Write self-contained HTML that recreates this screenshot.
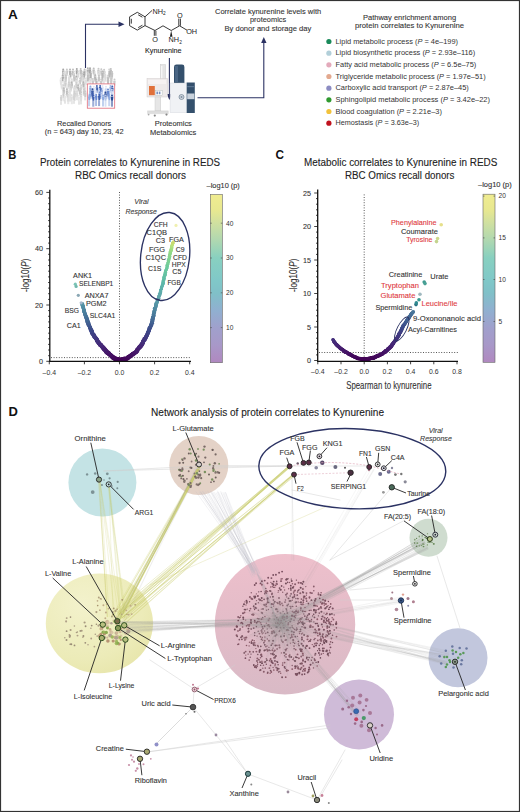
<!DOCTYPE html><html><head><meta charset="utf-8"><style>html,body{margin:0;padding:0;background:#fff}svg{display:block}text{font-family:"Liberation Sans",sans-serif}</style></head><body>
<svg width="520" height="812" viewBox="0 0 520 812">
<rect width="520" height="812" fill="#fff"/>
<text x="8.0" y="18.9" font-size="13.2" fill="#111" font-weight="bold" textLength="9.8" lengthAdjust="spacingAndGlyphs">A</text>
<path d="M85.5 68 V24.3 H120" fill="none" stroke="#2b3263" stroke-width="1.1"/>
<path d="M124.5 24.3 L118.5 21.6 L118.5 27 Z" fill="#2b3263"/>
<g>
<circle cx="63.2" cy="69.5" r="1.0" fill="#a5a5a5"/>
<path d="M62.0 70.6 h2.5 l-0.35 4.3 h-1.8 z" fill="#a5a5a5"/>
<rect x="62.5" y="74.9" width="0.55" height="1.2" fill="#d0d0d0"/><rect x="63.4" y="74.9" width="0.55" height="1.2" fill="#d0d0d0"/>
<circle cx="66.9" cy="69.4" r="1.0" fill="#c8c8c8"/>
<path d="M65.7 70.5 h2.5 l-0.35 4.3 h-1.8 z" fill="#c8c8c8"/>
<rect x="66.2" y="74.8" width="0.55" height="1.2" fill="#d0d0d0"/><rect x="67.1" y="74.8" width="0.55" height="1.2" fill="#d0d0d0"/>
<circle cx="70.0" cy="69.6" r="1.0" fill="#b4b4b4"/>
<path d="M68.8 70.7 h2.5 l-0.35 4.3 h-1.8 z" fill="#b4b4b4"/>
<rect x="69.3" y="75.0" width="0.55" height="1.2" fill="#d0d0d0"/><rect x="70.2" y="75.0" width="0.55" height="1.2" fill="#d0d0d0"/>
<circle cx="73.0" cy="69.6" r="1.0" fill="#bebebe"/>
<path d="M71.7 70.7 h2.5 l-0.35 4.3 h-1.8 z" fill="#bebebe"/>
<rect x="72.2" y="75.0" width="0.55" height="1.2" fill="#d0d0d0"/><rect x="73.2" y="75.0" width="0.55" height="1.2" fill="#d0d0d0"/>
<circle cx="76.8" cy="69.1" r="1.0" fill="#a5a5a5"/>
<path d="M75.6 70.2 h2.5 l-0.35 4.3 h-1.8 z" fill="#a5a5a5"/>
<rect x="76.1" y="74.5" width="0.55" height="1.2" fill="#d0d0d0"/><rect x="77.0" y="74.5" width="0.55" height="1.2" fill="#d0d0d0"/>
<circle cx="80.7" cy="68.9" r="1.0" fill="#bebebe"/>
<path d="M79.5 70.0 h2.5 l-0.35 4.3 h-1.8 z" fill="#bebebe"/>
<rect x="80.0" y="74.3" width="0.55" height="1.2" fill="#d0d0d0"/><rect x="80.9" y="74.3" width="0.55" height="1.2" fill="#d0d0d0"/>
<circle cx="84.6" cy="69.4" r="1.0" fill="#bebebe"/>
<path d="M83.3 70.5 h2.5 l-0.35 4.3 h-1.8 z" fill="#bebebe"/>
<rect x="83.8" y="74.8" width="0.55" height="1.2" fill="#d0d0d0"/><rect x="84.8" y="74.8" width="0.55" height="1.2" fill="#d0d0d0"/>
<circle cx="87.8" cy="68.3" r="1.0" fill="#afafaf"/>
<path d="M86.5 69.4 h2.5 l-0.35 4.3 h-1.8 z" fill="#afafaf"/>
<rect x="87.0" y="73.7" width="0.55" height="1.2" fill="#d0d0d0"/><rect x="88.0" y="73.7" width="0.55" height="1.2" fill="#d0d0d0"/>
<circle cx="90.0" cy="68.2" r="1.0" fill="#a5a5a5"/>
<path d="M88.7 69.3 h2.5 l-0.35 4.3 h-1.8 z" fill="#a5a5a5"/>
<rect x="89.2" y="73.6" width="0.55" height="1.2" fill="#d0d0d0"/><rect x="90.2" y="73.6" width="0.55" height="1.2" fill="#d0d0d0"/>
<circle cx="93.7" cy="68.5" r="1.0" fill="#bebebe"/>
<path d="M92.4 69.6 h2.5 l-0.35 4.3 h-1.8 z" fill="#bebebe"/>
<rect x="92.9" y="73.9" width="0.55" height="1.2" fill="#d0d0d0"/><rect x="93.9" y="73.9" width="0.55" height="1.2" fill="#d0d0d0"/>
<circle cx="98.5" cy="68.7" r="1.0" fill="#c8c8c8"/>
<path d="M97.2 69.8 h2.5 l-0.35 4.3 h-1.8 z" fill="#c8c8c8"/>
<rect x="97.7" y="74.1" width="0.55" height="1.2" fill="#d0d0d0"/><rect x="98.7" y="74.1" width="0.55" height="1.2" fill="#d0d0d0"/>
<circle cx="101.3" cy="69.3" r="1.0" fill="#c8c8c8"/>
<path d="M100.1 70.4 h2.5 l-0.35 4.3 h-1.8 z" fill="#c8c8c8"/>
<rect x="100.6" y="74.7" width="0.55" height="1.2" fill="#d0d0d0"/><rect x="101.5" y="74.7" width="0.55" height="1.2" fill="#d0d0d0"/>
<circle cx="104.1" cy="69.7" r="1.0" fill="#c8c8c8"/>
<path d="M102.9 70.8 h2.5 l-0.35 4.3 h-1.8 z" fill="#c8c8c8"/>
<rect x="103.4" y="75.1" width="0.55" height="1.2" fill="#d0d0d0"/><rect x="104.3" y="75.1" width="0.55" height="1.2" fill="#d0d0d0"/>
<circle cx="109.2" cy="69.6" r="1.0" fill="#d2d2d2"/>
<path d="M107.9 70.7 h2.5 l-0.35 4.3 h-1.8 z" fill="#d2d2d2"/>
<rect x="108.4" y="75.0" width="0.55" height="1.2" fill="#d0d0d0"/><rect x="109.4" y="75.0" width="0.55" height="1.2" fill="#d0d0d0"/>
<circle cx="110.8" cy="68.9" r="1.0" fill="#bebebe"/>
<path d="M109.5 70.0 h2.5 l-0.35 4.3 h-1.8 z" fill="#bebebe"/>
<rect x="110.0" y="74.3" width="0.55" height="1.2" fill="#d0d0d0"/><rect x="111.0" y="74.3" width="0.55" height="1.2" fill="#d0d0d0"/>
<circle cx="63.6" cy="72.5" r="1.0" fill="#dbdbdb"/>
<path d="M62.4 73.6 h2.5 l-0.35 4.3 h-1.8 z" fill="#dbdbdb"/>
<rect x="62.9" y="77.9" width="0.55" height="1.2" fill="#d0d0d0"/><rect x="63.8" y="77.9" width="0.55" height="1.2" fill="#d0d0d0"/>
<circle cx="66.1" cy="72.1" r="1.0" fill="#d6d6d6"/>
<path d="M64.8 73.2 h2.5 l-0.35 4.3 h-1.8 z" fill="#d6d6d6"/>
<rect x="65.3" y="77.5" width="0.55" height="1.2" fill="#d0d0d0"/><rect x="66.3" y="77.5" width="0.55" height="1.2" fill="#d0d0d0"/>
<circle cx="70.4" cy="72.0" r="1.0" fill="#b3b3b3"/>
<path d="M69.2 73.1 h2.5 l-0.35 4.3 h-1.8 z" fill="#b3b3b3"/>
<rect x="69.7" y="77.4" width="0.55" height="1.2" fill="#d0d0d0"/><rect x="70.6" y="77.4" width="0.55" height="1.2" fill="#d0d0d0"/>
<circle cx="73.9" cy="71.8" r="1.0" fill="#d6d6d6"/>
<path d="M72.6 72.9 h2.5 l-0.35 4.3 h-1.8 z" fill="#d6d6d6"/>
<rect x="73.1" y="77.2" width="0.55" height="1.2" fill="#d0d0d0"/><rect x="74.1" y="77.2" width="0.55" height="1.2" fill="#d0d0d0"/>
<circle cx="78.4" cy="71.5" r="1.0" fill="#dbdbdb"/>
<path d="M77.1 72.6 h2.5 l-0.35 4.3 h-1.8 z" fill="#dbdbdb"/>
<rect x="77.6" y="76.9" width="0.55" height="1.2" fill="#d0d0d0"/><rect x="78.6" y="76.9" width="0.55" height="1.2" fill="#d0d0d0"/>
<circle cx="81.6" cy="71.5" r="1.0" fill="#c2c2c2"/>
<path d="M80.4 72.6 h2.5 l-0.35 4.3 h-1.8 z" fill="#c2c2c2"/>
<rect x="80.9" y="76.9" width="0.55" height="1.2" fill="#d0d0d0"/><rect x="81.8" y="76.9" width="0.55" height="1.2" fill="#d0d0d0"/>
<circle cx="84.2" cy="72.4" r="1.0" fill="#a9a9a9"/>
<path d="M82.9 73.5 h2.5 l-0.35 4.3 h-1.8 z" fill="#a9a9a9"/>
<rect x="83.4" y="77.8" width="0.55" height="1.2" fill="#d0d0d0"/><rect x="84.4" y="77.8" width="0.55" height="1.2" fill="#d0d0d0"/>
<circle cx="87.8" cy="72.6" r="1.0" fill="#cccccc"/>
<path d="M86.6 73.7 h2.5 l-0.35 4.3 h-1.8 z" fill="#cccccc"/>
<rect x="87.1" y="78.0" width="0.55" height="1.2" fill="#d0d0d0"/><rect x="88.0" y="78.0" width="0.55" height="1.2" fill="#d0d0d0"/>
<circle cx="90.7" cy="71.9" r="1.0" fill="#b3b3b3"/>
<path d="M89.4 73.0 h2.5 l-0.35 4.3 h-1.8 z" fill="#b3b3b3"/>
<rect x="89.9" y="77.3" width="0.55" height="1.2" fill="#d0d0d0"/><rect x="90.9" y="77.3" width="0.55" height="1.2" fill="#d0d0d0"/>
<circle cx="94.6" cy="72.1" r="1.0" fill="#d6d6d6"/>
<path d="M93.4 73.2 h2.5 l-0.35 4.3 h-1.8 z" fill="#d6d6d6"/>
<rect x="93.9" y="77.5" width="0.55" height="1.2" fill="#d0d0d0"/><rect x="94.8" y="77.5" width="0.55" height="1.2" fill="#d0d0d0"/>
<circle cx="99.0" cy="71.7" r="1.0" fill="#dbdbdb"/>
<path d="M97.7 72.8 h2.5 l-0.35 4.3 h-1.8 z" fill="#dbdbdb"/>
<rect x="98.2" y="77.1" width="0.55" height="1.2" fill="#d0d0d0"/><rect x="99.2" y="77.1" width="0.55" height="1.2" fill="#d0d0d0"/>
<circle cx="102.7" cy="71.6" r="1.0" fill="#b8b8b8"/>
<path d="M101.4 72.7 h2.5 l-0.35 4.3 h-1.8 z" fill="#b8b8b8"/>
<rect x="101.9" y="77.0" width="0.55" height="1.2" fill="#d0d0d0"/><rect x="102.9" y="77.0" width="0.55" height="1.2" fill="#d0d0d0"/>
<circle cx="104.9" cy="72.3" r="1.0" fill="#dbdbdb"/>
<path d="M103.6 73.4 h2.5 l-0.35 4.3 h-1.8 z" fill="#dbdbdb"/>
<rect x="104.1" y="77.7" width="0.55" height="1.2" fill="#d0d0d0"/><rect x="105.1" y="77.7" width="0.55" height="1.2" fill="#d0d0d0"/>
<circle cx="109.8" cy="72.0" r="1.0" fill="#b8b8b8"/>
<path d="M108.5 73.1 h2.5 l-0.35 4.3 h-1.8 z" fill="#b8b8b8"/>
<rect x="109.0" y="77.4" width="0.55" height="1.2" fill="#d0d0d0"/><rect x="110.0" y="77.4" width="0.55" height="1.2" fill="#d0d0d0"/>
<circle cx="112.1" cy="72.0" r="1.0" fill="#c2c2c2"/>
<path d="M110.8 73.1 h2.5 l-0.35 4.3 h-1.8 z" fill="#c2c2c2"/>
<rect x="111.3" y="77.4" width="0.55" height="1.2" fill="#d0d0d0"/><rect x="112.3" y="77.4" width="0.55" height="1.2" fill="#d0d0d0"/>
<circle cx="62.7" cy="75.6" r="1.0" fill="#adadad"/>
<path d="M61.5 76.7 h2.5 l-0.35 4.3 h-1.8 z" fill="#adadad"/>
<rect x="62.0" y="81.0" width="0.55" height="1.2" fill="#d0d0d0"/><rect x="62.9" y="81.0" width="0.55" height="1.2" fill="#d0d0d0"/>
<circle cx="65.8" cy="75.8" r="1.0" fill="#c6c6c6"/>
<path d="M64.5 76.9 h2.5 l-0.35 4.3 h-1.8 z" fill="#c6c6c6"/>
<rect x="65.0" y="81.2" width="0.55" height="1.2" fill="#d0d0d0"/><rect x="66.0" y="81.2" width="0.55" height="1.2" fill="#d0d0d0"/>
<circle cx="69.2" cy="76.0" r="1.0" fill="#dfdfdf"/>
<path d="M67.9 77.1 h2.5 l-0.35 4.3 h-1.8 z" fill="#dfdfdf"/>
<rect x="68.4" y="81.4" width="0.55" height="1.2" fill="#d0d0d0"/><rect x="69.4" y="81.4" width="0.55" height="1.2" fill="#d0d0d0"/>
<circle cx="74.2" cy="75.5" r="1.0" fill="#c6c6c6"/>
<path d="M73.0 76.6 h2.5 l-0.35 4.3 h-1.8 z" fill="#c6c6c6"/>
<rect x="73.5" y="80.9" width="0.55" height="1.2" fill="#d0d0d0"/><rect x="74.4" y="80.9" width="0.55" height="1.2" fill="#d0d0d0"/>
<circle cx="76.4" cy="76.4" r="1.0" fill="#adadad"/>
<path d="M75.1 77.5 h2.5 l-0.35 4.3 h-1.8 z" fill="#adadad"/>
<rect x="75.6" y="81.8" width="0.55" height="1.2" fill="#d0d0d0"/><rect x="76.6" y="81.8" width="0.55" height="1.2" fill="#d0d0d0"/>
<circle cx="81.2" cy="75.3" r="1.0" fill="#d0d0d0"/>
<path d="M79.9 76.4 h2.5 l-0.35 4.3 h-1.8 z" fill="#d0d0d0"/>
<rect x="80.4" y="80.7" width="0.55" height="1.2" fill="#d0d0d0"/><rect x="81.4" y="80.7" width="0.55" height="1.2" fill="#d0d0d0"/>
<circle cx="83.4" cy="76.0" r="1.0" fill="#c6c6c6"/>
<path d="M82.1 77.1 h2.5 l-0.35 4.3 h-1.8 z" fill="#c6c6c6"/>
<rect x="82.6" y="81.4" width="0.55" height="1.2" fill="#d0d0d0"/><rect x="83.6" y="81.4" width="0.55" height="1.2" fill="#d0d0d0"/>
<circle cx="87.9" cy="76.1" r="1.0" fill="#bcbcbc"/>
<path d="M86.6 77.2 h2.5 l-0.35 4.3 h-1.8 z" fill="#bcbcbc"/>
<rect x="87.1" y="81.5" width="0.55" height="1.2" fill="#d0d0d0"/><rect x="88.1" y="81.5" width="0.55" height="1.2" fill="#d0d0d0"/>
<circle cx="90.4" cy="75.4" r="1.0" fill="#adadad"/>
<path d="M89.2 76.5 h2.5 l-0.35 4.3 h-1.8 z" fill="#adadad"/>
<rect x="89.7" y="80.8" width="0.55" height="1.2" fill="#d0d0d0"/><rect x="90.6" y="80.8" width="0.55" height="1.2" fill="#d0d0d0"/>
<circle cx="95.3" cy="75.3" r="1.0" fill="#b7b7b7"/>
<path d="M94.0 76.4 h2.5 l-0.35 4.3 h-1.8 z" fill="#b7b7b7"/>
<rect x="94.5" y="80.7" width="0.55" height="1.2" fill="#d0d0d0"/><rect x="95.5" y="80.7" width="0.55" height="1.2" fill="#d0d0d0"/>
<circle cx="98.9" cy="75.8" r="1.0" fill="#c6c6c6"/>
<path d="M97.7 76.9 h2.5 l-0.35 4.3 h-1.8 z" fill="#c6c6c6"/>
<rect x="98.2" y="81.2" width="0.55" height="1.2" fill="#d0d0d0"/><rect x="99.1" y="81.2" width="0.55" height="1.2" fill="#d0d0d0"/>
<circle cx="102.5" cy="75.5" r="1.0" fill="#b7b7b7"/>
<path d="M101.3 76.6 h2.5 l-0.35 4.3 h-1.8 z" fill="#b7b7b7"/>
<rect x="101.8" y="80.9" width="0.55" height="1.2" fill="#d0d0d0"/><rect x="102.7" y="80.9" width="0.55" height="1.2" fill="#d0d0d0"/>
<circle cx="105.5" cy="75.3" r="1.0" fill="#dadada"/>
<path d="M104.2 76.4 h2.5 l-0.35 4.3 h-1.8 z" fill="#dadada"/>
<rect x="104.7" y="80.7" width="0.55" height="1.2" fill="#d0d0d0"/><rect x="105.7" y="80.7" width="0.55" height="1.2" fill="#d0d0d0"/>
<circle cx="108.2" cy="75.4" r="1.0" fill="#c6c6c6"/>
<path d="M106.9 76.5 h2.5 l-0.35 4.3 h-1.8 z" fill="#c6c6c6"/>
<rect x="107.4" y="80.8" width="0.55" height="1.2" fill="#d0d0d0"/><rect x="108.4" y="80.8" width="0.55" height="1.2" fill="#d0d0d0"/>
<circle cx="111.3" cy="76.1" r="1.0" fill="#c6c6c6"/>
<path d="M110.1 77.2 h2.5 l-0.35 4.3 h-1.8 z" fill="#c6c6c6"/>
<rect x="110.6" y="81.5" width="0.55" height="1.2" fill="#d0d0d0"/><rect x="111.5" y="81.5" width="0.55" height="1.2" fill="#d0d0d0"/>
<circle cx="60.9" cy="78.5" r="1.0" fill="#e3e3e3"/>
<path d="M59.6 79.6 h2.5 l-0.35 4.3 h-1.8 z" fill="#e3e3e3"/>
<rect x="60.1" y="83.9" width="0.55" height="1.2" fill="#d0d0d0"/><rect x="61.1" y="83.9" width="0.55" height="1.2" fill="#d0d0d0"/>
<circle cx="64.3" cy="79.4" r="1.0" fill="#e3e3e3"/>
<path d="M63.1 80.5 h2.5 l-0.35 4.3 h-1.8 z" fill="#e3e3e3"/>
<rect x="63.6" y="84.8" width="0.55" height="1.2" fill="#d0d0d0"/><rect x="64.5" y="84.8" width="0.55" height="1.2" fill="#d0d0d0"/>
<circle cx="69.1" cy="79.2" r="1.0" fill="#dedede"/>
<path d="M67.9 80.3 h2.5 l-0.35 4.3 h-1.8 z" fill="#dedede"/>
<rect x="68.4" y="84.6" width="0.55" height="1.2" fill="#d0d0d0"/><rect x="69.3" y="84.6" width="0.55" height="1.2" fill="#d0d0d0"/>
<circle cx="71.9" cy="79.2" r="1.0" fill="#dedede"/>
<path d="M70.7 80.3 h2.5 l-0.35 4.3 h-1.8 z" fill="#dedede"/>
<rect x="71.2" y="84.6" width="0.55" height="1.2" fill="#d0d0d0"/><rect x="72.1" y="84.6" width="0.55" height="1.2" fill="#d0d0d0"/>
<circle cx="76.4" cy="78.5" r="1.0" fill="#dedede"/>
<path d="M75.1 79.6 h2.5 l-0.35 4.3 h-1.8 z" fill="#dedede"/>
<rect x="75.6" y="83.9" width="0.55" height="1.2" fill="#d0d0d0"/><rect x="76.6" y="83.9" width="0.55" height="1.2" fill="#d0d0d0"/>
<circle cx="80.1" cy="78.6" r="1.0" fill="#cacaca"/>
<path d="M78.9 79.7 h2.5 l-0.35 4.3 h-1.8 z" fill="#cacaca"/>
<rect x="79.4" y="84.0" width="0.55" height="1.2" fill="#d0d0d0"/><rect x="80.3" y="84.0" width="0.55" height="1.2" fill="#d0d0d0"/>
<circle cx="82.9" cy="78.1" r="1.0" fill="#dedede"/>
<path d="M81.6 79.2 h2.5 l-0.35 4.3 h-1.8 z" fill="#dedede"/>
<rect x="82.1" y="83.5" width="0.55" height="1.2" fill="#d0d0d0"/><rect x="83.1" y="83.5" width="0.55" height="1.2" fill="#d0d0d0"/>
<circle cx="85.9" cy="78.5" r="1.0" fill="#dedede"/>
<path d="M84.6 79.6 h2.5 l-0.35 4.3 h-1.8 z" fill="#dedede"/>
<rect x="85.1" y="83.9" width="0.55" height="1.2" fill="#d0d0d0"/><rect x="86.1" y="83.9" width="0.55" height="1.2" fill="#d0d0d0"/>
<circle cx="90.4" cy="79.1" r="1.0" fill="#e3e3e3"/>
<path d="M89.1 80.2 h2.5 l-0.35 4.3 h-1.8 z" fill="#e3e3e3"/>
<rect x="89.6" y="84.5" width="0.55" height="1.2" fill="#d0d0d0"/><rect x="90.6" y="84.5" width="0.55" height="1.2" fill="#d0d0d0"/>
<circle cx="92.9" cy="79.1" r="1.0" fill="#cacaca"/>
<path d="M91.7 80.2 h2.5 l-0.35 4.3 h-1.8 z" fill="#cacaca"/>
<rect x="92.2" y="84.5" width="0.55" height="1.2" fill="#d0d0d0"/><rect x="93.1" y="84.5" width="0.55" height="1.2" fill="#d0d0d0"/>
<circle cx="96.4" cy="79.4" r="1.0" fill="#bbbbbb"/>
<path d="M95.2 80.5 h2.5 l-0.35 4.3 h-1.8 z" fill="#bbbbbb"/>
<rect x="95.7" y="84.8" width="0.55" height="1.2" fill="#d0d0d0"/><rect x="96.6" y="84.8" width="0.55" height="1.2" fill="#d0d0d0"/>
<circle cx="101.2" cy="79.6" r="1.0" fill="#cacaca"/>
<path d="M99.9 80.7 h2.5 l-0.35 4.3 h-1.8 z" fill="#cacaca"/>
<rect x="100.4" y="85.0" width="0.55" height="1.2" fill="#d0d0d0"/><rect x="101.4" y="85.0" width="0.55" height="1.2" fill="#d0d0d0"/>
<circle cx="103.8" cy="78.4" r="1.0" fill="#e3e3e3"/>
<path d="M102.5 79.5 h2.5 l-0.35 4.3 h-1.8 z" fill="#e3e3e3"/>
<rect x="103.0" y="83.8" width="0.55" height="1.2" fill="#d0d0d0"/><rect x="104.0" y="83.8" width="0.55" height="1.2" fill="#d0d0d0"/>
<circle cx="108.1" cy="78.9" r="1.0" fill="#c0c0c0"/>
<path d="M106.8 80.0 h2.5 l-0.35 4.3 h-1.8 z" fill="#c0c0c0"/>
<rect x="107.3" y="84.3" width="0.55" height="1.2" fill="#d0d0d0"/><rect x="108.3" y="84.3" width="0.55" height="1.2" fill="#d0d0d0"/>
<circle cx="111.2" cy="79.3" r="1.0" fill="#cacaca"/>
<path d="M109.9 80.4 h2.5 l-0.35 4.3 h-1.8 z" fill="#cacaca"/>
<rect x="110.4" y="84.7" width="0.55" height="1.2" fill="#d0d0d0"/><rect x="111.4" y="84.7" width="0.55" height="1.2" fill="#d0d0d0"/>
<circle cx="114.5" cy="79.6" r="1.0" fill="#cacaca"/>
<path d="M113.2 80.7 h2.5 l-0.35 4.3 h-1.8 z" fill="#cacaca"/>
<rect x="113.7" y="85.0" width="0.55" height="1.2" fill="#d0d0d0"/><rect x="114.7" y="85.0" width="0.55" height="1.2" fill="#d0d0d0"/>
<circle cx="61.7" cy="82.8" r="1.0" fill="#e2e2e2"/>
<path d="M60.4 83.9 h2.5 l-0.35 4.3 h-1.8 z" fill="#e2e2e2"/>
<rect x="60.9" y="88.2" width="0.55" height="1.2" fill="#d0d0d0"/><rect x="61.9" y="88.2" width="0.55" height="1.2" fill="#d0d0d0"/>
<circle cx="65.5" cy="81.4" r="1.0" fill="#cecece"/>
<path d="M64.3 82.5 h2.5 l-0.35 4.3 h-1.8 z" fill="#cecece"/>
<rect x="64.8" y="86.8" width="0.55" height="1.2" fill="#d0d0d0"/><rect x="65.7" y="86.8" width="0.55" height="1.2" fill="#d0d0d0"/>
<circle cx="68.8" cy="82.4" r="1.0" fill="#cecece"/>
<path d="M67.5 83.5 h2.5 l-0.35 4.3 h-1.8 z" fill="#cecece"/>
<rect x="68.0" y="87.8" width="0.55" height="1.2" fill="#d0d0d0"/><rect x="69.0" y="87.8" width="0.55" height="1.2" fill="#d0d0d0"/>
<circle cx="71.5" cy="82.5" r="1.0" fill="#b5b5b5"/>
<path d="M70.3 83.6 h2.5 l-0.35 4.3 h-1.8 z" fill="#b5b5b5"/>
<rect x="70.8" y="87.9" width="0.55" height="1.2" fill="#d0d0d0"/><rect x="71.7" y="87.9" width="0.55" height="1.2" fill="#d0d0d0"/>
<circle cx="76.6" cy="83.0" r="1.0" fill="#cecece"/>
<path d="M75.3 84.1 h2.5 l-0.35 4.3 h-1.8 z" fill="#cecece"/>
<rect x="75.8" y="88.4" width="0.55" height="1.2" fill="#d0d0d0"/><rect x="76.8" y="88.4" width="0.55" height="1.2" fill="#d0d0d0"/>
<circle cx="78.2" cy="81.6" r="1.0" fill="#e6e6e6"/>
<path d="M76.9 82.7 h2.5 l-0.35 4.3 h-1.8 z" fill="#e6e6e6"/>
<rect x="77.4" y="87.0" width="0.55" height="1.2" fill="#d0d0d0"/><rect x="78.4" y="87.0" width="0.55" height="1.2" fill="#d0d0d0"/>
<circle cx="83.5" cy="82.2" r="1.0" fill="#b5b5b5"/>
<path d="M82.3 83.3 h2.5 l-0.35 4.3 h-1.8 z" fill="#b5b5b5"/>
<rect x="82.8" y="87.6" width="0.55" height="1.2" fill="#d0d0d0"/><rect x="83.7" y="87.6" width="0.55" height="1.2" fill="#d0d0d0"/>
<circle cx="63.5" cy="85.3" r="1.0" fill="#d2d2d2"/>
<path d="M62.3 86.4 h2.5 l-0.35 4.3 h-1.8 z" fill="#d2d2d2"/>
<rect x="62.8" y="90.7" width="0.55" height="1.2" fill="#d0d0d0"/><rect x="63.7" y="90.7" width="0.55" height="1.2" fill="#d0d0d0"/>
<circle cx="67.3" cy="86.0" r="1.0" fill="#e6e6e6"/>
<path d="M66.0 87.1 h2.5 l-0.35 4.3 h-1.8 z" fill="#e6e6e6"/>
<rect x="66.5" y="91.4" width="0.55" height="1.2" fill="#d0d0d0"/><rect x="67.5" y="91.4" width="0.55" height="1.2" fill="#d0d0d0"/>
<circle cx="70.9" cy="85.0" r="1.0" fill="#d2d2d2"/>
<path d="M69.6 86.1 h2.5 l-0.35 4.3 h-1.8 z" fill="#d2d2d2"/>
<rect x="70.1" y="90.4" width="0.55" height="1.2" fill="#d0d0d0"/><rect x="71.1" y="90.4" width="0.55" height="1.2" fill="#d0d0d0"/>
<circle cx="74.6" cy="86.2" r="1.0" fill="#d2d2d2"/>
<path d="M73.3 87.3 h2.5 l-0.35 4.3 h-1.8 z" fill="#d2d2d2"/>
<rect x="73.8" y="91.6" width="0.55" height="1.2" fill="#d0d0d0"/><rect x="74.8" y="91.6" width="0.55" height="1.2" fill="#d0d0d0"/>
<circle cx="78.1" cy="85.3" r="1.0" fill="#b9b9b9"/>
<path d="M76.9 86.4 h2.5 l-0.35 4.3 h-1.8 z" fill="#b9b9b9"/>
<rect x="77.4" y="90.7" width="0.55" height="1.2" fill="#d0d0d0"/><rect x="78.3" y="90.7" width="0.55" height="1.2" fill="#d0d0d0"/>
<circle cx="81.2" cy="85.2" r="1.0" fill="#d2d2d2"/>
<path d="M79.9 86.3 h2.5 l-0.35 4.3 h-1.8 z" fill="#d2d2d2"/>
<rect x="80.4" y="90.6" width="0.55" height="1.2" fill="#d0d0d0"/><rect x="81.4" y="90.6" width="0.55" height="1.2" fill="#d0d0d0"/>
<circle cx="84.6" cy="86.1" r="1.0" fill="#d2d2d2"/>
<path d="M83.3 87.2 h2.5 l-0.35 4.3 h-1.8 z" fill="#d2d2d2"/>
<rect x="83.8" y="91.5" width="0.55" height="1.2" fill="#d0d0d0"/><rect x="84.8" y="91.5" width="0.55" height="1.2" fill="#d0d0d0"/>
<circle cx="63.8" cy="88.4" r="1.0" fill="#bdbdbd"/>
<path d="M62.5 89.5 h2.5 l-0.35 4.3 h-1.8 z" fill="#bdbdbd"/>
<rect x="63.0" y="93.8" width="0.55" height="1.2" fill="#d0d0d0"/><rect x="64.0" y="93.8" width="0.55" height="1.2" fill="#d0d0d0"/>
<circle cx="66.9" cy="89.3" r="1.0" fill="#bdbdbd"/>
<path d="M65.7 90.4 h2.5 l-0.35 4.3 h-1.8 z" fill="#bdbdbd"/>
<rect x="66.2" y="94.7" width="0.55" height="1.2" fill="#d0d0d0"/><rect x="67.1" y="94.7" width="0.55" height="1.2" fill="#d0d0d0"/>
<circle cx="69.8" cy="88.9" r="1.0" fill="#e0e0e0"/>
<path d="M68.6 90.0 h2.5 l-0.35 4.3 h-1.8 z" fill="#e0e0e0"/>
<rect x="69.1" y="94.3" width="0.55" height="1.2" fill="#d0d0d0"/><rect x="70.0" y="94.3" width="0.55" height="1.2" fill="#d0d0d0"/>
<circle cx="74.2" cy="89.3" r="1.0" fill="#e0e0e0"/>
<path d="M73.0 90.4 h2.5 l-0.35 4.3 h-1.8 z" fill="#e0e0e0"/>
<rect x="73.5" y="94.7" width="0.55" height="1.2" fill="#d0d0d0"/><rect x="74.4" y="94.7" width="0.55" height="1.2" fill="#d0d0d0"/>
<circle cx="76.9" cy="89.4" r="1.0" fill="#e6e6e6"/>
<path d="M75.6 90.5 h2.5 l-0.35 4.3 h-1.8 z" fill="#e6e6e6"/>
<rect x="76.1" y="94.8" width="0.55" height="1.2" fill="#d0d0d0"/><rect x="77.1" y="94.8" width="0.55" height="1.2" fill="#d0d0d0"/>
<circle cx="80.0" cy="89.0" r="1.0" fill="#c7c7c7"/>
<path d="M78.7 90.1 h2.5 l-0.35 4.3 h-1.8 z" fill="#c7c7c7"/>
<rect x="79.2" y="94.4" width="0.55" height="1.2" fill="#d0d0d0"/><rect x="80.2" y="94.4" width="0.55" height="1.2" fill="#d0d0d0"/>
<circle cx="83.9" cy="89.4" r="1.0" fill="#cccccc"/>
<path d="M82.7 90.5 h2.5 l-0.35 4.3 h-1.8 z" fill="#cccccc"/>
<rect x="83.2" y="94.8" width="0.55" height="1.2" fill="#d0d0d0"/><rect x="84.1" y="94.8" width="0.55" height="1.2" fill="#d0d0d0"/>
<circle cx="63.6" cy="92.4" r="1.0" fill="#cbcbcb"/>
<path d="M62.3 93.5 h2.5 l-0.35 4.3 h-1.8 z" fill="#cbcbcb"/>
<rect x="62.8" y="97.8" width="0.55" height="3.5" fill="#d0d0d0"/><rect x="63.8" y="97.8" width="0.55" height="3.5" fill="#d0d0d0"/>
<circle cx="67.6" cy="92.6" r="1.0" fill="#cbcbcb"/>
<path d="M66.4 93.7 h2.5 l-0.35 4.3 h-1.8 z" fill="#cbcbcb"/>
<rect x="66.9" y="98.0" width="0.55" height="3.5" fill="#d0d0d0"/><rect x="67.8" y="98.0" width="0.55" height="3.5" fill="#d0d0d0"/>
<circle cx="70.2" cy="92.7" r="1.0" fill="#e4e4e4"/>
<path d="M68.9 93.8 h2.5 l-0.35 4.3 h-1.8 z" fill="#e4e4e4"/>
<rect x="69.4" y="98.1" width="0.55" height="3.5" fill="#d0d0d0"/><rect x="70.4" y="98.1" width="0.55" height="3.5" fill="#d0d0d0"/>
<circle cx="74.7" cy="92.0" r="1.0" fill="#d0d0d0"/>
<path d="M73.5 93.1 h2.5 l-0.35 4.3 h-1.8 z" fill="#d0d0d0"/>
<rect x="74.0" y="97.4" width="0.55" height="3.5" fill="#d0d0d0"/><rect x="74.9" y="97.4" width="0.55" height="3.5" fill="#d0d0d0"/>
<circle cx="77.0" cy="91.3" r="1.0" fill="#dadada"/>
<path d="M75.8 92.4 h2.5 l-0.35 4.3 h-1.8 z" fill="#dadada"/>
<rect x="76.3" y="96.7" width="0.55" height="3.5" fill="#d0d0d0"/><rect x="77.2" y="96.7" width="0.55" height="3.5" fill="#d0d0d0"/>
<circle cx="81.1" cy="92.3" r="1.0" fill="#cbcbcb"/>
<path d="M79.8 93.4 h2.5 l-0.35 4.3 h-1.8 z" fill="#cbcbcb"/>
<rect x="80.3" y="97.7" width="0.55" height="3.5" fill="#d0d0d0"/><rect x="81.3" y="97.7" width="0.55" height="3.5" fill="#d0d0d0"/>
<circle cx="85.2" cy="91.5" r="1.0" fill="#cbcbcb"/>
<path d="M84.0 92.6 h2.5 l-0.35 4.3 h-1.8 z" fill="#cbcbcb"/>
<rect x="84.5" y="96.9" width="0.55" height="3.5" fill="#d0d0d0"/><rect x="85.4" y="96.9" width="0.55" height="3.5" fill="#d0d0d0"/>
<circle cx="61.2" cy="95.9" r="1.0" fill="#d4d4d4"/>
<path d="M59.9 97.0 h2.5 l-0.35 4.3 h-1.8 z" fill="#d4d4d4"/>
<rect x="60.4" y="101.3" width="0.55" height="3.5" fill="#d0d0d0"/><rect x="61.4" y="101.3" width="0.55" height="3.5" fill="#d0d0d0"/>
<circle cx="64.9" cy="94.8" r="1.0" fill="#e6e6e6"/>
<path d="M63.6 95.9 h2.5 l-0.35 4.3 h-1.8 z" fill="#e6e6e6"/>
<rect x="64.1" y="100.2" width="0.55" height="3.5" fill="#d0d0d0"/><rect x="65.1" y="100.2" width="0.55" height="3.5" fill="#d0d0d0"/>
<circle cx="68.4" cy="95.3" r="1.0" fill="#dedede"/>
<path d="M67.1 96.4 h2.5 l-0.35 4.3 h-1.8 z" fill="#dedede"/>
<rect x="67.6" y="100.7" width="0.55" height="3.5" fill="#d0d0d0"/><rect x="68.6" y="100.7" width="0.55" height="3.5" fill="#d0d0d0"/>
<circle cx="71.7" cy="95.3" r="1.0" fill="#dedede"/>
<path d="M70.4 96.4 h2.5 l-0.35 4.3 h-1.8 z" fill="#dedede"/>
<rect x="70.9" y="100.7" width="0.55" height="3.5" fill="#d0d0d0"/><rect x="71.9" y="100.7" width="0.55" height="3.5" fill="#d0d0d0"/>
<circle cx="74.1" cy="94.9" r="1.0" fill="#d4d4d4"/>
<path d="M72.8 96.0 h2.5 l-0.35 4.3 h-1.8 z" fill="#d4d4d4"/>
<rect x="73.3" y="100.3" width="0.55" height="3.5" fill="#d0d0d0"/><rect x="74.3" y="100.3" width="0.55" height="3.5" fill="#d0d0d0"/>
<circle cx="78.8" cy="95.8" r="1.0" fill="#e6e6e6"/>
<path d="M77.5 96.9 h2.5 l-0.35 4.3 h-1.8 z" fill="#e6e6e6"/>
<rect x="78.0" y="101.2" width="0.55" height="3.5" fill="#d0d0d0"/><rect x="79.0" y="101.2" width="0.55" height="3.5" fill="#d0d0d0"/>
<circle cx="81.1" cy="95.5" r="1.0" fill="#dedede"/>
<path d="M79.8 96.6 h2.5 l-0.35 4.3 h-1.8 z" fill="#dedede"/>
<rect x="80.3" y="100.9" width="0.55" height="3.5" fill="#d0d0d0"/><rect x="81.3" y="100.9" width="0.55" height="3.5" fill="#d0d0d0"/>
<rect x="87.3" y="83.9" width="27.4" height="24.3" fill="#fff" stroke="#e06a78" stroke-width="0.8"/>
<circle cx="90.4" cy="86.4" r="1.0" fill="#8fabe0"/>
<path d="M89.1 87.5 h2.5 l-0.35 4.0 h-1.8 z" fill="#8fabe0"/>
<rect x="89.6" y="91.5" width="0.55" height="1.5" fill="#8fabe0"/><rect x="90.6" y="91.5" width="0.55" height="1.5" fill="#8fabe0"/>
<circle cx="93.8" cy="86.8" r="1.0" fill="#dfe6f6"/>
<path d="M92.5 87.9 h2.5 l-0.35 4.0 h-1.8 z" fill="#dfe6f6"/>
<rect x="93.0" y="91.9" width="0.55" height="1.5" fill="#dfe6f6"/><rect x="94.0" y="91.9" width="0.55" height="1.5" fill="#dfe6f6"/>
<circle cx="96.9" cy="86.1" r="1.0" fill="#3f5faf"/>
<path d="M95.7 87.2 h2.5 l-0.35 4.0 h-1.8 z" fill="#3f5faf"/>
<rect x="96.2" y="91.2" width="0.55" height="1.5" fill="#3f5faf"/><rect x="97.1" y="91.2" width="0.55" height="1.5" fill="#3f5faf"/>
<circle cx="100.1" cy="86.0" r="1.0" fill="#3f5faf"/>
<path d="M98.9 87.1 h2.5 l-0.35 4.0 h-1.8 z" fill="#3f5faf"/>
<rect x="99.4" y="91.1" width="0.55" height="1.5" fill="#3f5faf"/><rect x="100.3" y="91.1" width="0.55" height="1.5" fill="#3f5faf"/>
<circle cx="102.5" cy="86.0" r="1.0" fill="#dfe6f6"/>
<path d="M101.3 87.1 h2.5 l-0.35 4.0 h-1.8 z" fill="#dfe6f6"/>
<rect x="101.8" y="91.1" width="0.55" height="1.5" fill="#dfe6f6"/><rect x="102.7" y="91.1" width="0.55" height="1.5" fill="#dfe6f6"/>
<circle cx="106.0" cy="86.8" r="1.0" fill="#dfe6f6"/>
<path d="M104.8 87.9 h2.5 l-0.35 4.0 h-1.8 z" fill="#dfe6f6"/>
<rect x="105.3" y="91.9" width="0.55" height="1.5" fill="#dfe6f6"/><rect x="106.2" y="91.9" width="0.55" height="1.5" fill="#dfe6f6"/>
<circle cx="110.5" cy="86.0" r="1.0" fill="#9fb6e4"/>
<path d="M109.3 87.1 h2.5 l-0.35 4.0 h-1.8 z" fill="#9fb6e4"/>
<rect x="109.8" y="91.1" width="0.55" height="1.5" fill="#9fb6e4"/><rect x="110.7" y="91.1" width="0.55" height="1.5" fill="#9fb6e4"/>
<circle cx="112.3" cy="86.6" r="1.0" fill="#3f5faf"/>
<path d="M111.1 87.7 h2.5 l-0.35 4.0 h-1.8 z" fill="#3f5faf"/>
<rect x="111.6" y="91.7" width="0.55" height="1.5" fill="#3f5faf"/><rect x="112.5" y="91.7" width="0.55" height="1.5" fill="#3f5faf"/>
<circle cx="92.5" cy="89.3" r="1.0" fill="#2a4a96"/>
<path d="M91.2 90.4 h2.5 l-0.35 4.0 h-1.8 z" fill="#2a4a96"/>
<rect x="91.7" y="94.4" width="0.55" height="1.5" fill="#2a4a96"/><rect x="92.7" y="94.4" width="0.55" height="1.5" fill="#2a4a96"/>
<circle cx="95.4" cy="89.0" r="1.0" fill="#dfe6f6"/>
<path d="M94.2 90.1 h2.5 l-0.35 4.0 h-1.8 z" fill="#dfe6f6"/>
<rect x="94.7" y="94.1" width="0.55" height="1.5" fill="#dfe6f6"/><rect x="95.6" y="94.1" width="0.55" height="1.5" fill="#dfe6f6"/>
<circle cx="98.9" cy="89.0" r="1.0" fill="#c8d4f0"/>
<path d="M97.6 90.1 h2.5 l-0.35 4.0 h-1.8 z" fill="#c8d4f0"/>
<rect x="98.1" y="94.1" width="0.55" height="1.5" fill="#c8d4f0"/><rect x="99.1" y="94.1" width="0.55" height="1.5" fill="#c8d4f0"/>
<circle cx="101.4" cy="89.1" r="1.0" fill="#6a8ad0"/>
<path d="M100.2 90.2 h2.5 l-0.35 4.0 h-1.8 z" fill="#6a8ad0"/>
<rect x="100.7" y="94.2" width="0.55" height="1.5" fill="#6a8ad0"/><rect x="101.6" y="94.2" width="0.55" height="1.5" fill="#6a8ad0"/>
<circle cx="105.6" cy="89.6" r="1.0" fill="#c8d4f0"/>
<path d="M104.4 90.7 h2.5 l-0.35 4.0 h-1.8 z" fill="#c8d4f0"/>
<rect x="104.9" y="94.7" width="0.55" height="1.5" fill="#c8d4f0"/><rect x="105.8" y="94.7" width="0.55" height="1.5" fill="#c8d4f0"/>
<circle cx="108.0" cy="89.6" r="1.0" fill="#6a8ad0"/>
<path d="M106.8 90.7 h2.5 l-0.35 4.0 h-1.8 z" fill="#6a8ad0"/>
<rect x="107.3" y="94.7" width="0.55" height="1.5" fill="#6a8ad0"/><rect x="108.2" y="94.7" width="0.55" height="1.5" fill="#6a8ad0"/>
<circle cx="111.8" cy="89.7" r="1.0" fill="#c8d4f0"/>
<path d="M110.5 90.8 h2.5 l-0.35 4.0 h-1.8 z" fill="#c8d4f0"/>
<rect x="111.0" y="94.8" width="0.55" height="1.5" fill="#c8d4f0"/><rect x="112.0" y="94.8" width="0.55" height="1.5" fill="#c8d4f0"/>
<circle cx="90.1" cy="92.1" r="1.0" fill="#8fabe0"/>
<path d="M88.8 93.2 h2.5 l-0.35 4.0 h-1.8 z" fill="#8fabe0"/>
<rect x="89.3" y="97.2" width="0.55" height="1.5" fill="#8fabe0"/><rect x="90.3" y="97.2" width="0.55" height="1.5" fill="#8fabe0"/>
<circle cx="92.4" cy="92.0" r="1.0" fill="#3f5faf"/>
<path d="M91.2 93.1 h2.5 l-0.35 4.0 h-1.8 z" fill="#3f5faf"/>
<rect x="91.7" y="97.1" width="0.55" height="1.5" fill="#3f5faf"/><rect x="92.6" y="97.1" width="0.55" height="1.5" fill="#3f5faf"/>
<circle cx="95.4" cy="92.1" r="1.0" fill="#dfe6f6"/>
<path d="M94.2 93.2 h2.5 l-0.35 4.0 h-1.8 z" fill="#dfe6f6"/>
<rect x="94.7" y="97.2" width="0.55" height="1.5" fill="#dfe6f6"/><rect x="95.6" y="97.2" width="0.55" height="1.5" fill="#dfe6f6"/>
<circle cx="99.8" cy="92.4" r="1.0" fill="#6a8ad0"/>
<path d="M98.6 93.5 h2.5 l-0.35 4.0 h-1.8 z" fill="#6a8ad0"/>
<rect x="99.1" y="97.5" width="0.55" height="1.5" fill="#6a8ad0"/><rect x="100.0" y="97.5" width="0.55" height="1.5" fill="#6a8ad0"/>
<circle cx="101.7" cy="92.4" r="1.0" fill="#c8d4f0"/>
<path d="M100.5 93.5 h2.5 l-0.35 4.0 h-1.8 z" fill="#c8d4f0"/>
<rect x="101.0" y="97.5" width="0.55" height="1.5" fill="#c8d4f0"/><rect x="101.9" y="97.5" width="0.55" height="1.5" fill="#c8d4f0"/>
<circle cx="105.5" cy="92.4" r="1.0" fill="#2a4a96"/>
<path d="M104.3 93.5 h2.5 l-0.35 4.0 h-1.8 z" fill="#2a4a96"/>
<rect x="104.8" y="97.5" width="0.55" height="1.5" fill="#2a4a96"/><rect x="105.7" y="97.5" width="0.55" height="1.5" fill="#2a4a96"/>
<circle cx="108.6" cy="92.1" r="1.0" fill="#6a8ad0"/>
<path d="M107.3 93.2 h2.5 l-0.35 4.0 h-1.8 z" fill="#6a8ad0"/>
<rect x="107.8" y="97.2" width="0.55" height="1.5" fill="#6a8ad0"/><rect x="108.8" y="97.2" width="0.55" height="1.5" fill="#6a8ad0"/>
<circle cx="113.0" cy="92.8" r="1.0" fill="#dfe6f6"/>
<path d="M111.7 93.9 h2.5 l-0.35 4.0 h-1.8 z" fill="#dfe6f6"/>
<rect x="112.2" y="97.9" width="0.55" height="1.5" fill="#dfe6f6"/><rect x="113.2" y="97.9" width="0.55" height="1.5" fill="#dfe6f6"/>
<circle cx="89.3" cy="95.2" r="1.0" fill="#8fabe0"/>
<path d="M88.0 96.3 h2.5 l-0.35 4.0 h-1.8 z" fill="#8fabe0"/>
<rect x="88.5" y="100.3" width="0.55" height="6.0" fill="#8fabe0"/><rect x="89.5" y="100.3" width="0.55" height="6.0" fill="#8fabe0"/>
<circle cx="93.4" cy="95.6" r="1.0" fill="#3f5faf"/>
<path d="M92.1 96.7 h2.5 l-0.35 4.0 h-1.8 z" fill="#3f5faf"/>
<rect x="92.6" y="100.7" width="0.55" height="6.0" fill="#3f5faf"/><rect x="93.6" y="100.7" width="0.55" height="6.0" fill="#3f5faf"/>
<circle cx="96.2" cy="94.9" r="1.0" fill="#6a8ad0"/>
<path d="M95.0 96.0 h2.5 l-0.35 4.0 h-1.8 z" fill="#6a8ad0"/>
<rect x="95.5" y="100.0" width="0.55" height="6.0" fill="#6a8ad0"/><rect x="96.4" y="100.0" width="0.55" height="6.0" fill="#6a8ad0"/>
<circle cx="99.3" cy="95.0" r="1.0" fill="#3f5faf"/>
<path d="M98.0 96.1 h2.5 l-0.35 4.0 h-1.8 z" fill="#3f5faf"/>
<rect x="98.5" y="100.1" width="0.55" height="6.0" fill="#3f5faf"/><rect x="99.5" y="100.1" width="0.55" height="6.0" fill="#3f5faf"/>
<circle cx="103.1" cy="95.4" r="1.0" fill="#8fabe0"/>
<path d="M101.9 96.5 h2.5 l-0.35 4.0 h-1.8 z" fill="#8fabe0"/>
<rect x="102.4" y="100.5" width="0.55" height="6.0" fill="#8fabe0"/><rect x="103.3" y="100.5" width="0.55" height="6.0" fill="#8fabe0"/>
<circle cx="105.5" cy="95.6" r="1.0" fill="#b4c6ea"/>
<path d="M104.3 96.7 h2.5 l-0.35 4.0 h-1.8 z" fill="#b4c6ea"/>
<rect x="104.8" y="100.7" width="0.55" height="6.0" fill="#b4c6ea"/><rect x="105.7" y="100.7" width="0.55" height="6.0" fill="#b4c6ea"/>
<circle cx="109.4" cy="95.1" r="1.0" fill="#8fabe0"/>
<path d="M108.1 96.2 h2.5 l-0.35 4.0 h-1.8 z" fill="#8fabe0"/>
<rect x="108.6" y="100.2" width="0.55" height="6.0" fill="#8fabe0"/><rect x="109.6" y="100.2" width="0.55" height="6.0" fill="#8fabe0"/>
<circle cx="112.0" cy="95.6" r="1.0" fill="#2a4a96"/>
<path d="M110.8 96.7 h2.5 l-0.35 4.0 h-1.8 z" fill="#2a4a96"/>
<rect x="111.3" y="100.7" width="0.55" height="6.0" fill="#2a4a96"/><rect x="112.2" y="100.7" width="0.55" height="6.0" fill="#2a4a96"/>
</g>
<text x="57.0" y="125.9" font-size="7.3" fill="#333" stroke="#333" stroke-width="0.1" textLength="54.3" lengthAdjust="spacingAndGlyphs">Recalled Donors</text>
<text x="44.8" y="133.7" font-size="7.3" fill="#333" stroke="#333" stroke-width="0.1" textLength="78.8" lengthAdjust="spacingAndGlyphs">(n = 643) day 10, 23, 42</text>
<g stroke="#222" stroke-width="0.9" fill="none" stroke-linejoin="round">
<path d="M137.3 12.3 L145.0 16.8 L145.0 25.6 L137.3 30.1 L129.6 25.7 L129.6 16.8 Z"/>
<line x1="131.3" y1="23.6" x2="131.3" y2="18.8"/>
<line x1="138.2" y1="14.8" x2="142.4" y2="17.2"/>
<line x1="142.4" y1="25.2" x2="138.2" y2="27.6"/>
<line x1="145.0" y1="16.8" x2="152" y2="10.5"/>
<path d="M145.0 25.6 L155 30.5 L163 25.8 L171.2 30.5 L179.6 25.8 L187 30.2"/>
<line x1="154.3" y1="30.5" x2="154.3" y2="35.8"/><line x1="155.9" y1="30.9" x2="155.9" y2="35.8"/>
<line x1="178.8" y1="25.8" x2="178.8" y2="18.6"/><line x1="180.4" y1="25.8" x2="180.4" y2="18.6"/>
</g>
<path d="M171.2 30.5 L169.9 36.8 L172.5 36.8 Z" fill="#222"/>
<text x="152.4" y="13.6" font-size="7.3" fill="#222">NH<tspan font-size="4.8" dy="1.8">2</tspan></text>
<text x="152.2" y="42.2" font-size="7.3" fill="#222">O</text>
<text x="168.6" y="42.4" font-size="7.3" fill="#222">NH<tspan font-size="4.8" dy="1.8">2</tspan></text>
<text x="177.1" y="17.6" font-size="7.3" fill="#222">O</text>
<text x="186.2" y="33.6" font-size="7.3" fill="#222">OH</text>
<text x="145.0" y="53.2" font-size="7.3" fill="#222" stroke="#222" stroke-width="0.1" textLength="36.6" lengthAdjust="spacingAndGlyphs">Kynurenine</text>
<path d="M169.4 58 V95" fill="none" stroke="#2b3263" stroke-width="1.1"/>
<path d="M169.4 100 L166.8 94 L172 94 Z" fill="#2b3263"/>
<g>
<rect x="160.2" y="64.6" width="5.4" height="18.5" fill="#e4e4e4" stroke="#c4c4c4" stroke-width="0.4"/>
<rect x="161" y="66" width="1.4" height="16" fill="#f6f6f6"/>
<rect x="147" y="78.5" width="20.5" height="18.5" fill="#eeeaea" stroke="#c8c4c4" stroke-width="0.4"/>
<rect x="148" y="80" width="18" height="4" fill="#f6f2f2"/>
<rect x="149" y="86" width="5.8" height="9.2" fill="#e0703a"/>
<rect x="155.6" y="90.6" width="6.9" height="4.6" fill="#fafafa" stroke="#9aa" stroke-width="0.3"/>
<rect x="156.4" y="91.6" width="1.6" height="2.6" fill="#7a90c0"/><rect x="158.8" y="91.6" width="1.6" height="2.6" fill="#7a90c0"/>
<rect x="155" y="97" width="5.8" height="13.8" fill="#e6e6e6" stroke="#c4c4c4" stroke-width="0.4"/>
<path d="M147.5 110.8 H168.3 V113.7 H147.5 Z" fill="#dedede" stroke="#c4c4c4" stroke-width="0.3"/>
<circle cx="154.8" cy="115.6" r="1.1" fill="#888"/><circle cx="166.5" cy="114.6" r="1.1" fill="#888"/><circle cx="148.6" cy="114.6" r="0.9" fill="#aaa"/>
<path d="M174 83 V67 Q174 64.6 176.5 64.6 H182 Q184.4 64.6 184.4 67 V83 Z" fill="#34506c"/>
<rect x="175" y="66" width="3" height="16" fill="#4a6684"/>
<path d="M170.2 83 H187.3 V112.5 H170.2 Z" fill="#f0f2f5" stroke="#c9ced6" stroke-width="0.4"/>
<path d="M186.7 82.5 H194.8 V113 H186.7 Z" fill="#34506c"/>
<rect x="187.2" y="93.5" width="7.2" height="5.7" fill="#c9d2dc"/>
<rect x="187.2" y="86" width="7.2" height="1.2" fill="#5a7490"/>
<circle cx="181.5" cy="97" r="2.5" fill="#cfd6de" stroke="#6f7f90" stroke-width="0.7"/>
<circle cx="181.5" cy="97" r="1" fill="#7f8fa0"/>
</g>
<text x="154.8" y="126.0" font-size="7.3" fill="#333" stroke="#333" stroke-width="0.1" textLength="37.0" lengthAdjust="spacingAndGlyphs">Proteomics</text>
<text x="150.1" y="134.5" font-size="7.3" fill="#333" stroke="#333" stroke-width="0.1" textLength="46.2" lengthAdjust="spacingAndGlyphs">Metabolomics</text>
<path d="M197.5 97.8 H263.8 V41" fill="none" stroke="#2b3263" stroke-width="1.1"/>
<path d="M263.8 37 L261.1 43 L266.5 43 Z" fill="#2b3263"/>
<text x="215.0" y="13.7" font-size="7.4" fill="#333" stroke="#333" stroke-width="0.1" textLength="106.2" lengthAdjust="spacingAndGlyphs">Correlate kynurenine levels with</text>
<text x="250.0" y="21.6" font-size="7.4" fill="#333" stroke="#333" stroke-width="0.1" textLength="36.2" lengthAdjust="spacingAndGlyphs">proteomics</text>
<text x="224.5" y="31.3" font-size="7.4" fill="#333" stroke="#333" stroke-width="0.1" textLength="86.7" lengthAdjust="spacingAndGlyphs">By donor and storage day</text>
<text x="363.0" y="20.3" font-size="7.4" fill="#333" stroke="#333" stroke-width="0.1" textLength="93.1" lengthAdjust="spacingAndGlyphs">Pathway enrichment among</text>
<text x="355.0" y="28.1" font-size="7.4" fill="#333" stroke="#333" stroke-width="0.1" textLength="109.0" lengthAdjust="spacingAndGlyphs">protein correlates to Kynurenine</text>
<circle cx="328.9" cy="41.5" r="2.60" fill="#1a8a5a"/>
<text x="335.5" y="43.6" font-size="6.9" fill="#333" textLength="122.5" lengthAdjust="spacingAndGlyphs">Lipid metabolic process (<tspan font-style="italic">P</tspan> = 4e–199)</text>
<circle cx="328.9" cy="53.2" r="2.60" fill="#b2cfd9"/>
<text x="335.5" y="55.3" font-size="6.9" fill="#333" textLength="139.7" lengthAdjust="spacingAndGlyphs">Lipid biosynthetic process (<tspan font-style="italic">P</tspan> = 2.93e–116)</text>
<circle cx="328.9" cy="64.8" r="2.60" fill="#e3aabb"/>
<text x="335.5" y="66.9" font-size="6.9" fill="#333" textLength="140.8" lengthAdjust="spacingAndGlyphs">Fatty acid metabolic process (<tspan font-style="italic">P</tspan> = 6.5e–75)</text>
<circle cx="328.9" cy="76.5" r="2.60" fill="#e3a98f"/>
<text x="335.5" y="78.6" font-size="6.9" fill="#333" textLength="150.1" lengthAdjust="spacingAndGlyphs">Triglyceride metabolic process (<tspan font-style="italic">P</tspan> = 1.97e–51)</text>
<circle cx="328.9" cy="88.2" r="2.60" fill="#8c8cc2"/>
<text x="335.5" y="90.3" font-size="6.9" fill="#333" textLength="133.3" lengthAdjust="spacingAndGlyphs">Carboxylic acid transport (<tspan font-style="italic">P</tspan> = 2.87e–45)</text>
<circle cx="328.9" cy="99.8" r="2.60" fill="#2f9a2f"/>
<text x="335.5" y="101.9" font-size="6.9" fill="#333" textLength="154.5" lengthAdjust="spacingAndGlyphs">Sphingolipid metabolic process (<tspan font-style="italic">P</tspan> = 3.42e–22)</text>
<circle cx="328.9" cy="111.5" r="2.60" fill="#f2c23c"/>
<text x="335.5" y="113.6" font-size="6.9" fill="#333" textLength="106.4" lengthAdjust="spacingAndGlyphs">Blood coagulation (<tspan font-style="italic">P</tspan> = 2.21e–3)</text>
<circle cx="328.9" cy="123.2" r="2.60" fill="#c0121e"/>
<text x="335.5" y="125.3" font-size="6.9" fill="#333" textLength="83.7" lengthAdjust="spacingAndGlyphs">Hemostasis (<tspan font-style="italic">P</tspan> = 3.63e–3)</text>
<text x="8.3" y="159.2" font-size="12.8" fill="#111" font-weight="bold" textLength="8.1" lengthAdjust="spacingAndGlyphs">B</text>
<text x="40.0" y="166.4" font-size="10" fill="#222" stroke="#222" stroke-width="0.1" textLength="180.0" lengthAdjust="spacingAndGlyphs">Protein correlates to Kynurenine in REDS</text>
<text x="75.0" y="179.1" font-size="10" fill="#222" stroke="#222" stroke-width="0.1" textLength="111.0" lengthAdjust="spacingAndGlyphs">RBC Omics recall donors</text>
<line x1="119.5" y1="192" x2="119.5" y2="361.3" stroke="#444" stroke-width="0.9" stroke-dasharray="1 1.6"/>
<line x1="51" y1="357.6" x2="191" y2="357.6" stroke="#444" stroke-width="0.9" stroke-dasharray="1 1.6"/>
<circle cx="121.6" cy="360.0" r="2.09" fill="#440457"/>
<circle cx="119.7" cy="359.9" r="2.09" fill="#440457"/>
<circle cx="122.3" cy="359.9" r="2.09" fill="#440457"/>
<circle cx="120.6" cy="359.9" r="2.09" fill="#440457"/>
<circle cx="123.6" cy="359.8" r="2.09" fill="#440457"/>
<circle cx="120.4" cy="359.8" r="2.09" fill="#440457"/>
<circle cx="120.9" cy="359.7" r="2.09" fill="#440457"/>
<circle cx="121.8" cy="359.4" r="2.08" fill="#440558"/>
<circle cx="123.9" cy="359.4" r="2.08" fill="#440558"/>
<circle cx="126.0" cy="359.1" r="2.08" fill="#440659"/>
<circle cx="122.9" cy="359.0" r="2.08" fill="#440659"/>
<circle cx="125.3" cy="358.9" r="2.08" fill="#440659"/>
<circle cx="126.4" cy="358.8" r="2.08" fill="#440759"/>
<circle cx="123.9" cy="358.8" r="2.08" fill="#440759"/>
<circle cx="124.9" cy="358.8" r="2.08" fill="#440759"/>
<circle cx="126.9" cy="358.7" r="2.08" fill="#440759"/>
<circle cx="124.5" cy="358.7" r="2.08" fill="#44075a"/>
<circle cx="128.0" cy="358.3" r="2.07" fill="#44085a"/>
<circle cx="127.1" cy="358.1" r="2.07" fill="#44085b"/>
<circle cx="128.2" cy="357.8" r="2.07" fill="#44095b"/>
<circle cx="128.1" cy="357.3" r="2.06" fill="#450a5d"/>
<circle cx="128.4" cy="356.9" r="2.06" fill="#450b5d"/>
<circle cx="129.1" cy="356.8" r="2.06" fill="#450c5e"/>
<circle cx="130.2" cy="356.6" r="2.06" fill="#450c5e"/>
<circle cx="129.5" cy="356.5" r="2.06" fill="#450c5e"/>
<circle cx="129.8" cy="356.1" r="2.05" fill="#450d5f"/>
<circle cx="130.7" cy="355.8" r="2.05" fill="#450e60"/>
<circle cx="131.2" cy="355.6" r="2.05" fill="#450f60"/>
<circle cx="131.0" cy="355.4" r="2.05" fill="#450f61"/>
<circle cx="131.6" cy="354.9" r="2.04" fill="#451062"/>
<circle cx="131.8" cy="354.8" r="2.04" fill="#451062"/>
<circle cx="132.7" cy="354.7" r="2.04" fill="#451163"/>
<circle cx="132.5" cy="354.2" r="2.04" fill="#451264"/>
<circle cx="132.7" cy="353.8" r="2.03" fill="#451365"/>
<circle cx="134.2" cy="353.6" r="2.03" fill="#451465"/>
<circle cx="133.8" cy="353.5" r="2.03" fill="#451465"/>
<circle cx="133.4" cy="353.5" r="2.03" fill="#451465"/>
<circle cx="134.5" cy="353.2" r="2.03" fill="#461466"/>
<circle cx="134.8" cy="352.8" r="2.02" fill="#461567"/>
<circle cx="135.1" cy="352.4" r="2.02" fill="#461668"/>
<circle cx="136.0" cy="352.2" r="2.02" fill="#461768"/>
<circle cx="136.2" cy="352.2" r="2.02" fill="#461768"/>
<circle cx="136.1" cy="351.5" r="2.01" fill="#46196a"/>
<circle cx="137.1" cy="351.2" r="2.01" fill="#46196a"/>
<circle cx="136.7" cy="351.1" r="2.01" fill="#461a6b"/>
<circle cx="136.8" cy="350.4" r="2.00" fill="#461b6c"/>
<circle cx="137.3" cy="349.9" r="2.00" fill="#461d6e"/>
<circle cx="137.8" cy="349.5" r="2.00" fill="#461d6e"/>
<circle cx="137.2" cy="349.5" r="2.00" fill="#461e6e"/>
<circle cx="138.2" cy="349.1" r="1.99" fill="#471e6f"/>
<circle cx="138.4" cy="348.6" r="1.99" fill="#472070"/>
<circle cx="139.3" cy="348.1" r="1.98" fill="#472171"/>
<circle cx="138.8" cy="348.1" r="1.98" fill="#472172"/>
<circle cx="138.9" cy="347.5" r="1.98" fill="#472373"/>
<circle cx="139.9" cy="347.2" r="1.98" fill="#472373"/>
<circle cx="139.5" cy="346.7" r="1.97" fill="#472475"/>
<circle cx="140.5" cy="346.7" r="1.97" fill="#472575"/>
<circle cx="140.7" cy="346.5" r="1.97" fill="#472575"/>
<circle cx="140.9" cy="345.7" r="1.96" fill="#472777"/>
<circle cx="141.5" cy="345.5" r="1.96" fill="#472777"/>
<circle cx="140.6" cy="345.2" r="1.96" fill="#472878"/>
<circle cx="141.6" cy="344.9" r="1.96" fill="#472978"/>
<circle cx="142.0" cy="344.6" r="1.95" fill="#472978"/>
<circle cx="142.4" cy="343.9" r="1.95" fill="#462b79"/>
<circle cx="141.9" cy="343.8" r="1.95" fill="#462b79"/>
<circle cx="142.3" cy="343.2" r="1.94" fill="#462c7a"/>
<circle cx="143.1" cy="343.0" r="1.94" fill="#462d7a"/>
<circle cx="142.8" cy="342.3" r="1.93" fill="#452e7b"/>
<circle cx="143.0" cy="341.7" r="1.93" fill="#452f7c"/>
<circle cx="143.1" cy="341.7" r="1.93" fill="#452f7c"/>
<circle cx="143.2" cy="341.0" r="1.92" fill="#45317c"/>
<circle cx="143.6" cy="340.9" r="1.92" fill="#45317c"/>
<circle cx="144.5" cy="340.2" r="1.91" fill="#44327d"/>
<circle cx="143.7" cy="340.2" r="1.91" fill="#44327d"/>
<circle cx="144.6" cy="339.5" r="1.91" fill="#44347e"/>
<circle cx="144.7" cy="339.1" r="1.90" fill="#44357e"/>
<circle cx="145.3" cy="338.8" r="1.90" fill="#43357f"/>
<circle cx="144.3" cy="338.7" r="1.90" fill="#43367f"/>
<circle cx="145.7" cy="338.1" r="1.89" fill="#43377f"/>
<circle cx="145.4" cy="337.8" r="1.89" fill="#433780"/>
<circle cx="145.8" cy="337.3" r="1.89" fill="#423980"/>
<circle cx="146.2" cy="337.1" r="1.89" fill="#423981"/>
<circle cx="146.0" cy="336.5" r="1.88" fill="#423a81"/>
<circle cx="146.6" cy="336.0" r="1.88" fill="#423b82"/>
<circle cx="146.7" cy="335.5" r="1.87" fill="#413c82"/>
<circle cx="147.1" cy="335.2" r="1.87" fill="#413d83"/>
<circle cx="147.0" cy="334.9" r="1.87" fill="#413e83"/>
<circle cx="147.4" cy="334.3" r="1.86" fill="#403f83"/>
<circle cx="147.5" cy="334.1" r="1.86" fill="#403f84"/>
<circle cx="147.6" cy="333.4" r="1.85" fill="#404184"/>
<circle cx="147.6" cy="333.0" r="1.85" fill="#404185"/>
<circle cx="147.9" cy="332.7" r="1.85" fill="#3f4285"/>
<circle cx="148.1" cy="332.5" r="1.85" fill="#3f4385"/>
<circle cx="148.6" cy="331.8" r="1.84" fill="#3f4486"/>
<circle cx="148.3" cy="331.3" r="1.83" fill="#3f4587"/>
<circle cx="148.6" cy="331.0" r="1.83" fill="#3e4687"/>
<circle cx="149.0" cy="330.8" r="1.83" fill="#3e4687"/>
<circle cx="149.0" cy="330.5" r="1.83" fill="#3e4788"/>
<circle cx="149.1" cy="330.0" r="1.82" fill="#3e4888"/>
<circle cx="149.0" cy="329.3" r="1.82" fill="#3d4989"/>
<circle cx="149.4" cy="328.9" r="1.81" fill="#3e4b89"/>
<circle cx="150.0" cy="328.6" r="1.81" fill="#3e4b89"/>
<circle cx="149.3" cy="328.0" r="1.81" fill="#3e4e8a"/>
<circle cx="150.1" cy="327.8" r="1.80" fill="#3e4e8a"/>
<circle cx="149.7" cy="327.3" r="1.80" fill="#3f508b"/>
<circle cx="150.5" cy="326.7" r="1.79" fill="#3f528b"/>
<circle cx="150.8" cy="326.6" r="1.79" fill="#3f528b"/>
<circle cx="150.7" cy="326.1" r="1.79" fill="#40538d"/>
<circle cx="150.7" cy="325.7" r="1.79" fill="#40558d"/>
<circle cx="151.4" cy="325.2" r="1.78" fill="#40578e"/>
<circle cx="151.1" cy="324.6" r="1.78" fill="#40588e"/>
<circle cx="151.2" cy="324.2" r="1.77" fill="#415a8e"/>
<circle cx="151.4" cy="324.1" r="1.77" fill="#415a8f"/>
<circle cx="152.0" cy="323.5" r="1.77" fill="#415d8f"/>
<circle cx="152.3" cy="323.2" r="1.76" fill="#425d90"/>
<circle cx="151.7" cy="322.6" r="1.76" fill="#425f91"/>
<circle cx="151.9" cy="322.2" r="1.75" fill="#426091"/>
<circle cx="152.1" cy="321.9" r="1.75" fill="#436292"/>
<circle cx="152.3" cy="321.3" r="1.75" fill="#446392"/>
<circle cx="152.7" cy="321.1" r="1.74" fill="#436492"/>
<circle cx="152.5" cy="320.2" r="1.74" fill="#446793"/>
<circle cx="152.1" cy="320.1" r="1.74" fill="#456794"/>
<circle cx="152.3" cy="319.3" r="1.73" fill="#456a95"/>
<circle cx="152.9" cy="319.0" r="1.73" fill="#456a95"/>
<circle cx="153.2" cy="318.8" r="1.72" fill="#466b95"/>
<circle cx="152.6" cy="318.4" r="1.72" fill="#466d96"/>
<circle cx="152.6" cy="317.7" r="1.71" fill="#476e96"/>
<circle cx="153.0" cy="317.2" r="1.71" fill="#477097"/>
<circle cx="152.8" cy="317.0" r="1.71" fill="#477097"/>
<circle cx="153.4" cy="316.4" r="1.70" fill="#487298"/>
<circle cx="153.7" cy="316.0" r="1.70" fill="#487399"/>
<circle cx="154.0" cy="315.5" r="1.70" fill="#487599"/>
<circle cx="153.4" cy="315.0" r="1.69" fill="#48769a"/>
<circle cx="153.4" cy="314.6" r="1.69" fill="#49789a"/>
<circle cx="153.7" cy="314.5" r="1.69" fill="#49789a"/>
<circle cx="153.6" cy="313.7" r="1.68" fill="#4a7b9c"/>
<circle cx="153.8" cy="313.4" r="1.68" fill="#4a7b9c"/>
<circle cx="154.1" cy="312.8" r="1.67" fill="#4b7c9c"/>
<circle cx="154.4" cy="312.5" r="1.67" fill="#4c7e9d"/>
<circle cx="154.5" cy="312.1" r="1.67" fill="#4b7e9d"/>
<circle cx="153.9" cy="311.3" r="1.66" fill="#4d819e"/>
<circle cx="154.6" cy="311.0" r="1.65" fill="#4d819e"/>
<circle cx="154.3" cy="310.8" r="1.65" fill="#4d819e"/>
<circle cx="154.9" cy="310.2" r="1.65" fill="#4d839f"/>
<circle cx="154.6" cy="309.8" r="1.65" fill="#4e849f"/>
<circle cx="155.0" cy="309.2" r="1.64" fill="#4e86a0"/>
<circle cx="154.7" cy="308.7" r="1.63" fill="#4f87a0"/>
<circle cx="154.5" cy="308.3" r="1.63" fill="#5088a1"/>
<circle cx="155.2" cy="308.0" r="1.63" fill="#5089a1"/>
<circle cx="155.2" cy="307.6" r="1.63" fill="#508aa1"/>
<circle cx="155.5" cy="307.4" r="1.62" fill="#518aa1"/>
<circle cx="155.9" cy="306.7" r="1.62" fill="#528ca2"/>
<circle cx="155.8" cy="306.4" r="1.61" fill="#518da2"/>
<circle cx="156.0" cy="306.1" r="1.61" fill="#528da3"/>
<circle cx="155.7" cy="305.2" r="1.60" fill="#5390a3"/>
<circle cx="155.8" cy="305.2" r="1.60" fill="#5390a3"/>
<circle cx="156.4" cy="304.7" r="1.60" fill="#5391a4"/>
<circle cx="155.8" cy="304.0" r="1.59" fill="#5593a4"/>
<circle cx="156.1" cy="303.5" r="1.59" fill="#5593a5"/>
<circle cx="156.3" cy="303.1" r="1.59" fill="#5595a5"/>
<circle cx="157.0" cy="303.1" r="1.59" fill="#5595a5"/>
<circle cx="156.5" cy="302.5" r="1.58" fill="#5696a6"/>
<circle cx="157.3" cy="302.1" r="1.58" fill="#5697a6"/>
<circle cx="157.4" cy="301.5" r="1.57" fill="#5799a7"/>
<circle cx="157.4" cy="301.0" r="1.57" fill="#589aa7"/>
<circle cx="157.7" cy="300.5" r="1.56" fill="#589aa8"/>
<circle cx="157.2" cy="300.4" r="1.56" fill="#589aa8"/>
<circle cx="158.0" cy="300.1" r="1.56" fill="#599ca8"/>
<circle cx="158.0" cy="299.4" r="1.55" fill="#5a9da8"/>
<circle cx="158.2" cy="298.9" r="1.55" fill="#5a9ea9"/>
<circle cx="158.1" cy="298.7" r="1.55" fill="#5b9fa9"/>
<circle cx="158.8" cy="298.2" r="1.54" fill="#5ba0aa"/>
<circle cx="158.8" cy="298.0" r="1.54" fill="#5ca0aa"/>
<circle cx="158.8" cy="297.1" r="1.53" fill="#62a5ac"/>
<circle cx="158.6" cy="296.8" r="1.53" fill="#62a6ac"/>
<circle cx="159.0" cy="296.5" r="1.53" fill="#62a6ac"/>
<circle cx="158.7" cy="295.9" r="1.52" fill="#62a7ac"/>
<circle cx="159.4" cy="295.4" r="1.52" fill="#61a7ac"/>
<circle cx="159.7" cy="295.3" r="1.52" fill="#61a7ac"/>
<circle cx="159.6" cy="294.7" r="1.51" fill="#61a8ac"/>
<circle cx="159.3" cy="294.1" r="1.51" fill="#61a9ac"/>
<circle cx="159.8" cy="293.9" r="1.50" fill="#61aaac"/>
<circle cx="160.5" cy="293.4" r="1.50" fill="#60aaac"/>
<circle cx="160.1" cy="293.1" r="1.50" fill="#60aaac"/>
<circle cx="160.1" cy="292.7" r="1.49" fill="#60abac"/>
<circle cx="160.8" cy="292.1" r="1.49" fill="#60acac"/>
<circle cx="160.3" cy="291.7" r="1.48" fill="#60acac"/>
<circle cx="160.7" cy="291.5" r="1.48" fill="#60acab"/>
<circle cx="160.5" cy="290.6" r="1.47" fill="#5faeab"/>
<circle cx="160.5" cy="290.2" r="1.47" fill="#5faeab"/>
<circle cx="160.7" cy="290.1" r="1.47" fill="#5faeab"/>
<circle cx="161.0" cy="289.4" r="1.46" fill="#5fafab"/>
<circle cx="161.4" cy="289.2" r="1.46" fill="#5fafab"/>
<circle cx="161.6" cy="288.9" r="1.46" fill="#5fafab"/>
<circle cx="161.5" cy="288.4" r="1.46" fill="#5fb0aa"/>
<circle cx="161.3" cy="287.8" r="1.45" fill="#5fb1aa"/>
<circle cx="161.7" cy="287.4" r="1.45" fill="#5fb1aa"/>
<circle cx="161.8" cy="287.0" r="1.44" fill="#5fb2aa"/>
<circle cx="161.7" cy="286.4" r="1.44" fill="#5eb3aa"/>
<circle cx="162.3" cy="286.3" r="1.44" fill="#5eb3aa"/>
<circle cx="162.3" cy="285.6" r="1.43" fill="#5eb4aa"/>
<circle cx="162.6" cy="285.1" r="1.43" fill="#5eb4aa"/>
<circle cx="162.3" cy="284.6" r="1.42" fill="#5eb5aa"/>
<circle cx="163.0" cy="284.3" r="1.42" fill="#5db6aa"/>
<circle cx="162.6" cy="283.7" r="1.41" fill="#5db7aa"/>
<circle cx="163.3" cy="283.6" r="1.41" fill="#5db7aa"/>
<circle cx="163.4" cy="283.3" r="1.41" fill="#5db7aa"/>
<circle cx="162.8" cy="282.3" r="1.40" fill="#5db8aa"/>
<circle cx="163.4" cy="282.3" r="1.40" fill="#5db8aa"/>
<circle cx="162.9" cy="281.7" r="1.40" fill="#5db9a9"/>
<circle cx="163.3" cy="281.1" r="1.40" fill="#5eb9a8"/>
<circle cx="163.1" cy="280.6" r="1.40" fill="#5fbaa8"/>
<circle cx="163.8" cy="280.5" r="1.40" fill="#5fbaa8"/>
<circle cx="163.3" cy="280.1" r="1.40" fill="#5fbba7"/>
<circle cx="164.2" cy="279.5" r="1.40" fill="#5fbca7"/>
<circle cx="163.6" cy="278.8" r="1.40" fill="#60bca7"/>
<circle cx="164.2" cy="278.7" r="1.40" fill="#60bca7"/>
<circle cx="164.3" cy="278.2" r="1.40" fill="#61bda7"/>
<circle cx="163.7" cy="277.8" r="1.40" fill="#62bda6"/>
<circle cx="163.8" cy="277.3" r="1.40" fill="#62bea6"/>
<circle cx="164.4" cy="276.8" r="1.40" fill="#62bea5"/>
<circle cx="164.1" cy="276.3" r="1.40" fill="#63bfa5"/>
<circle cx="164.3" cy="276.0" r="1.40" fill="#63bfa5"/>
<circle cx="165.2" cy="275.5" r="1.40" fill="#64c0a5"/>
<circle cx="165.3" cy="274.9" r="1.40" fill="#64c1a4"/>
<circle cx="164.4" cy="274.8" r="1.40" fill="#64c1a4"/>
<circle cx="165.3" cy="274.3" r="1.40" fill="#64c1a4"/>
<circle cx="165.1" cy="273.8" r="1.40" fill="#65c2a3"/>
<circle cx="165.2" cy="273.3" r="1.40" fill="#66c2a3"/>
<circle cx="164.9" cy="272.7" r="1.40" fill="#67c3a2"/>
<circle cx="165.8" cy="272.4" r="1.40" fill="#67c3a2"/>
<circle cx="165.5" cy="272.1" r="1.40" fill="#67c3a2"/>
<circle cx="165.6" cy="271.4" r="1.40" fill="#67c4a2"/>
<circle cx="165.4" cy="271.2" r="1.40" fill="#68c5a1"/>
<circle cx="165.4" cy="270.6" r="1.40" fill="#69c6a1"/>
<circle cx="166.3" cy="270.1" r="1.40" fill="#69c6a0"/>
<circle cx="166.5" cy="269.8" r="1.40" fill="#69c6a0"/>
<circle cx="166.2" cy="269.3" r="1.40" fill="#69c7a0"/>
<circle cx="166.4" cy="268.9" r="1.40" fill="#6ac79f"/>
<circle cx="166.8" cy="268.4" r="1.40" fill="#6bc89f"/>
<circle cx="167.0" cy="268.3" r="1.40" fill="#6bc89f"/>
<circle cx="167.0" cy="267.6" r="1.40" fill="#6cc99f"/>
<circle cx="166.8" cy="267.0" r="1.40" fill="#6cc99e"/>
<circle cx="167.4" cy="266.7" r="1.40" fill="#6cca9e"/>
<circle cx="167.3" cy="266.3" r="1.40" fill="#6dcb9d"/>
<circle cx="167.1" cy="265.7" r="1.40" fill="#6fcb9d"/>
<circle cx="166.9" cy="265.2" r="1.40" fill="#6fcb9c"/>
<circle cx="167.4" cy="265.1" r="1.40" fill="#70cb9c"/>
<circle cx="167.3" cy="264.7" r="1.40" fill="#71cc9b"/>
<circle cx="167.8" cy="264.1" r="1.40" fill="#72cd9a"/>
<circle cx="168.2" cy="263.9" r="1.40" fill="#73cd9a"/>
<circle cx="167.8" cy="263.1" r="1.40" fill="#75ce99"/>
<circle cx="168.1" cy="262.8" r="1.40" fill="#76ce98"/>
<circle cx="168.0" cy="262.3" r="1.40" fill="#77ce98"/>
<circle cx="168.4" cy="261.7" r="1.40" fill="#79cf97"/>
<circle cx="168.6" cy="261.5" r="1.40" fill="#79d096"/>
<circle cx="168.1" cy="260.7" r="1.40" fill="#7bd095"/>
<circle cx="168.8" cy="260.6" r="1.40" fill="#7bd095"/>
<circle cx="168.6" cy="260.3" r="1.40" fill="#7cd095"/>
<circle cx="168.5" cy="259.9" r="1.40" fill="#7ed194"/>
<circle cx="168.5" cy="259.3" r="1.40" fill="#7fd293"/>
<circle cx="169.4" cy="259.0" r="1.40" fill="#80d293"/>
<circle cx="169.1" cy="258.4" r="1.40" fill="#81d392"/>
<circle cx="169.3" cy="257.8" r="1.40" fill="#83d391"/>
<circle cx="169.5" cy="257.3" r="1.40" fill="#84d490"/>
<circle cx="169.0" cy="256.8" r="1.40" fill="#85d490"/>
<circle cx="169.8" cy="256.7" r="1.40" fill="#86d58f"/>
<circle cx="170.0" cy="256.5" r="1.40" fill="#86d58f"/>
<circle cx="169.6" cy="255.9" r="1.40" fill="#88d58e"/>
<circle cx="169.7" cy="255.5" r="1.40" fill="#89d58d"/>
<circle cx="169.5" cy="254.7" r="1.40" fill="#8bd68c"/>
<circle cx="170.0" cy="254.2" r="1.40" fill="#8cd78b"/>
<circle cx="170.2" cy="254.0" r="1.40" fill="#8dd78b"/>
<circle cx="170.0" cy="253.6" r="1.40" fill="#8dd88b"/>
<circle cx="170.4" cy="253.0" r="1.40" fill="#8fd88a"/>
<circle cx="170.6" cy="252.8" r="1.40" fill="#90d889"/>
<circle cx="170.0" cy="252.2" r="1.40" fill="#91d988"/>
<circle cx="170.1" cy="251.8" r="1.40" fill="#93da88"/>
<circle cx="170.9" cy="251.5" r="1.40" fill="#93da88"/>
<circle cx="171.2" cy="251.0" r="1.40" fill="#94db87"/>
<circle cx="170.5" cy="250.2" r="1.40" fill="#98db86"/>
<circle cx="171.5" cy="249.9" r="1.40" fill="#99db85"/>
<circle cx="171.5" cy="249.9" r="1.40" fill="#9adb85"/>
<circle cx="171.2" cy="249.2" r="1.40" fill="#9edd83"/>
<circle cx="171.1" cy="248.4" r="1.40" fill="#a3dd81"/>
<circle cx="171.9" cy="248.4" r="1.40" fill="#a3dd81"/>
<circle cx="171.6" cy="247.7" r="1.40" fill="#a7de80"/>
<circle cx="172.0" cy="247.3" r="1.40" fill="#aadf7e"/>
<circle cx="171.4" cy="246.8" r="1.40" fill="#aedf7e"/>
<circle cx="171.9" cy="246.4" r="1.40" fill="#b0e07d"/>
<circle cx="171.6" cy="246.1" r="1.40" fill="#b2e07b"/>
<circle cx="171.8" cy="245.5" r="1.40" fill="#b6e07b"/>
<circle cx="172.4" cy="245.3" r="1.40" fill="#b7e17a"/>
<circle cx="172.1" cy="244.7" r="1.40" fill="#bbe279"/>
<circle cx="172.4" cy="244.3" r="1.40" fill="#bee278"/>
<circle cx="172.7" cy="243.8" r="1.40" fill="#c1e276"/>
<circle cx="173.2" cy="243.3" r="1.40" fill="#c4e376"/>
<circle cx="172.6" cy="242.8" r="1.40" fill="#c7e474"/>
<circle cx="173.3" cy="242.8" r="1.40" fill="#c7e474"/>
<circle cx="173.2" cy="242.0" r="1.40" fill="#cde572"/>
<circle cx="118.9" cy="360.1" r="2.09" fill="#440356"/>
<circle cx="118.8" cy="359.9" r="2.09" fill="#440457"/>
<circle cx="119.4" cy="359.7" r="2.09" fill="#440457"/>
<circle cx="117.6" cy="359.6" r="2.08" fill="#440557"/>
<circle cx="118.0" cy="359.5" r="2.08" fill="#440558"/>
<circle cx="115.6" cy="359.5" r="2.08" fill="#440558"/>
<circle cx="117.8" cy="359.4" r="2.08" fill="#440558"/>
<circle cx="118.5" cy="359.4" r="2.08" fill="#440558"/>
<circle cx="116.2" cy="359.3" r="2.08" fill="#440558"/>
<circle cx="116.7" cy="359.1" r="2.08" fill="#440658"/>
<circle cx="115.1" cy="359.1" r="2.08" fill="#440658"/>
<circle cx="117.0" cy="359.1" r="2.08" fill="#440659"/>
<circle cx="117.3" cy="359.1" r="2.08" fill="#440659"/>
<circle cx="116.0" cy="358.7" r="2.08" fill="#440759"/>
<circle cx="114.9" cy="358.6" r="2.08" fill="#44075a"/>
<circle cx="114.5" cy="358.5" r="2.08" fill="#44075a"/>
<circle cx="114.1" cy="358.4" r="2.07" fill="#44085a"/>
<circle cx="113.7" cy="358.3" r="2.07" fill="#44085a"/>
<circle cx="115.2" cy="358.2" r="2.07" fill="#44085b"/>
<circle cx="113.4" cy="357.7" r="2.07" fill="#44095c"/>
<circle cx="112.7" cy="357.7" r="2.07" fill="#44095c"/>
<circle cx="114.0" cy="357.6" r="2.07" fill="#440a5c"/>
<circle cx="113.2" cy="357.4" r="2.07" fill="#440a5c"/>
<circle cx="112.1" cy="356.8" r="2.06" fill="#450c5e"/>
<circle cx="112.4" cy="356.7" r="2.06" fill="#450c5e"/>
<circle cx="112.8" cy="356.7" r="2.06" fill="#450c5e"/>
<circle cx="111.6" cy="356.6" r="2.06" fill="#450c5e"/>
<circle cx="112.0" cy="356.3" r="2.06" fill="#450d5f"/>
<circle cx="111.5" cy="356.1" r="2.05" fill="#450d5f"/>
<circle cx="111.1" cy="355.8" r="2.05" fill="#450e60"/>
<circle cx="111.3" cy="355.5" r="2.05" fill="#450f61"/>
<circle cx="110.7" cy="355.4" r="2.05" fill="#450f61"/>
<circle cx="110.5" cy="355.3" r="2.05" fill="#450f61"/>
<circle cx="110.1" cy="354.8" r="2.04" fill="#451062"/>
<circle cx="110.4" cy="354.8" r="2.04" fill="#451062"/>
<circle cx="109.5" cy="354.6" r="2.04" fill="#451163"/>
<circle cx="109.9" cy="354.5" r="2.04" fill="#451163"/>
<circle cx="109.4" cy="354.1" r="2.04" fill="#451264"/>
<circle cx="109.1" cy="354.1" r="2.04" fill="#451264"/>
<circle cx="108.7" cy="354.0" r="2.04" fill="#451364"/>
<circle cx="108.8" cy="353.2" r="2.03" fill="#461466"/>
<circle cx="107.6" cy="353.2" r="2.03" fill="#461566"/>
<circle cx="108.6" cy="353.0" r="2.03" fill="#461566"/>
<circle cx="108.4" cy="352.9" r="2.03" fill="#461567"/>
<circle cx="107.3" cy="352.8" r="2.02" fill="#461667"/>
<circle cx="106.6" cy="352.5" r="2.02" fill="#461668"/>
<circle cx="106.9" cy="352.3" r="2.02" fill="#461768"/>
<circle cx="107.8" cy="352.3" r="2.02" fill="#461768"/>
<circle cx="106.8" cy="351.8" r="2.02" fill="#461869"/>
<circle cx="105.8" cy="351.8" r="2.02" fill="#461869"/>
<circle cx="106.6" cy="351.2" r="2.01" fill="#46196b"/>
<circle cx="106.2" cy="351.0" r="2.01" fill="#461a6b"/>
<circle cx="105.7" cy="350.8" r="2.01" fill="#461a6b"/>
<circle cx="105.6" cy="350.7" r="2.01" fill="#461b6c"/>
<circle cx="105.4" cy="350.4" r="2.00" fill="#461b6c"/>
<circle cx="104.5" cy="350.1" r="2.00" fill="#461c6d"/>
<circle cx="105.5" cy="350.0" r="2.00" fill="#461c6d"/>
<circle cx="105.0" cy="349.5" r="2.00" fill="#461d6e"/>
<circle cx="104.8" cy="349.2" r="1.99" fill="#471e6f"/>
<circle cx="103.8" cy="349.1" r="1.99" fill="#471e6f"/>
<circle cx="104.4" cy="349.1" r="1.99" fill="#471f6f"/>
<circle cx="103.7" cy="349.0" r="1.99" fill="#471f70"/>
<circle cx="103.7" cy="348.3" r="1.99" fill="#472071"/>
<circle cx="103.0" cy="348.2" r="1.98" fill="#472171"/>
<circle cx="103.8" cy="348.1" r="1.98" fill="#472172"/>
<circle cx="103.4" cy="347.5" r="1.98" fill="#472373"/>
<circle cx="102.9" cy="347.4" r="1.98" fill="#472373"/>
<circle cx="102.2" cy="347.0" r="1.97" fill="#472474"/>
<circle cx="102.8" cy="346.9" r="1.97" fill="#472474"/>
<circle cx="102.4" cy="346.5" r="1.97" fill="#472575"/>
<circle cx="101.7" cy="346.4" r="1.97" fill="#472575"/>
<circle cx="101.9" cy="346.4" r="1.97" fill="#472575"/>
<circle cx="101.5" cy="346.0" r="1.96" fill="#472676"/>
<circle cx="101.6" cy="345.8" r="1.96" fill="#472777"/>
<circle cx="101.2" cy="345.3" r="1.96" fill="#472878"/>
<circle cx="100.2" cy="345.2" r="1.96" fill="#472878"/>
<circle cx="101.1" cy="345.0" r="1.96" fill="#472878"/>
<circle cx="100.9" cy="344.9" r="1.96" fill="#472978"/>
<circle cx="100.1" cy="344.8" r="1.95" fill="#472978"/>
<circle cx="100.1" cy="344.2" r="1.95" fill="#472a79"/>
<circle cx="99.9" cy="344.1" r="1.95" fill="#472a79"/>
<circle cx="99.7" cy="344.0" r="1.95" fill="#472b79"/>
<circle cx="99.3" cy="343.7" r="1.94" fill="#462b79"/>
<circle cx="99.2" cy="343.5" r="1.94" fill="#462c7a"/>
<circle cx="98.6" cy="343.2" r="1.94" fill="#462c7a"/>
<circle cx="99.2" cy="343.1" r="1.94" fill="#462c7a"/>
<circle cx="98.9" cy="342.6" r="1.93" fill="#462e7b"/>
<circle cx="98.6" cy="342.2" r="1.93" fill="#452e7b"/>
<circle cx="98.1" cy="342.0" r="1.93" fill="#452f7b"/>
<circle cx="98.2" cy="341.9" r="1.93" fill="#452f7b"/>
<circle cx="97.7" cy="341.7" r="1.93" fill="#452f7b"/>
<circle cx="97.6" cy="341.3" r="1.92" fill="#45307c"/>
<circle cx="97.5" cy="341.2" r="1.92" fill="#45307c"/>
<circle cx="97.0" cy="340.9" r="1.92" fill="#45317c"/>
<circle cx="97.1" cy="340.6" r="1.92" fill="#44327d"/>
<circle cx="97.1" cy="340.3" r="1.91" fill="#44327d"/>
<circle cx="97.3" cy="339.8" r="1.91" fill="#44337e"/>
<circle cx="96.9" cy="339.6" r="1.91" fill="#44347e"/>
<circle cx="96.6" cy="339.5" r="1.91" fill="#44347e"/>
<circle cx="96.2" cy="339.0" r="1.90" fill="#43357e"/>
<circle cx="96.6" cy="338.9" r="1.90" fill="#43357f"/>
<circle cx="95.9" cy="338.4" r="1.90" fill="#43367f"/>
<circle cx="96.2" cy="338.3" r="1.90" fill="#43367f"/>
<circle cx="95.5" cy="338.1" r="1.89" fill="#43377f"/>
<circle cx="95.6" cy="337.7" r="1.89" fill="#433880"/>
<circle cx="95.3" cy="337.4" r="1.89" fill="#423880"/>
<circle cx="95.0" cy="337.3" r="1.89" fill="#423880"/>
<circle cx="94.8" cy="337.0" r="1.89" fill="#423981"/>
<circle cx="94.7" cy="336.8" r="1.88" fill="#423a81"/>
<circle cx="94.3" cy="336.7" r="1.88" fill="#423a81"/>
<circle cx="93.9" cy="336.3" r="1.88" fill="#423b81"/>
<circle cx="94.5" cy="336.3" r="1.88" fill="#423b81"/>
<circle cx="93.8" cy="335.7" r="1.87" fill="#413c82"/>
<circle cx="93.9" cy="335.2" r="1.87" fill="#413d82"/>
<circle cx="94.1" cy="335.0" r="1.87" fill="#413d83"/>
<circle cx="93.3" cy="334.9" r="1.87" fill="#413e83"/>
<circle cx="93.6" cy="334.6" r="1.86" fill="#413e83"/>
<circle cx="93.2" cy="334.2" r="1.86" fill="#403f84"/>
<circle cx="92.9" cy="334.0" r="1.86" fill="#403f84"/>
<circle cx="92.6" cy="333.9" r="1.86" fill="#404084"/>
<circle cx="92.6" cy="333.6" r="1.86" fill="#404084"/>
<circle cx="92.4" cy="333.4" r="1.85" fill="#404184"/>
<circle cx="92.0" cy="333.0" r="1.85" fill="#404185"/>
<circle cx="92.0" cy="332.9" r="1.85" fill="#404285"/>
<circle cx="92.0" cy="332.3" r="1.84" fill="#3f4386"/>
<circle cx="92.3" cy="332.1" r="1.84" fill="#3f4386"/>
<circle cx="92.1" cy="331.6" r="1.84" fill="#3f4486"/>
<circle cx="91.9" cy="331.5" r="1.84" fill="#3f4587"/>
<circle cx="91.3" cy="331.4" r="1.84" fill="#3f4587"/>
<circle cx="91.7" cy="330.7" r="1.83" fill="#3e4687"/>
<circle cx="91.7" cy="330.6" r="1.83" fill="#3e4787"/>
<circle cx="91.1" cy="330.6" r="1.83" fill="#3e4788"/>
<circle cx="90.8" cy="330.3" r="1.83" fill="#3e4788"/>
<circle cx="91.2" cy="329.8" r="1.82" fill="#3e4888"/>
<circle cx="90.6" cy="329.6" r="1.82" fill="#3e4888"/>
<circle cx="90.6" cy="329.3" r="1.82" fill="#3d4989"/>
<circle cx="90.6" cy="328.7" r="1.81" fill="#3e4b89"/>
<circle cx="90.7" cy="328.6" r="1.81" fill="#3e4b89"/>
<circle cx="90.3" cy="328.3" r="1.81" fill="#3e4c8a"/>
<circle cx="90.3" cy="327.9" r="1.80" fill="#3e4e8a"/>
<circle cx="90.0" cy="327.6" r="1.80" fill="#3f4e8a"/>
<circle cx="89.9" cy="327.4" r="1.80" fill="#3f508b"/>
<circle cx="89.7" cy="327.1" r="1.80" fill="#3e508b"/>
<circle cx="89.7" cy="326.8" r="1.80" fill="#3f518b"/>
<circle cx="89.4" cy="326.5" r="1.79" fill="#3f538b"/>
<circle cx="89.4" cy="326.1" r="1.79" fill="#40538d"/>
<circle cx="89.5" cy="325.7" r="1.79" fill="#40558d"/>
<circle cx="89.3" cy="325.4" r="1.78" fill="#40568d"/>
<circle cx="89.0" cy="325.4" r="1.78" fill="#40568d"/>
<circle cx="89.2" cy="324.9" r="1.78" fill="#41588e"/>
<circle cx="88.5" cy="324.8" r="1.78" fill="#41588e"/>
<circle cx="88.4" cy="324.7" r="1.78" fill="#40588e"/>
<circle cx="88.2" cy="324.4" r="1.77" fill="#415a8e"/>
<circle cx="88.3" cy="324.1" r="1.77" fill="#415a8f"/>
<circle cx="88.6" cy="323.6" r="1.77" fill="#425c8f"/>
<circle cx="88.6" cy="323.0" r="1.76" fill="#425d91"/>
<circle cx="88.3" cy="322.7" r="1.76" fill="#425f91"/>
<circle cx="87.5" cy="322.7" r="1.76" fill="#425f91"/>
<circle cx="88.3" cy="322.3" r="1.76" fill="#426091"/>
<circle cx="87.5" cy="322.2" r="1.75" fill="#426091"/>
<circle cx="87.6" cy="321.7" r="1.75" fill="#436292"/>
<circle cx="87.4" cy="321.5" r="1.75" fill="#436292"/>
<circle cx="87.1" cy="321.3" r="1.75" fill="#446392"/>
<circle cx="87.8" cy="320.7" r="1.74" fill="#446593"/>
<circle cx="87.5" cy="320.3" r="1.74" fill="#446793"/>
<circle cx="87.0" cy="320.1" r="1.74" fill="#456793"/>
<circle cx="87.5" cy="319.9" r="1.73" fill="#446894"/>
<circle cx="86.7" cy="319.6" r="1.73" fill="#456895"/>
<circle cx="87.1" cy="319.5" r="1.73" fill="#456895"/>
<circle cx="87.0" cy="318.9" r="1.73" fill="#466a95"/>
<circle cx="86.9" cy="318.5" r="1.72" fill="#456c96"/>
<circle cx="86.5" cy="318.5" r="1.72" fill="#456c96"/>
<circle cx="86.1" cy="317.9" r="1.72" fill="#466d96"/>
<circle cx="86.9" cy="317.8" r="1.72" fill="#466e96"/>
<circle cx="86.3" cy="317.4" r="1.71" fill="#466f97"/>
<circle cx="85.9" cy="317.3" r="1.71" fill="#467097"/>
<circle cx="86.2" cy="316.9" r="1.71" fill="#477098"/>
<circle cx="86.0" cy="316.7" r="1.71" fill="#477298"/>
<circle cx="85.7" cy="316.1" r="1.70" fill="#477399"/>
<circle cx="86.0" cy="316.1" r="1.70" fill="#477399"/>
<circle cx="85.9" cy="315.7" r="1.70" fill="#487599"/>
<circle cx="85.2" cy="315.4" r="1.69" fill="#487599"/>
<circle cx="85.5" cy="315.0" r="1.69" fill="#49769a"/>
<circle cx="85.2" cy="314.8" r="1.69" fill="#49779a"/>
<circle cx="85.1" cy="314.6" r="1.69" fill="#49789a"/>
<circle cx="84.9" cy="314.1" r="1.68" fill="#4a799b"/>
<circle cx="85.0" cy="313.9" r="1.68" fill="#4a799b"/>
<circle cx="84.9" cy="313.7" r="1.68" fill="#4a7b9c"/>
<circle cx="84.7" cy="313.4" r="1.68" fill="#4a7b9c"/>
<circle cx="84.6" cy="313.0" r="1.67" fill="#4b7c9c"/>
<circle cx="84.4" cy="312.6" r="1.67" fill="#4b7e9d"/>
<circle cx="84.7" cy="312.3" r="1.67" fill="#4b7e9d"/>
<circle cx="84.5" cy="312.1" r="1.66" fill="#4b7e9d"/>
<circle cx="83.9" cy="311.8" r="1.66" fill="#4c7f9d"/>
<circle cx="83.9" cy="311.5" r="1.66" fill="#4c809e"/>
<circle cx="84.5" cy="311.1" r="1.66" fill="#4d819e"/>
<circle cx="84.0" cy="310.6" r="1.65" fill="#4d829e"/>
<circle cx="84.2" cy="310.6" r="1.65" fill="#4d829e"/>
<circle cx="84.3" cy="310.1" r="1.65" fill="#4e839f"/>
<circle cx="83.6" cy="310.0" r="1.65" fill="#4e849f"/>
<circle cx="83.9" cy="309.5" r="1.64" fill="#4e859f"/>
<circle cx="83.7" cy="309.2" r="1.64" fill="#4e86a0"/>
<circle cx="83.5" cy="308.8" r="1.64" fill="#4f87a0"/>
<circle cx="83.4" cy="308.5" r="1.63" fill="#5087a0"/>
<circle cx="83.3" cy="308.4" r="1.63" fill="#5088a0"/>
<circle cx="83.6" cy="307.9" r="1.63" fill="#5089a1"/>
<circle cx="83.3" cy="307.8" r="1.63" fill="#5089a1"/>
<circle cx="83.2" cy="307.3" r="1.62" fill="#518aa1"/>
<circle cx="83.2" cy="307.0" r="1.62" fill="#518ca2"/>
<circle cx="82.9" cy="306.7" r="1.62" fill="#528ca2"/>
<circle cx="82.5" cy="306.6" r="1.62" fill="#528ca2"/>
<circle cx="83.1" cy="305.9" r="1.61" fill="#528da3"/>
<circle cx="83.3" cy="305.7" r="1.61" fill="#528fa3"/>
<circle cx="82.4" cy="305.5" r="1.61" fill="#538fa3"/>
<circle cx="82.5" cy="305.1" r="1.60" fill="#5390a3"/>
<circle cx="82.3" cy="305.0" r="1.60" fill="#5390a3"/>
<circle cx="82.1" cy="304.7" r="1.60" fill="#5390a4"/>
<circle cx="82.1" cy="304.5" r="1.60" fill="#5491a4"/>
<circle cx="82.0" cy="304.1" r="1.59" fill="#5492a4"/>
<circle cx="82.6" cy="303.7" r="1.59" fill="#5493a5"/>
<circle cx="75.3" cy="284.2" r="1.60" fill="#7cc4b6"/>
<circle cx="76.1" cy="286.4" r="1.60" fill="#73b9ad"/>
<circle cx="78.3" cy="295.3" r="1.60" fill="#8aa7b4"/>
<circle cx="81.2" cy="302.8" r="1.60" fill="#a5b8cc"/>
<circle cx="176.0" cy="225.4" r="1.60" fill="#f0f0b0"/>
<circle cx="172.5" cy="243.0" r="1.60" fill="#c8d870"/>
<line x1="49.8" y1="189.7" x2="49.8" y2="361.6" stroke="#111" stroke-width="1.3"/>
<line x1="49.2" y1="361.3" x2="191.0" y2="361.3" stroke="#111" stroke-width="1.2"/>
<line x1="46.3" y1="361.3" x2="49.8" y2="361.3" stroke="#111" stroke-width="0.8"/>
<line x1="48.1" y1="355.7" x2="49.8" y2="355.7" stroke="#111" stroke-width="0.8"/>
<line x1="48.1" y1="350.0" x2="49.8" y2="350.0" stroke="#111" stroke-width="0.8"/>
<line x1="48.1" y1="344.4" x2="49.8" y2="344.4" stroke="#111" stroke-width="0.8"/>
<line x1="48.1" y1="338.8" x2="49.8" y2="338.8" stroke="#111" stroke-width="0.8"/>
<line x1="48.1" y1="333.2" x2="49.8" y2="333.2" stroke="#111" stroke-width="0.8"/>
<line x1="48.1" y1="327.5" x2="49.8" y2="327.5" stroke="#111" stroke-width="0.8"/>
<line x1="48.1" y1="321.9" x2="49.8" y2="321.9" stroke="#111" stroke-width="0.8"/>
<line x1="48.1" y1="316.3" x2="49.8" y2="316.3" stroke="#111" stroke-width="0.8"/>
<line x1="48.1" y1="310.6" x2="49.8" y2="310.6" stroke="#111" stroke-width="0.8"/>
<line x1="46.3" y1="305.0" x2="49.8" y2="305.0" stroke="#111" stroke-width="0.8"/>
<line x1="48.1" y1="299.4" x2="49.8" y2="299.4" stroke="#111" stroke-width="0.8"/>
<line x1="48.1" y1="293.7" x2="49.8" y2="293.7" stroke="#111" stroke-width="0.8"/>
<line x1="48.1" y1="288.1" x2="49.8" y2="288.1" stroke="#111" stroke-width="0.8"/>
<line x1="48.1" y1="282.5" x2="49.8" y2="282.5" stroke="#111" stroke-width="0.8"/>
<line x1="48.1" y1="276.9" x2="49.8" y2="276.9" stroke="#111" stroke-width="0.8"/>
<line x1="48.1" y1="271.2" x2="49.8" y2="271.2" stroke="#111" stroke-width="0.8"/>
<line x1="48.1" y1="265.6" x2="49.8" y2="265.6" stroke="#111" stroke-width="0.8"/>
<line x1="48.1" y1="260.0" x2="49.8" y2="260.0" stroke="#111" stroke-width="0.8"/>
<line x1="48.1" y1="254.3" x2="49.8" y2="254.3" stroke="#111" stroke-width="0.8"/>
<line x1="46.3" y1="248.7" x2="49.8" y2="248.7" stroke="#111" stroke-width="0.8"/>
<line x1="48.1" y1="243.1" x2="49.8" y2="243.1" stroke="#111" stroke-width="0.8"/>
<line x1="48.1" y1="237.4" x2="49.8" y2="237.4" stroke="#111" stroke-width="0.8"/>
<line x1="48.1" y1="231.8" x2="49.8" y2="231.8" stroke="#111" stroke-width="0.8"/>
<line x1="48.1" y1="226.2" x2="49.8" y2="226.2" stroke="#111" stroke-width="0.8"/>
<line x1="48.1" y1="220.6" x2="49.8" y2="220.6" stroke="#111" stroke-width="0.8"/>
<line x1="48.1" y1="214.9" x2="49.8" y2="214.9" stroke="#111" stroke-width="0.8"/>
<line x1="48.1" y1="209.3" x2="49.8" y2="209.3" stroke="#111" stroke-width="0.8"/>
<line x1="48.1" y1="203.7" x2="49.8" y2="203.7" stroke="#111" stroke-width="0.8"/>
<line x1="48.1" y1="198.0" x2="49.8" y2="198.0" stroke="#111" stroke-width="0.8"/>
<line x1="46.3" y1="192.4" x2="49.8" y2="192.4" stroke="#111" stroke-width="0.8"/>
<line x1="49.3" y1="361.3" x2="49.3" y2="364.3" stroke="#111" stroke-width="0.8"/>
<text x="42.6" y="374.6" font-size="6.9" fill="#333">–0.4</text>
<line x1="84.4" y1="361.3" x2="84.4" y2="364.3" stroke="#111" stroke-width="0.8"/>
<text x="77.7" y="374.6" font-size="6.9" fill="#333">–0.2</text>
<line x1="119.5" y1="361.3" x2="119.5" y2="364.3" stroke="#111" stroke-width="0.8"/>
<text x="114.7" y="374.6" font-size="6.9" fill="#333">0.0</text>
<line x1="154.6" y1="361.3" x2="154.6" y2="364.3" stroke="#111" stroke-width="0.8"/>
<text x="149.8" y="374.6" font-size="6.9" fill="#333">0.2</text>
<line x1="189.7" y1="361.3" x2="189.7" y2="364.3" stroke="#111" stroke-width="0.8"/>
<text x="184.9" y="374.6" font-size="6.9" fill="#333">0.4</text>
<text x="39.0" y="363.8" font-size="7.2" fill="#333" stroke="#333" stroke-width="0.1">0</text>
<text x="35.0" y="307.5" font-size="7.2" fill="#333" stroke="#333" stroke-width="0.1">20</text>
<text x="35.0" y="251.2" font-size="7.2" fill="#333" stroke="#333" stroke-width="0.1">40</text>
<text x="35.0" y="194.9" font-size="7.2" fill="#333" stroke="#333" stroke-width="0.1">60</text>
<text transform="translate(28.7 291.9) rotate(-90)" font-size="10" fill="#333" stroke="#333" stroke-width="0.1" textLength="33.3" lengthAdjust="spacingAndGlyphs">-log10(<tspan font-style="italic">P</tspan>)</text>
<ellipse cx="165.1" cy="256.5" rx="24.4" ry="44.2" transform="rotate(6 165.1 256.5)" fill="none" stroke="#2b3263" stroke-width="1.35"/>
<text x="134.3" y="204.4" font-size="7.4" fill="#3a3a3a" stroke="#3a3a3a" stroke-width="0.1" font-style="italic" textLength="14.2" lengthAdjust="spacingAndGlyphs">Viral</text>
<text x="125.6" y="213.5" font-size="7.4" fill="#3a3a3a" stroke="#3a3a3a" stroke-width="0.1" font-style="italic" textLength="31.2" lengthAdjust="spacingAndGlyphs">Response</text>
<text x="153.8" y="227.4" font-size="7.1" fill="#333" stroke="#333" stroke-width="0.1" textLength="13.9" lengthAdjust="spacingAndGlyphs">CFH</text>
<text x="146.6" y="234.6" font-size="7.1" fill="#333" stroke="#333" stroke-width="0.1" textLength="20.4" lengthAdjust="spacingAndGlyphs">C1QB</text>
<text x="155.8" y="243.4" font-size="7.1" fill="#333" stroke="#333" stroke-width="0.1" textLength="9.2" lengthAdjust="spacingAndGlyphs">C3</text>
<text x="169.0" y="241.8" font-size="7.1" fill="#333" stroke="#333" stroke-width="0.1" textLength="14.8" lengthAdjust="spacingAndGlyphs">FGA</text>
<text x="149.0" y="252.3" font-size="7.1" fill="#333" stroke="#333" stroke-width="0.1" textLength="16.0" lengthAdjust="spacingAndGlyphs">FGG</text>
<text x="175.8" y="252.3" font-size="7.1" fill="#333" stroke="#333" stroke-width="0.1" textLength="8.8" lengthAdjust="spacingAndGlyphs">C9</text>
<text x="145.4" y="260.0" font-size="7.1" fill="#333" stroke="#333" stroke-width="0.1" textLength="20.6" lengthAdjust="spacingAndGlyphs">C1QC</text>
<text x="173.0" y="260.0" font-size="7.1" fill="#333" stroke="#333" stroke-width="0.1" textLength="14.0" lengthAdjust="spacingAndGlyphs">CFD</text>
<text x="148.0" y="270.5" font-size="7.1" fill="#333" stroke="#333" stroke-width="0.1" textLength="13.5" lengthAdjust="spacingAndGlyphs">C1S</text>
<text x="171.8" y="267.0" font-size="7.1" fill="#333" stroke="#333" stroke-width="0.1" textLength="13.9" lengthAdjust="spacingAndGlyphs">HPX</text>
<text x="172.3" y="273.8" font-size="7.1" fill="#333" stroke="#333" stroke-width="0.1" textLength="9.2" lengthAdjust="spacingAndGlyphs">C5</text>
<text x="167.4" y="284.6" font-size="7.1" fill="#333" stroke="#333" stroke-width="0.1" textLength="13.4" lengthAdjust="spacingAndGlyphs">FGB</text>
<text x="73.1" y="278.2" font-size="7.1" fill="#333" stroke="#333" stroke-width="0.1" textLength="18.9" lengthAdjust="spacingAndGlyphs">ANK1</text>
<text x="79.0" y="286.3" font-size="7.1" fill="#333" stroke="#333" stroke-width="0.1" textLength="34.3" lengthAdjust="spacingAndGlyphs">SELENBP1</text>
<text x="84.7" y="298.0" font-size="7.1" fill="#333" stroke="#333" stroke-width="0.1" textLength="23.8" lengthAdjust="spacingAndGlyphs">ANXA7</text>
<text x="86.0" y="306.0" font-size="7.1" fill="#333" stroke="#333" stroke-width="0.1" textLength="20.5" lengthAdjust="spacingAndGlyphs">PGM2</text>
<text x="64.8" y="313.2" font-size="7.1" fill="#333" stroke="#333" stroke-width="0.1" textLength="14.2" lengthAdjust="spacingAndGlyphs">BSG</text>
<text x="89.7" y="318.2" font-size="7.1" fill="#333" stroke="#333" stroke-width="0.1" textLength="25.6" lengthAdjust="spacingAndGlyphs">SLC4A1</text>
<text x="66.8" y="327.6" font-size="7.1" fill="#333" stroke="#333" stroke-width="0.1" textLength="13.9" lengthAdjust="spacingAndGlyphs">CA1</text>
<defs><linearGradient id="cb210" x1="0" y1="1" x2="0" y2="0">
<stop offset="0" stop-color="#b088c0"/>
<stop offset="0.104" stop-color="#a898c8"/>
<stop offset="0.205" stop-color="#a0a0cc"/>
<stop offset="0.312" stop-color="#90b0d0"/>
<stop offset="0.413" stop-color="#80c0c8"/>
<stop offset="0.49" stop-color="#80c8c8"/>
<stop offset="0.622" stop-color="#88d0c0"/>
<stop offset="0.729" stop-color="#b0d8b0"/>
<stop offset="0.83" stop-color="#d0e0a0"/>
<stop offset="0.908" stop-color="#e8e890"/>
<stop offset="1" stop-color="#f0ec90"/>
</linearGradient></defs>
<rect x="210.3" y="194.5" width="12.0" height="168.2" fill="url(#cb210)" stroke="#666" stroke-width="0.6"/>
<line x1="210.3" y1="223.2" x2="211.8" y2="223.2" stroke="#444" stroke-width="0.6"/>
<line x1="220.8" y1="223.2" x2="222.3" y2="223.2" stroke="#444" stroke-width="0.6"/>
<text x="226" y="225.5" font-size="6.6" fill="#333">40</text>
<line x1="210.3" y1="258.0" x2="211.8" y2="258.0" stroke="#444" stroke-width="0.6"/>
<line x1="220.8" y1="258.0" x2="222.3" y2="258.0" stroke="#444" stroke-width="0.6"/>
<text x="226" y="260.3" font-size="6.6" fill="#333">30</text>
<line x1="210.3" y1="292.8" x2="211.8" y2="292.8" stroke="#444" stroke-width="0.6"/>
<line x1="220.8" y1="292.8" x2="222.3" y2="292.8" stroke="#444" stroke-width="0.6"/>
<text x="226" y="295.1" font-size="6.6" fill="#333">20</text>
<line x1="210.3" y1="327.6" x2="211.8" y2="327.6" stroke="#444" stroke-width="0.6"/>
<line x1="220.8" y1="327.6" x2="222.3" y2="327.6" stroke="#444" stroke-width="0.6"/>
<text x="226" y="329.9" font-size="6.6" fill="#333">10</text>
<text x="206.6" y="188.0" font-size="6.6" fill="#333" stroke="#333" stroke-width="0.1" textLength="33.2" lengthAdjust="spacingAndGlyphs">–log10 (p)</text>
<text x="275.6" y="159.4" font-size="12.8" fill="#111" font-weight="bold" textLength="8.5" lengthAdjust="spacingAndGlyphs">C</text>
<text x="304.0" y="166.4" font-size="10" fill="#222" stroke="#222" stroke-width="0.1" textLength="193.3" lengthAdjust="spacingAndGlyphs">Metabolic correlates to Kynurenine in REDS</text>
<text x="345.0" y="179.1" font-size="10" fill="#222" stroke="#222" stroke-width="0.1" textLength="109.5" lengthAdjust="spacingAndGlyphs">RBC Omics recall donors</text>
<line x1="364.2" y1="194.4" x2="364.2" y2="361.3" stroke="#444" stroke-width="0.9" stroke-dasharray="1 1.6"/>
<line x1="319" y1="352.5" x2="458" y2="352.5" stroke="#444" stroke-width="0.9" stroke-dasharray="1 1.6"/>
<circle cx="364.5" cy="359.5" r="1.79" fill="#440356"/>
<circle cx="364.1" cy="359.4" r="1.79" fill="#440356"/>
<circle cx="366.6" cy="359.3" r="1.79" fill="#440356"/>
<circle cx="367.0" cy="359.2" r="1.79" fill="#440356"/>
<circle cx="367.7" cy="359.2" r="1.79" fill="#440356"/>
<circle cx="367.6" cy="359.2" r="1.79" fill="#440456"/>
<circle cx="367.3" cy="359.2" r="1.79" fill="#440456"/>
<circle cx="366.2" cy="359.1" r="1.79" fill="#440456"/>
<circle cx="368.0" cy="359.1" r="1.79" fill="#440457"/>
<circle cx="365.7" cy="359.0" r="1.79" fill="#440457"/>
<circle cx="369.3" cy="358.9" r="1.79" fill="#440457"/>
<circle cx="364.6" cy="358.9" r="1.79" fill="#440457"/>
<circle cx="364.8" cy="358.8" r="1.79" fill="#440457"/>
<circle cx="369.7" cy="358.8" r="1.79" fill="#440557"/>
<circle cx="366.2" cy="358.8" r="1.79" fill="#440557"/>
<circle cx="365.5" cy="358.8" r="1.79" fill="#440557"/>
<circle cx="369.6" cy="358.8" r="1.79" fill="#440557"/>
<circle cx="368.3" cy="358.7" r="1.79" fill="#440557"/>
<circle cx="368.5" cy="358.7" r="1.79" fill="#440557"/>
<circle cx="365.3" cy="358.7" r="1.79" fill="#440557"/>
<circle cx="369.9" cy="358.7" r="1.79" fill="#440557"/>
<circle cx="370.4" cy="358.4" r="1.78" fill="#440558"/>
<circle cx="368.7" cy="358.4" r="1.78" fill="#440558"/>
<circle cx="372.8" cy="358.3" r="1.78" fill="#440658"/>
<circle cx="370.7" cy="358.3" r="1.78" fill="#440658"/>
<circle cx="371.2" cy="358.2" r="1.78" fill="#440658"/>
<circle cx="372.0" cy="358.2" r="1.78" fill="#440659"/>
<circle cx="371.0" cy="358.1" r="1.78" fill="#440659"/>
<circle cx="370.1" cy="358.1" r="1.78" fill="#440659"/>
<circle cx="373.4" cy="358.0" r="1.78" fill="#440659"/>
<circle cx="371.7" cy="357.9" r="1.78" fill="#440659"/>
<circle cx="371.4" cy="357.9" r="1.78" fill="#440759"/>
<circle cx="373.8" cy="357.9" r="1.78" fill="#440759"/>
<circle cx="372.5" cy="357.8" r="1.78" fill="#440759"/>
<circle cx="374.3" cy="357.7" r="1.78" fill="#44075a"/>
<circle cx="374.2" cy="357.6" r="1.78" fill="#44075a"/>
<circle cx="374.8" cy="357.6" r="1.78" fill="#44075a"/>
<circle cx="372.7" cy="357.5" r="1.78" fill="#44075a"/>
<circle cx="374.5" cy="357.4" r="1.78" fill="#44085a"/>
<circle cx="373.3" cy="357.3" r="1.78" fill="#44085a"/>
<circle cx="375.1" cy="357.2" r="1.78" fill="#44085b"/>
<circle cx="375.2" cy="357.0" r="1.78" fill="#44095b"/>
<circle cx="375.8" cy="356.9" r="1.77" fill="#44095b"/>
<circle cx="375.6" cy="356.8" r="1.77" fill="#44095b"/>
<circle cx="376.3" cy="356.7" r="1.77" fill="#44095c"/>
<circle cx="376.7" cy="356.4" r="1.77" fill="#440a5c"/>
<circle cx="375.9" cy="356.4" r="1.77" fill="#440a5c"/>
<circle cx="377.9" cy="356.3" r="1.77" fill="#440a5c"/>
<circle cx="377.1" cy="356.2" r="1.77" fill="#450b5d"/>
<circle cx="376.3" cy="356.1" r="1.77" fill="#450b5d"/>
<circle cx="377.2" cy="356.0" r="1.77" fill="#450b5d"/>
<circle cx="378.3" cy="355.7" r="1.77" fill="#450c5e"/>
<circle cx="378.9" cy="355.7" r="1.77" fill="#450c5e"/>
<circle cx="379.5" cy="355.6" r="1.76" fill="#450c5e"/>
<circle cx="377.9" cy="355.6" r="1.76" fill="#450c5e"/>
<circle cx="377.4" cy="355.6" r="1.76" fill="#450c5e"/>
<circle cx="378.5" cy="355.5" r="1.76" fill="#450c5e"/>
<circle cx="378.9" cy="355.2" r="1.76" fill="#450d5f"/>
<circle cx="379.6" cy="355.0" r="1.76" fill="#450d5f"/>
<circle cx="380.6" cy="354.9" r="1.76" fill="#450d5f"/>
<circle cx="380.0" cy="354.9" r="1.76" fill="#450e60"/>
<circle cx="380.7" cy="354.8" r="1.76" fill="#450e60"/>
<circle cx="379.8" cy="354.8" r="1.76" fill="#450e60"/>
<circle cx="382.2" cy="354.3" r="1.76" fill="#450f61"/>
<circle cx="381.1" cy="354.3" r="1.76" fill="#450f61"/>
<circle cx="380.9" cy="354.3" r="1.76" fill="#450f61"/>
<circle cx="381.3" cy="354.2" r="1.75" fill="#450f61"/>
<circle cx="381.5" cy="354.1" r="1.75" fill="#450f61"/>
<circle cx="381.8" cy="354.1" r="1.75" fill="#450f61"/>
<circle cx="382.9" cy="353.7" r="1.75" fill="#451062"/>
<circle cx="382.6" cy="353.5" r="1.75" fill="#451163"/>
<circle cx="382.3" cy="353.4" r="1.75" fill="#451163"/>
<circle cx="383.0" cy="353.3" r="1.75" fill="#451163"/>
<circle cx="383.1" cy="353.0" r="1.75" fill="#451264"/>
<circle cx="383.4" cy="352.7" r="1.74" fill="#451364"/>
<circle cx="383.9" cy="352.6" r="1.74" fill="#451364"/>
<circle cx="383.6" cy="352.6" r="1.74" fill="#451364"/>
<circle cx="385.0" cy="352.5" r="1.74" fill="#451365"/>
<circle cx="383.8" cy="352.3" r="1.74" fill="#451465"/>
<circle cx="384.3" cy="352.3" r="1.74" fill="#451465"/>
<circle cx="385.1" cy="352.1" r="1.74" fill="#461466"/>
<circle cx="384.7" cy="352.1" r="1.74" fill="#461466"/>
<circle cx="385.4" cy="351.9" r="1.74" fill="#461466"/>
<circle cx="385.4" cy="351.1" r="1.73" fill="#461668"/>
<circle cx="385.2" cy="351.1" r="1.73" fill="#461668"/>
<circle cx="386.4" cy="350.9" r="1.73" fill="#461768"/>
<circle cx="386.0" cy="350.8" r="1.73" fill="#461768"/>
<circle cx="386.6" cy="350.7" r="1.73" fill="#461769"/>
<circle cx="385.7" cy="350.7" r="1.73" fill="#461769"/>
<circle cx="387.0" cy="350.6" r="1.73" fill="#461869"/>
<circle cx="387.2" cy="350.5" r="1.73" fill="#461869"/>
<circle cx="387.2" cy="350.0" r="1.72" fill="#46196a"/>
<circle cx="387.6" cy="350.0" r="1.72" fill="#46196a"/>
<circle cx="387.7" cy="349.5" r="1.72" fill="#461a6b"/>
<circle cx="388.4" cy="349.4" r="1.72" fill="#461a6b"/>
<circle cx="387.4" cy="349.2" r="1.72" fill="#461b6c"/>
<circle cx="388.0" cy="349.2" r="1.72" fill="#461b6c"/>
<circle cx="388.1" cy="348.6" r="1.71" fill="#461c6d"/>
<circle cx="389.3" cy="348.5" r="1.71" fill="#461c6d"/>
<circle cx="388.2" cy="348.4" r="1.71" fill="#461d6d"/>
<circle cx="389.5" cy="348.3" r="1.71" fill="#461d6e"/>
<circle cx="388.6" cy="348.2" r="1.71" fill="#461d6e"/>
<circle cx="389.5" cy="348.1" r="1.71" fill="#461d6e"/>
<circle cx="389.8" cy="347.9" r="1.71" fill="#471e6f"/>
<circle cx="390.0" cy="347.8" r="1.71" fill="#471e6f"/>
<circle cx="389.8" cy="347.3" r="1.71" fill="#471f70"/>
<circle cx="390.7" cy="347.2" r="1.71" fill="#471f70"/>
<circle cx="390.4" cy="347.1" r="1.70" fill="#472070"/>
<circle cx="391.3" cy="346.7" r="1.70" fill="#472171"/>
<circle cx="390.5" cy="346.5" r="1.70" fill="#472172"/>
<circle cx="390.2" cy="346.5" r="1.70" fill="#472172"/>
<circle cx="391.4" cy="346.4" r="1.70" fill="#472172"/>
<circle cx="391.3" cy="345.8" r="1.69" fill="#472373"/>
<circle cx="391.8" cy="345.7" r="1.69" fill="#472373"/>
<circle cx="392.1" cy="345.5" r="1.69" fill="#472374"/>
<circle cx="391.4" cy="345.3" r="1.69" fill="#472474"/>
<circle cx="391.7" cy="344.8" r="1.69" fill="#472575"/>
<circle cx="392.1" cy="344.8" r="1.69" fill="#472575"/>
<circle cx="392.3" cy="344.7" r="1.69" fill="#472575"/>
<circle cx="392.7" cy="344.6" r="1.69" fill="#472576"/>
<circle cx="392.3" cy="344.0" r="1.68" fill="#472777"/>
<circle cx="392.7" cy="343.8" r="1.68" fill="#472777"/>
<circle cx="393.4" cy="343.7" r="1.68" fill="#472878"/>
<circle cx="393.0" cy="343.6" r="1.68" fill="#472878"/>
<circle cx="393.5" cy="343.4" r="1.68" fill="#472878"/>
<circle cx="393.4" cy="342.9" r="1.67" fill="#472978"/>
<circle cx="393.3" cy="342.4" r="1.67" fill="#472a79"/>
<circle cx="393.6" cy="342.3" r="1.67" fill="#472a79"/>
<circle cx="394.1" cy="342.2" r="1.67" fill="#472b79"/>
<circle cx="393.8" cy="342.1" r="1.67" fill="#462b79"/>
<circle cx="394.6" cy="341.7" r="1.67" fill="#462b7a"/>
<circle cx="394.2" cy="341.7" r="1.67" fill="#462c7a"/>
<circle cx="394.6" cy="341.5" r="1.66" fill="#462c7a"/>
<circle cx="394.7" cy="341.3" r="1.66" fill="#462c7a"/>
<circle cx="394.9" cy="340.9" r="1.66" fill="#462d7a"/>
<circle cx="394.7" cy="340.6" r="1.66" fill="#462e7b"/>
<circle cx="395.3" cy="340.5" r="1.66" fill="#462e7b"/>
<circle cx="395.9" cy="340.5" r="1.66" fill="#462e7b"/>
<circle cx="395.7" cy="340.4" r="1.66" fill="#452e7b"/>
<circle cx="396.1" cy="340.0" r="1.65" fill="#452f7b"/>
<circle cx="396.2" cy="339.7" r="1.65" fill="#452f7c"/>
<circle cx="396.3" cy="339.5" r="1.65" fill="#45307c"/>
<circle cx="396.6" cy="339.2" r="1.65" fill="#45317c"/>
<circle cx="396.1" cy="339.1" r="1.65" fill="#45317c"/>
<circle cx="396.8" cy="338.5" r="1.64" fill="#44327d"/>
<circle cx="396.2" cy="338.5" r="1.64" fill="#44327d"/>
<circle cx="397.1" cy="338.4" r="1.64" fill="#44327d"/>
<circle cx="396.9" cy="337.9" r="1.64" fill="#44337d"/>
<circle cx="397.2" cy="337.7" r="1.64" fill="#44337e"/>
<circle cx="397.2" cy="337.5" r="1.63" fill="#44347e"/>
<circle cx="397.4" cy="337.2" r="1.63" fill="#44357e"/>
<circle cx="398.1" cy="337.0" r="1.63" fill="#43357e"/>
<circle cx="397.5" cy="336.9" r="1.63" fill="#43357f"/>
<circle cx="397.7" cy="336.5" r="1.63" fill="#43367f"/>
<circle cx="397.9" cy="336.4" r="1.63" fill="#43367f"/>
<circle cx="398.3" cy="336.2" r="1.63" fill="#43367f"/>
<circle cx="398.7" cy="336.0" r="1.62" fill="#43377f"/>
<circle cx="398.3" cy="335.6" r="1.62" fill="#433880"/>
<circle cx="398.7" cy="335.5" r="1.62" fill="#433880"/>
<circle cx="398.3" cy="335.1" r="1.62" fill="#423980"/>
<circle cx="399.3" cy="334.9" r="1.62" fill="#423980"/>
<circle cx="398.6" cy="334.9" r="1.62" fill="#423981"/>
<circle cx="399.4" cy="334.7" r="1.61" fill="#423981"/>
<circle cx="398.9" cy="334.0" r="1.61" fill="#423b81"/>
<circle cx="399.0" cy="333.6" r="1.61" fill="#413c82"/>
<circle cx="399.1" cy="333.6" r="1.61" fill="#413c82"/>
<circle cx="399.4" cy="333.5" r="1.61" fill="#413c82"/>
<circle cx="400.0" cy="333.1" r="1.60" fill="#413c82"/>
<circle cx="399.4" cy="333.1" r="1.60" fill="#413d82"/>
<circle cx="399.7" cy="332.7" r="1.60" fill="#413d83"/>
<circle cx="400.5" cy="332.6" r="1.60" fill="#413d83"/>
<circle cx="400.5" cy="332.2" r="1.60" fill="#413e83"/>
<circle cx="400.7" cy="332.0" r="1.60" fill="#403f83"/>
<circle cx="400.7" cy="331.6" r="1.59" fill="#403f84"/>
<circle cx="400.2" cy="331.4" r="1.59" fill="#404084"/>
<circle cx="400.8" cy="331.2" r="1.59" fill="#404084"/>
<circle cx="400.6" cy="330.7" r="1.59" fill="#404185"/>
<circle cx="401.0" cy="330.6" r="1.59" fill="#404185"/>
<circle cx="400.9" cy="330.3" r="1.58" fill="#3f4285"/>
<circle cx="401.3" cy="330.3" r="1.58" fill="#3f4285"/>
<circle cx="401.7" cy="330.1" r="1.58" fill="#3f4285"/>
<circle cx="401.7" cy="329.8" r="1.58" fill="#3f4386"/>
<circle cx="401.7" cy="329.6" r="1.58" fill="#3f4386"/>
<circle cx="402.0" cy="329.4" r="1.58" fill="#3f4486"/>
<circle cx="401.7" cy="328.7" r="1.57" fill="#3f4587"/>
<circle cx="401.8" cy="328.5" r="1.57" fill="#3e4687"/>
<circle cx="401.7" cy="328.3" r="1.57" fill="#3e4687"/>
<circle cx="401.9" cy="328.0" r="1.57" fill="#3e4687"/>
<circle cx="402.4" cy="327.9" r="1.57" fill="#3e4788"/>
<circle cx="402.7" cy="327.8" r="1.57" fill="#3e4788"/>
<circle cx="402.4" cy="327.4" r="1.56" fill="#3e4888"/>
<circle cx="402.3" cy="327.0" r="1.56" fill="#3e4888"/>
<circle cx="403.2" cy="326.9" r="1.56" fill="#3d4989"/>
<circle cx="402.5" cy="326.7" r="1.56" fill="#3d4989"/>
<circle cx="403.1" cy="326.3" r="1.56" fill="#3d4a89"/>
<circle cx="403.3" cy="326.1" r="1.55" fill="#3e4b89"/>
<circle cx="402.9" cy="326.0" r="1.55" fill="#3e4b89"/>
<circle cx="403.1" cy="325.6" r="1.55" fill="#3e4c8a"/>
<circle cx="403.9" cy="325.3" r="1.55" fill="#3e4e8a"/>
<circle cx="403.2" cy="325.1" r="1.55" fill="#3e4e8a"/>
<circle cx="404.5" cy="324.7" r="1.54" fill="#3f508b"/>
<circle cx="404.1" cy="324.7" r="1.54" fill="#3f508b"/>
<circle cx="403.5" cy="324.7" r="1.54" fill="#3f508b"/>
<circle cx="404.4" cy="324.2" r="1.54" fill="#3f518b"/>
<circle cx="404.9" cy="324.0" r="1.54" fill="#3f528b"/>
<circle cx="404.5" cy="324.0" r="1.54" fill="#3f528b"/>
<circle cx="405.1" cy="323.6" r="1.54" fill="#3f538c"/>
<circle cx="404.7" cy="323.5" r="1.53" fill="#40538d"/>
<circle cx="405.0" cy="323.1" r="1.53" fill="#3f558d"/>
<circle cx="405.2" cy="322.9" r="1.53" fill="#3f558d"/>
<circle cx="405.7" cy="322.8" r="1.53" fill="#40558d"/>
<circle cx="405.6" cy="322.4" r="1.53" fill="#40568e"/>
<circle cx="405.7" cy="322.1" r="1.52" fill="#41588e"/>
<circle cx="406.1" cy="322.1" r="1.52" fill="#41588e"/>
<circle cx="406.2" cy="321.8" r="1.52" fill="#40588e"/>
<circle cx="406.3" cy="321.4" r="1.52" fill="#415a8e"/>
<circle cx="406.1" cy="321.1" r="1.52" fill="#415a8f"/>
<circle cx="406.4" cy="321.0" r="1.52" fill="#415b8f"/>
<circle cx="407.0" cy="321.0" r="1.52" fill="#415b8f"/>
<circle cx="406.6" cy="320.6" r="1.51" fill="#425c8f"/>
<circle cx="406.9" cy="320.2" r="1.51" fill="#425d90"/>
<circle cx="406.9" cy="319.8" r="1.51" fill="#425f91"/>
<circle cx="407.2" cy="319.8" r="1.51" fill="#425f91"/>
<circle cx="407.8" cy="319.6" r="1.51" fill="#435f91"/>
<circle cx="407.1" cy="319.4" r="1.51" fill="#436091"/>
<circle cx="407.8" cy="319.2" r="1.50" fill="#426091"/>
<circle cx="407.5" cy="318.7" r="1.50" fill="#436292"/>
<circle cx="408.0" cy="318.6" r="1.50" fill="#436292"/>
<circle cx="408.7" cy="318.5" r="1.50" fill="#436292"/>
<circle cx="408.3" cy="318.5" r="1.50" fill="#436292"/>
<circle cx="408.9" cy="318.4" r="1.50" fill="#436292"/>
<circle cx="409.0" cy="318.2" r="1.50" fill="#446392"/>
<circle cx="408.8" cy="317.5" r="1.49" fill="#446593"/>
<circle cx="409.1" cy="317.3" r="1.49" fill="#446593"/>
<circle cx="409.5" cy="316.9" r="1.49" fill="#456794"/>
<circle cx="408.8" cy="316.9" r="1.49" fill="#456794"/>
<circle cx="410.0" cy="316.7" r="1.49" fill="#456794"/>
<circle cx="409.2" cy="316.5" r="1.48" fill="#446894"/>
<circle cx="410.2" cy="316.3" r="1.48" fill="#456895"/>
<circle cx="409.9" cy="316.1" r="1.48" fill="#456a95"/>
<circle cx="410.3" cy="316.0" r="1.48" fill="#456a95"/>
<circle cx="410.7" cy="315.8" r="1.48" fill="#456a95"/>
<circle cx="410.7" cy="315.6" r="1.48" fill="#466b95"/>
<circle cx="411.4" cy="314.9" r="1.47" fill="#466d96"/>
<circle cx="410.3" cy="314.8" r="1.47" fill="#466d96"/>
<circle cx="410.7" cy="314.8" r="1.47" fill="#466d96"/>
<circle cx="411.2" cy="314.4" r="1.47" fill="#476e96"/>
<circle cx="411.2" cy="314.0" r="1.47" fill="#466f97"/>
<circle cx="411.2" cy="313.8" r="1.47" fill="#477097"/>
<circle cx="411.4" cy="313.5" r="1.46" fill="#477198"/>
<circle cx="411.6" cy="313.4" r="1.46" fill="#477198"/>
<circle cx="412.2" cy="313.3" r="1.46" fill="#477298"/>
<circle cx="412.7" cy="313.1" r="1.46" fill="#487298"/>
<circle cx="411.7" cy="313.1" r="1.46" fill="#487298"/>
<circle cx="413.0" cy="313.0" r="1.46" fill="#487298"/>
<circle cx="412.8" cy="312.6" r="1.46" fill="#477399"/>
<circle cx="412.7" cy="312.0" r="1.45" fill="#487599"/>
<circle cx="413.5" cy="312.0" r="1.45" fill="#487599"/>
<circle cx="412.8" cy="312.0" r="1.45" fill="#497599"/>
<circle cx="413.5" cy="311.6" r="1.45" fill="#49769a"/>
<circle cx="363.4" cy="359.4" r="1.61" fill="#440356"/>
<circle cx="362.5" cy="359.3" r="1.61" fill="#440356"/>
<circle cx="361.7" cy="359.2" r="1.61" fill="#440356"/>
<circle cx="362.1" cy="359.1" r="1.61" fill="#440457"/>
<circle cx="360.9" cy="359.1" r="1.61" fill="#440457"/>
<circle cx="359.8" cy="359.0" r="1.61" fill="#440457"/>
<circle cx="364.0" cy="359.0" r="1.61" fill="#440457"/>
<circle cx="359.4" cy="359.0" r="1.61" fill="#440457"/>
<circle cx="361.1" cy="359.0" r="1.61" fill="#440457"/>
<circle cx="363.1" cy="358.9" r="1.61" fill="#440457"/>
<circle cx="363.0" cy="358.9" r="1.61" fill="#440457"/>
<circle cx="360.5" cy="358.8" r="1.61" fill="#440457"/>
<circle cx="362.8" cy="358.7" r="1.61" fill="#440557"/>
<circle cx="360.2" cy="358.7" r="1.61" fill="#440557"/>
<circle cx="363.7" cy="358.7" r="1.61" fill="#440557"/>
<circle cx="361.5" cy="358.7" r="1.61" fill="#440557"/>
<circle cx="361.4" cy="358.7" r="1.61" fill="#440557"/>
<circle cx="358.3" cy="358.7" r="1.61" fill="#440557"/>
<circle cx="362.1" cy="358.6" r="1.61" fill="#440558"/>
<circle cx="357.9" cy="358.6" r="1.61" fill="#440558"/>
<circle cx="358.0" cy="358.6" r="1.61" fill="#440558"/>
<circle cx="359.0" cy="358.5" r="1.61" fill="#440558"/>
<circle cx="359.1" cy="358.5" r="1.61" fill="#440558"/>
<circle cx="359.6" cy="358.5" r="1.61" fill="#440558"/>
<circle cx="357.6" cy="358.4" r="1.61" fill="#440558"/>
<circle cx="357.4" cy="358.3" r="1.61" fill="#440658"/>
<circle cx="360.1" cy="358.3" r="1.61" fill="#440658"/>
<circle cx="358.9" cy="358.1" r="1.60" fill="#440659"/>
<circle cx="356.5" cy="358.0" r="1.60" fill="#440659"/>
<circle cx="357.1" cy="357.8" r="1.60" fill="#440759"/>
<circle cx="356.4" cy="357.8" r="1.60" fill="#440759"/>
<circle cx="356.9" cy="357.8" r="1.60" fill="#440759"/>
<circle cx="356.0" cy="357.7" r="1.60" fill="#440759"/>
<circle cx="357.4" cy="357.7" r="1.60" fill="#44075a"/>
<circle cx="355.8" cy="357.2" r="1.60" fill="#44085b"/>
<circle cx="354.6" cy="357.2" r="1.60" fill="#44085b"/>
<circle cx="355.3" cy="357.1" r="1.60" fill="#44085b"/>
<circle cx="354.8" cy="357.1" r="1.60" fill="#44085b"/>
<circle cx="355.8" cy="357.0" r="1.60" fill="#44095b"/>
<circle cx="356.3" cy="357.0" r="1.60" fill="#44095b"/>
<circle cx="355.2" cy="357.0" r="1.60" fill="#44095b"/>
<circle cx="354.1" cy="356.8" r="1.60" fill="#44095b"/>
<circle cx="354.3" cy="356.8" r="1.60" fill="#44095b"/>
<circle cx="354.4" cy="356.8" r="1.60" fill="#44095b"/>
<circle cx="353.1" cy="356.5" r="1.59" fill="#440a5c"/>
<circle cx="353.3" cy="356.5" r="1.59" fill="#440a5c"/>
<circle cx="353.8" cy="356.4" r="1.59" fill="#440a5c"/>
<circle cx="352.9" cy="356.3" r="1.59" fill="#440a5c"/>
<circle cx="352.6" cy="356.1" r="1.59" fill="#450b5d"/>
<circle cx="353.9" cy="356.0" r="1.59" fill="#450b5d"/>
<circle cx="352.2" cy="355.8" r="1.59" fill="#450b5e"/>
<circle cx="352.7" cy="355.8" r="1.59" fill="#450c5e"/>
<circle cx="352.0" cy="355.7" r="1.59" fill="#450c5e"/>
<circle cx="352.0" cy="355.4" r="1.59" fill="#450c5e"/>
<circle cx="351.3" cy="355.2" r="1.59" fill="#450d5f"/>
<circle cx="351.8" cy="355.1" r="1.59" fill="#450d5f"/>
<circle cx="350.8" cy="355.0" r="1.58" fill="#450d5f"/>
<circle cx="351.7" cy="354.9" r="1.58" fill="#450d5f"/>
<circle cx="351.0" cy="354.9" r="1.58" fill="#450d5f"/>
<circle cx="349.9" cy="354.8" r="1.58" fill="#450e60"/>
<circle cx="350.2" cy="354.7" r="1.58" fill="#450e60"/>
<circle cx="350.7" cy="354.6" r="1.58" fill="#450e60"/>
<circle cx="349.6" cy="354.5" r="1.58" fill="#450f60"/>
<circle cx="350.7" cy="354.3" r="1.58" fill="#450f61"/>
<circle cx="350.0" cy="354.2" r="1.58" fill="#450f61"/>
<circle cx="348.7" cy="354.1" r="1.58" fill="#450f61"/>
<circle cx="349.5" cy="354.1" r="1.58" fill="#450f61"/>
<circle cx="349.0" cy="354.0" r="1.58" fill="#451061"/>
<circle cx="348.5" cy="354.0" r="1.58" fill="#451062"/>
<circle cx="348.2" cy="353.8" r="1.58" fill="#451062"/>
<circle cx="349.4" cy="353.7" r="1.58" fill="#451062"/>
<circle cx="348.0" cy="353.6" r="1.58" fill="#451062"/>
<circle cx="348.0" cy="353.1" r="1.57" fill="#451263"/>
<circle cx="347.4" cy="353.1" r="1.57" fill="#451263"/>
<circle cx="347.6" cy="353.0" r="1.57" fill="#451264"/>
<circle cx="347.2" cy="352.9" r="1.57" fill="#451264"/>
<circle cx="348.0" cy="352.8" r="1.57" fill="#451264"/>
<circle cx="346.9" cy="352.5" r="1.57" fill="#451365"/>
<circle cx="346.5" cy="352.4" r="1.57" fill="#451365"/>
<circle cx="345.4" cy="352.4" r="1.57" fill="#451365"/>
<circle cx="347.0" cy="352.3" r="1.57" fill="#451365"/>
<circle cx="344.8" cy="352.1" r="1.57" fill="#461466"/>
<circle cx="346.6" cy="352.1" r="1.57" fill="#461466"/>
<circle cx="345.3" cy="352.0" r="1.57" fill="#461466"/>
<circle cx="345.3" cy="351.9" r="1.56" fill="#461466"/>
<circle cx="346.4" cy="351.8" r="1.56" fill="#461566"/>
<circle cx="346.0" cy="351.8" r="1.56" fill="#461566"/>
<circle cx="343.7" cy="351.4" r="1.56" fill="#461667"/>
<circle cx="344.7" cy="351.4" r="1.56" fill="#461667"/>
<circle cx="345.0" cy="351.3" r="1.56" fill="#461667"/>
<circle cx="344.4" cy="351.1" r="1.56" fill="#461668"/>
<circle cx="343.6" cy="351.0" r="1.56" fill="#461768"/>
<circle cx="344.7" cy="350.9" r="1.56" fill="#461768"/>
<circle cx="343.3" cy="350.5" r="1.56" fill="#461869"/>
<circle cx="342.8" cy="350.5" r="1.56" fill="#461869"/>
<circle cx="343.9" cy="350.4" r="1.55" fill="#461869"/>
<circle cx="343.6" cy="350.3" r="1.55" fill="#461869"/>
<circle cx="343.4" cy="350.0" r="1.55" fill="#46196a"/>
<circle cx="342.9" cy="349.7" r="1.55" fill="#461a6b"/>
<circle cx="342.1" cy="349.5" r="1.55" fill="#461a6b"/>
<circle cx="342.8" cy="349.5" r="1.55" fill="#461a6b"/>
<circle cx="342.6" cy="349.4" r="1.55" fill="#461a6b"/>
<circle cx="342.5" cy="349.2" r="1.55" fill="#461b6c"/>
<circle cx="341.1" cy="349.2" r="1.55" fill="#461b6c"/>
<circle cx="342.0" cy="349.0" r="1.55" fill="#461b6c"/>
<circle cx="341.8" cy="349.0" r="1.55" fill="#461b6c"/>
<circle cx="341.3" cy="348.9" r="1.55" fill="#461b6c"/>
<circle cx="340.6" cy="348.6" r="1.54" fill="#461c6d"/>
<circle cx="341.0" cy="348.6" r="1.54" fill="#461c6d"/>
<circle cx="341.0" cy="348.5" r="1.54" fill="#461c6d"/>
<circle cx="340.5" cy="348.4" r="1.54" fill="#461d6d"/>
<circle cx="340.2" cy="348.2" r="1.54" fill="#461d6e"/>
<circle cx="339.7" cy="348.1" r="1.54" fill="#461d6e"/>
<circle cx="340.5" cy="347.7" r="1.54" fill="#471e6f"/>
<circle cx="339.3" cy="347.5" r="1.54" fill="#471f6f"/>
<circle cx="339.9" cy="347.4" r="1.54" fill="#471f70"/>
<circle cx="339.8" cy="347.2" r="1.53" fill="#472070"/>
<circle cx="338.9" cy="347.2" r="1.53" fill="#472070"/>
<circle cx="339.3" cy="347.0" r="1.53" fill="#472071"/>
<circle cx="339.1" cy="346.7" r="1.53" fill="#472171"/>
<circle cx="338.8" cy="346.6" r="1.53" fill="#472171"/>
<circle cx="338.4" cy="346.4" r="1.53" fill="#472172"/>
<circle cx="338.7" cy="346.3" r="1.53" fill="#472272"/>
<circle cx="338.0" cy="346.3" r="1.53" fill="#472272"/>
<circle cx="338.1" cy="346.0" r="1.53" fill="#472273"/>
<circle cx="337.2" cy="345.9" r="1.53" fill="#472373"/>
<circle cx="338.1" cy="345.7" r="1.52" fill="#472373"/>
<circle cx="337.9" cy="345.5" r="1.52" fill="#472474"/>
<circle cx="337.4" cy="345.3" r="1.52" fill="#472474"/>
<circle cx="337.2" cy="345.2" r="1.52" fill="#472474"/>
<circle cx="336.2" cy="345.0" r="1.52" fill="#472575"/>
<circle cx="336.6" cy="344.9" r="1.52" fill="#472575"/>
<circle cx="337.0" cy="344.8" r="1.52" fill="#472575"/>
<circle cx="337.2" cy="344.8" r="1.52" fill="#472575"/>
<circle cx="336.0" cy="344.4" r="1.52" fill="#472676"/>
<circle cx="336.6" cy="344.2" r="1.51" fill="#472677"/>
<circle cx="336.0" cy="344.0" r="1.51" fill="#472777"/>
<circle cx="335.7" cy="344.0" r="1.51" fill="#472777"/>
<circle cx="335.7" cy="343.6" r="1.51" fill="#472878"/>
<circle cx="335.8" cy="343.3" r="1.51" fill="#472878"/>
<circle cx="335.2" cy="343.3" r="1.51" fill="#472878"/>
<circle cx="335.3" cy="343.3" r="1.51" fill="#472878"/>
<circle cx="334.8" cy="343.1" r="1.51" fill="#472978"/>
<circle cx="335.2" cy="342.6" r="1.50" fill="#472a79"/>
<circle cx="334.6" cy="342.5" r="1.50" fill="#472a79"/>
<circle cx="335.1" cy="342.4" r="1.50" fill="#472a79"/>
<circle cx="334.2" cy="342.4" r="1.50" fill="#472a79"/>
<circle cx="334.3" cy="342.0" r="1.50" fill="#462b79"/>
<circle cx="334.4" cy="341.6" r="1.50" fill="#462c7a"/>
<circle cx="333.7" cy="341.5" r="1.50" fill="#462c7a"/>
<circle cx="334.4" cy="341.5" r="1.50" fill="#462c7a"/>
<circle cx="333.6" cy="341.4" r="1.50" fill="#462c7a"/>
<circle cx="333.9" cy="340.9" r="1.49" fill="#462d7a"/>
<circle cx="333.6" cy="340.8" r="1.49" fill="#462d7a"/>
<circle cx="333.7" cy="340.5" r="1.49" fill="#462e7b"/>
<circle cx="333.5" cy="340.2" r="1.49" fill="#452e7b"/>
<circle cx="333.4" cy="340.2" r="1.49" fill="#452e7b"/>
<circle cx="333.1" cy="340.1" r="1.49" fill="#452f7b"/>
<circle cx="332.7" cy="339.8" r="1.49" fill="#452f7c"/>
<circle cx="333.2" cy="339.7" r="1.49" fill="#452f7c"/>
<circle cx="441.2" cy="224.8" r="1.80" fill="#e6e08a"/>
<circle cx="437.6" cy="238.5" r="1.80" fill="#cdd98c"/>
<circle cx="436.5" cy="241.6" r="1.80" fill="#c4d48e"/>
<circle cx="424.2" cy="282.0" r="1.80" fill="#3f9a90"/>
<circle cx="425.0" cy="283.6" r="1.80" fill="#4aa196"/>
<circle cx="420.0" cy="294.2" r="1.80" fill="#9fb8bf"/>
<circle cx="419.0" cy="299.7" r="1.80" fill="#3a9a92"/>
<circle cx="416.0" cy="304.6" r="1.80" fill="#2a7282"/>
<circle cx="416.3" cy="302.9" r="1.80" fill="#2f8a90"/>
<line x1="317.7" y1="189.6" x2="317.7" y2="361.6" stroke="#111" stroke-width="1.3"/>
<line x1="317.1" y1="361.3" x2="458.0" y2="361.3" stroke="#111" stroke-width="1.2"/>
<line x1="314.2" y1="360.5" x2="317.7" y2="360.5" stroke="#111" stroke-width="0.8"/>
<line x1="316.0" y1="354.9" x2="317.7" y2="354.9" stroke="#111" stroke-width="0.8"/>
<line x1="316.0" y1="349.3" x2="317.7" y2="349.3" stroke="#111" stroke-width="0.8"/>
<line x1="316.0" y1="343.8" x2="317.7" y2="343.8" stroke="#111" stroke-width="0.8"/>
<line x1="316.0" y1="338.2" x2="317.7" y2="338.2" stroke="#111" stroke-width="0.8"/>
<line x1="316.0" y1="332.6" x2="317.7" y2="332.6" stroke="#111" stroke-width="0.8"/>
<line x1="314.2" y1="327.0" x2="317.7" y2="327.0" stroke="#111" stroke-width="0.8"/>
<line x1="316.0" y1="321.4" x2="317.7" y2="321.4" stroke="#111" stroke-width="0.8"/>
<line x1="316.0" y1="315.8" x2="317.7" y2="315.8" stroke="#111" stroke-width="0.8"/>
<line x1="316.0" y1="310.2" x2="317.7" y2="310.2" stroke="#111" stroke-width="0.8"/>
<line x1="316.0" y1="304.7" x2="317.7" y2="304.7" stroke="#111" stroke-width="0.8"/>
<line x1="316.0" y1="299.1" x2="317.7" y2="299.1" stroke="#111" stroke-width="0.8"/>
<line x1="314.2" y1="293.5" x2="317.7" y2="293.5" stroke="#111" stroke-width="0.8"/>
<line x1="316.0" y1="287.9" x2="317.7" y2="287.9" stroke="#111" stroke-width="0.8"/>
<line x1="316.0" y1="282.3" x2="317.7" y2="282.3" stroke="#111" stroke-width="0.8"/>
<line x1="316.0" y1="276.8" x2="317.7" y2="276.8" stroke="#111" stroke-width="0.8"/>
<line x1="316.0" y1="271.2" x2="317.7" y2="271.2" stroke="#111" stroke-width="0.8"/>
<line x1="316.0" y1="265.6" x2="317.7" y2="265.6" stroke="#111" stroke-width="0.8"/>
<line x1="314.2" y1="260.0" x2="317.7" y2="260.0" stroke="#111" stroke-width="0.8"/>
<line x1="316.0" y1="254.4" x2="317.7" y2="254.4" stroke="#111" stroke-width="0.8"/>
<line x1="316.0" y1="248.8" x2="317.7" y2="248.8" stroke="#111" stroke-width="0.8"/>
<line x1="316.0" y1="243.2" x2="317.7" y2="243.2" stroke="#111" stroke-width="0.8"/>
<line x1="316.0" y1="237.7" x2="317.7" y2="237.7" stroke="#111" stroke-width="0.8"/>
<line x1="316.0" y1="232.1" x2="317.7" y2="232.1" stroke="#111" stroke-width="0.8"/>
<line x1="314.2" y1="226.5" x2="317.7" y2="226.5" stroke="#111" stroke-width="0.8"/>
<line x1="316.0" y1="220.9" x2="317.7" y2="220.9" stroke="#111" stroke-width="0.8"/>
<line x1="316.0" y1="215.3" x2="317.7" y2="215.3" stroke="#111" stroke-width="0.8"/>
<line x1="316.0" y1="209.8" x2="317.7" y2="209.8" stroke="#111" stroke-width="0.8"/>
<line x1="316.0" y1="204.2" x2="317.7" y2="204.2" stroke="#111" stroke-width="0.8"/>
<line x1="316.0" y1="198.6" x2="317.7" y2="198.6" stroke="#111" stroke-width="0.8"/>
<line x1="314.2" y1="193.0" x2="317.7" y2="193.0" stroke="#111" stroke-width="0.8"/>
<line x1="317.8" y1="361.3" x2="317.8" y2="364.3" stroke="#111" stroke-width="0.8"/>
<text x="311.1" y="374.4" font-size="6.9" fill="#333">–0.4</text>
<line x1="341.0" y1="361.3" x2="341.0" y2="364.3" stroke="#111" stroke-width="0.8"/>
<text x="334.3" y="374.4" font-size="6.9" fill="#333">–0.2</text>
<line x1="364.2" y1="361.3" x2="364.2" y2="364.3" stroke="#111" stroke-width="0.8"/>
<text x="359.4" y="374.4" font-size="6.9" fill="#333">0.0</text>
<line x1="387.4" y1="361.3" x2="387.4" y2="364.3" stroke="#111" stroke-width="0.8"/>
<text x="382.6" y="374.4" font-size="6.9" fill="#333">0.2</text>
<line x1="410.6" y1="361.3" x2="410.6" y2="364.3" stroke="#111" stroke-width="0.8"/>
<text x="405.8" y="374.4" font-size="6.9" fill="#333">0.4</text>
<line x1="433.8" y1="361.3" x2="433.8" y2="364.3" stroke="#111" stroke-width="0.8"/>
<text x="429.0" y="374.4" font-size="6.9" fill="#333">0.6</text>
<line x1="457.0" y1="361.3" x2="457.0" y2="364.3" stroke="#111" stroke-width="0.8"/>
<text x="452.2" y="374.4" font-size="6.9" fill="#333">0.8</text>
<text x="306.9" y="363.0" font-size="7.2" fill="#333" stroke="#333" stroke-width="0.1">0</text>
<text x="306.9" y="329.5" font-size="7.2" fill="#333" stroke="#333" stroke-width="0.1">5</text>
<text x="302.9" y="296.0" font-size="7.2" fill="#333" stroke="#333" stroke-width="0.1">10</text>
<text x="302.9" y="262.5" font-size="7.2" fill="#333" stroke="#333" stroke-width="0.1">15</text>
<text x="302.9" y="229.0" font-size="7.2" fill="#333" stroke="#333" stroke-width="0.1">20</text>
<text x="302.9" y="195.5" font-size="7.2" fill="#333" stroke="#333" stroke-width="0.1">25</text>
<text transform="translate(296.6 291.9) rotate(-90)" font-size="10" fill="#333" stroke="#333" stroke-width="0.1" textLength="33.3" lengthAdjust="spacingAndGlyphs">-log10(<tspan font-style="italic">P</tspan>)</text>
<text x="346.2" y="388.8" font-size="10.4" fill="#333" stroke="#333" stroke-width="0.1" textLength="85.3" lengthAdjust="spacingAndGlyphs">Spearman to kynurenine</text>
<ellipse cx="401.8" cy="329" rx="4.6" ry="13.2" transform="rotate(27 401.8 329)" fill="none" stroke="#2b3263" stroke-width="0.9"/>
<text x="391.0" y="225.1" font-size="7.2" fill="#e0393e" stroke="#e0393e" stroke-width="0.1" textLength="45.5" lengthAdjust="spacingAndGlyphs">Phenylalanine</text>
<text x="400.9" y="233.6" font-size="7.2" fill="#333" stroke="#333" stroke-width="0.1" textLength="37.0" lengthAdjust="spacingAndGlyphs">Coumarate</text>
<text x="406.2" y="241.6" font-size="7.2" fill="#e0393e" stroke="#e0393e" stroke-width="0.1" textLength="26.3" lengthAdjust="spacingAndGlyphs">Tyrosine</text>
<text x="388.8" y="277.2" font-size="7.2" fill="#333" stroke="#333" stroke-width="0.1" textLength="33.5" lengthAdjust="spacingAndGlyphs">Creatinine</text>
<text x="430.3" y="278.5" font-size="7.2" fill="#333" stroke="#333" stroke-width="0.1" textLength="18.2" lengthAdjust="spacingAndGlyphs">Urate</text>
<text x="381.0" y="287.7" font-size="7.2" fill="#e0393e" stroke="#e0393e" stroke-width="0.1" textLength="38.0" lengthAdjust="spacingAndGlyphs">Tryptophan</text>
<text x="380.5" y="298.2" font-size="7.2" fill="#e0393e" stroke="#e0393e" stroke-width="0.1" textLength="34.9" lengthAdjust="spacingAndGlyphs">Glutamate</text>
<text x="421.5" y="305.9" font-size="7.2" fill="#e0393e" stroke="#e0393e" stroke-width="0.1" textLength="36.0" lengthAdjust="spacingAndGlyphs">Leucine/Ile</text>
<text x="375.4" y="310.0" font-size="7.2" fill="#333" stroke="#333" stroke-width="0.1" textLength="36.9" lengthAdjust="spacingAndGlyphs">Spermidine</text>
<text x="412.9" y="321.3" font-size="7.2" fill="#333" stroke="#333" stroke-width="0.1" textLength="68.1" lengthAdjust="spacingAndGlyphs">9-Oxononanoic acid</text>
<text x="408.0" y="332.4" font-size="7.2" fill="#333" stroke="#333" stroke-width="0.1" textLength="49.0" lengthAdjust="spacingAndGlyphs">Acyl-Carnitines</text>
<defs><linearGradient id="cb483" x1="0" y1="1" x2="0" y2="0">
<stop offset="0" stop-color="#b088c0"/>
<stop offset="0.104" stop-color="#a898c8"/>
<stop offset="0.205" stop-color="#a0a0cc"/>
<stop offset="0.312" stop-color="#90b0d0"/>
<stop offset="0.413" stop-color="#80c0c8"/>
<stop offset="0.49" stop-color="#80c8c8"/>
<stop offset="0.622" stop-color="#88d0c0"/>
<stop offset="0.729" stop-color="#b0d8b0"/>
<stop offset="0.83" stop-color="#d0e0a0"/>
<stop offset="0.908" stop-color="#e8e890"/>
<stop offset="1" stop-color="#f0ec90"/>
</linearGradient></defs>
<rect x="483" y="194.2" width="12" height="168.10000000000002" fill="url(#cb483)" stroke="#666" stroke-width="0.6"/>
<line x1="483.0" y1="196.1" x2="484.5" y2="196.1" stroke="#444" stroke-width="0.6"/>
<line x1="493.5" y1="196.1" x2="495.0" y2="196.1" stroke="#444" stroke-width="0.6"/>
<text x="498.6" y="198.4" font-size="6.6" fill="#333">20</text>
<line x1="483.0" y1="237.9" x2="484.5" y2="237.9" stroke="#444" stroke-width="0.6"/>
<line x1="493.5" y1="237.9" x2="495.0" y2="237.9" stroke="#444" stroke-width="0.6"/>
<text x="498.6" y="240.2" font-size="6.6" fill="#333">15</text>
<line x1="483.0" y1="279.5" x2="484.5" y2="279.5" stroke="#444" stroke-width="0.6"/>
<line x1="493.5" y1="279.5" x2="495.0" y2="279.5" stroke="#444" stroke-width="0.6"/>
<text x="498.6" y="281.8" font-size="6.6" fill="#333">10</text>
<line x1="483.0" y1="321.5" x2="484.5" y2="321.5" stroke="#444" stroke-width="0.6"/>
<line x1="493.5" y1="321.5" x2="495.0" y2="321.5" stroke="#444" stroke-width="0.6"/>
<text x="498.6" y="323.8" font-size="6.6" fill="#333">5</text>
<text x="478.0" y="187.0" font-size="6.6" fill="#333" stroke="#333" stroke-width="0.1" textLength="33.8" lengthAdjust="spacingAndGlyphs">–log10 (p)</text>
<text x="8.5" y="416.0" font-size="12.6" fill="#111" font-weight="bold" textLength="9.4" lengthAdjust="spacingAndGlyphs">D</text>
<text x="151.1" y="415.5" font-size="10.2" fill="#222" stroke="#222" stroke-width="0.1" textLength="232.9" lengthAdjust="spacingAndGlyphs">Network analysis of protein correlates to Kynurenine</text>
<circle cx="102.4" cy="482.5" r="34.00" fill="#c4e3e5"/>
<circle cx="198.8" cy="465.5" r="29.50" fill="#e4d2c7"/>
<defs><radialGradient id="yg" cx="0.35" cy="0.3" r="0.8"><stop offset="0" stop-color="#f3f2cc"/><stop offset="0.7" stop-color="#ecebb8"/><stop offset="1" stop-color="#e7e5aa"/></radialGradient></defs>
<ellipse cx="99.4" cy="623.4" rx="53.6" ry="49.8" fill="url(#yg)"/>
<defs><linearGradient id="pg" x1="0" y1="0" x2="0" y2="1"><stop offset="0" stop-color="#eec0cc"/><stop offset="0.35" stop-color="#e6bdc9"/><stop offset="1" stop-color="#d9bac6"/></linearGradient></defs>
<circle cx="285.0" cy="624.2" r="70.20" fill="url(#pg)"/>
<circle cx="428.5" cy="537.7" r="19.00" fill="#cfdccf"/>
<circle cx="458.0" cy="657.8" r="29.50" fill="#c2c7dd"/>
<circle cx="359.0" cy="714.5" r="35.00" fill="#cfbbd8"/>
<g fill="none" stroke-linecap="round">
<line x1="199.4" y1="467.2" x2="119.1" y2="619.7" stroke="#c6c864" stroke-opacity="0.45" stroke-width="0.55"/>
<line x1="198.7" y1="466.8" x2="119.7" y2="620.1" stroke="#c6c864" stroke-opacity="0.45" stroke-width="0.55"/>
<line x1="198.9" y1="467.0" x2="117.2" y2="618.6" stroke="#c6c864" stroke-opacity="0.45" stroke-width="0.55"/>
<line x1="200.0" y1="467.6" x2="115.9" y2="618.0" stroke="#c6c864" stroke-opacity="0.45" stroke-width="0.55"/>
<line x1="200.1" y1="467.6" x2="116.6" y2="618.3" stroke="#c6c864" stroke-opacity="0.45" stroke-width="0.55"/>
<line x1="200.0" y1="467.5" x2="119.6" y2="620.0" stroke="#c6c864" stroke-opacity="0.45" stroke-width="0.55"/>
<line x1="199.2" y1="467.1" x2="113.1" y2="616.4" stroke="#c6c864" stroke-opacity="0.45" stroke-width="0.55"/>
<line x1="199.9" y1="467.5" x2="118.4" y2="619.3" stroke="#c6c864" stroke-opacity="0.45" stroke-width="0.55"/>
<line x1="198.7" y1="466.8" x2="112.1" y2="615.8" stroke="#c6c864" stroke-opacity="0.45" stroke-width="0.55"/>
<line x1="198.8" y1="466.9" x2="116.9" y2="618.5" stroke="#c6c864" stroke-opacity="0.45" stroke-width="0.55"/>
<line x1="197.9" y1="466.4" x2="120.0" y2="620.2" stroke="#c6c864" stroke-opacity="0.45" stroke-width="0.55"/>
<line x1="198.2" y1="466.6" x2="117.8" y2="619.0" stroke="#c6c864" stroke-opacity="0.45" stroke-width="0.55"/>
<line x1="199.8" y1="467.4" x2="119.3" y2="619.8" stroke="#c6c864" stroke-opacity="0.45" stroke-width="0.55"/>
<line x1="199.4" y1="467.2" x2="113.2" y2="616.5" stroke="#c6c864" stroke-opacity="0.45" stroke-width="0.55"/>
<line x1="199.7" y1="467.4" x2="115.3" y2="617.6" stroke="#c6c864" stroke-opacity="0.45" stroke-width="0.55"/>
<line x1="198.7" y1="466.8" x2="117.1" y2="618.6" stroke="#c6c864" stroke-opacity="0.45" stroke-width="0.55"/>
<line x1="198.9" y1="466.9" x2="119.8" y2="620.1" stroke="#c6c864" stroke-opacity="0.45" stroke-width="0.55"/>
<line x1="200.0" y1="467.6" x2="118.6" y2="619.4" stroke="#c6c864" stroke-opacity="0.45" stroke-width="0.55"/>
<line x1="289.3" y1="465.9" x2="120.8" y2="615.9" stroke="#c6c864" stroke-opacity="0.55" stroke-width="0.55"/>
<line x1="289.9" y1="466.7" x2="119.1" y2="614.0" stroke="#c6c864" stroke-opacity="0.55" stroke-width="0.55"/>
<line x1="289.7" y1="466.4" x2="122.1" y2="617.4" stroke="#c6c864" stroke-opacity="0.55" stroke-width="0.55"/>
<line x1="289.1" y1="465.7" x2="117.9" y2="612.6" stroke="#c6c864" stroke-opacity="0.55" stroke-width="0.55"/>
<line x1="290.0" y1="466.8" x2="119.2" y2="614.1" stroke="#c6c864" stroke-opacity="0.55" stroke-width="0.55"/>
<line x1="289.6" y1="466.3" x2="116.0" y2="610.5" stroke="#c6c864" stroke-opacity="0.55" stroke-width="0.55"/>
<line x1="289.2" y1="465.9" x2="122.2" y2="617.6" stroke="#c6c864" stroke-opacity="0.55" stroke-width="0.55"/>
<line x1="288.8" y1="465.4" x2="124.0" y2="619.6" stroke="#c6c864" stroke-opacity="0.55" stroke-width="0.55"/>
<line x1="289.7" y1="466.5" x2="117.3" y2="611.9" stroke="#c6c864" stroke-opacity="0.55" stroke-width="0.55"/>
<line x1="290.2" y1="467.0" x2="120.1" y2="615.1" stroke="#c6c864" stroke-opacity="0.55" stroke-width="0.55"/>
<line x1="290.4" y1="467.2" x2="118.2" y2="613.0" stroke="#c6c864" stroke-opacity="0.55" stroke-width="0.55"/>
<line x1="289.1" y1="465.8" x2="119.2" y2="614.1" stroke="#c6c864" stroke-opacity="0.55" stroke-width="0.55"/>
<line x1="293.4" y1="473.9" x2="125.9" y2="622.3" stroke="#c6c864" stroke-opacity="0.5" stroke-width="0.55"/>
<line x1="293.7" y1="474.2" x2="123.0" y2="618.9" stroke="#c6c864" stroke-opacity="0.5" stroke-width="0.55"/>
<line x1="293.9" y1="474.4" x2="124.5" y2="620.5" stroke="#c6c864" stroke-opacity="0.5" stroke-width="0.55"/>
<line x1="293.4" y1="473.9" x2="119.4" y2="614.6" stroke="#c6c864" stroke-opacity="0.5" stroke-width="0.55"/>
<line x1="294.0" y1="474.7" x2="122.3" y2="618.0" stroke="#c6c864" stroke-opacity="0.5" stroke-width="0.55"/>
<line x1="294.7" y1="475.5" x2="121.9" y2="617.6" stroke="#c6c864" stroke-opacity="0.5" stroke-width="0.55"/>
<line x1="293.8" y1="474.3" x2="118.9" y2="614.0" stroke="#c6c864" stroke-opacity="0.5" stroke-width="0.55"/>
<line x1="293.5" y1="474.0" x2="126.2" y2="622.6" stroke="#c6c864" stroke-opacity="0.5" stroke-width="0.55"/>
<line x1="294.2" y1="474.8" x2="122.2" y2="617.9" stroke="#c6c864" stroke-opacity="0.5" stroke-width="0.55"/>
<line x1="294.8" y1="475.5" x2="124.4" y2="620.5" stroke="#c6c864" stroke-opacity="0.5" stroke-width="0.55"/>
<line x1="99.7" y1="479.9" x2="120.9" y2="615.2" stroke="#c6c864" stroke-opacity="0.4" stroke-width="0.5"/>
<line x1="99.9" y1="479.9" x2="109.2" y2="616.5" stroke="#c6c864" stroke-opacity="0.4" stroke-width="0.5"/>
<line x1="99.7" y1="479.9" x2="118.5" y2="615.5" stroke="#c6c864" stroke-opacity="0.4" stroke-width="0.5"/>
<line x1="99.2" y1="480.0" x2="107.4" y2="616.7" stroke="#c6c864" stroke-opacity="0.4" stroke-width="0.5"/>
<line x1="99.8" y1="479.9" x2="114.9" y2="615.9" stroke="#c6c864" stroke-opacity="0.4" stroke-width="0.5"/>
<line x1="98.9" y1="480.0" x2="107.1" y2="616.8" stroke="#c6c864" stroke-opacity="0.4" stroke-width="0.5"/>
<line x1="98.4" y1="480.1" x2="107.5" y2="616.7" stroke="#c6c864" stroke-opacity="0.4" stroke-width="0.5"/>
<line x1="109.1" y1="484.4" x2="121.5" y2="617.9" stroke="#c6c864" stroke-opacity="0.38" stroke-width="0.5"/>
<line x1="109.0" y1="484.4" x2="113.1" y2="618.6" stroke="#c6c864" stroke-opacity="0.38" stroke-width="0.5"/>
<line x1="107.8" y1="484.5" x2="126.3" y2="617.5" stroke="#c6c864" stroke-opacity="0.38" stroke-width="0.5"/>
<line x1="109.3" y1="484.3" x2="124.8" y2="617.6" stroke="#c6c864" stroke-opacity="0.38" stroke-width="0.5"/>
<line x1="109.2" y1="484.4" x2="120.3" y2="618.0" stroke="#c6c864" stroke-opacity="0.38" stroke-width="0.5"/>
<line x1="108.5" y1="484.4" x2="124.3" y2="617.6" stroke="#c6c864" stroke-opacity="0.38" stroke-width="0.5"/>
<line x1="330.0" y1="505.0" x2="150.0" y2="585.0" stroke="#c6c864" stroke-width="0.5" stroke-opacity="0.5"/>
<line x1="196.0" y1="491.8" x2="255.0" y2="574.5" stroke="#b8b8c2" stroke-opacity="0.42" stroke-width="0.45"/>
<line x1="199.1" y1="492.4" x2="256.1" y2="574.9" stroke="#b8b8c2" stroke-opacity="0.42" stroke-width="0.45"/>
<line x1="199.7" y1="491.1" x2="259.2" y2="576.2" stroke="#b8b8c2" stroke-opacity="0.42" stroke-width="0.45"/>
<line x1="201.2" y1="492.6" x2="255.1" y2="573.2" stroke="#b8b8c2" stroke-opacity="0.42" stroke-width="0.45"/>
<line x1="200.8" y1="492.3" x2="252.5" y2="570.5" stroke="#b8b8c2" stroke-opacity="0.42" stroke-width="0.45"/>
<line x1="202.2" y1="491.3" x2="254.7" y2="570.4" stroke="#b8b8c2" stroke-opacity="0.42" stroke-width="0.45"/>
<line x1="203.0" y1="491.3" x2="252.8" y2="572.9" stroke="#b8b8c2" stroke-opacity="0.42" stroke-width="0.45"/>
<line x1="204.2" y1="492.7" x2="256.9" y2="571.2" stroke="#b8b8c2" stroke-opacity="0.42" stroke-width="0.45"/>
<line x1="205.8" y1="491.7" x2="254.9" y2="571.0" stroke="#b8b8c2" stroke-opacity="0.42" stroke-width="0.45"/>
<line x1="208.1" y1="493.0" x2="255.7" y2="573.9" stroke="#b8b8c2" stroke-opacity="0.42" stroke-width="0.45"/>
<line x1="207.8" y1="491.2" x2="254.7" y2="572.1" stroke="#b8b8c2" stroke-opacity="0.42" stroke-width="0.45"/>
<line x1="210.4" y1="491.3" x2="252.2" y2="577.6" stroke="#b8b8c2" stroke-opacity="0.42" stroke-width="0.45"/>
<line x1="211.0" y1="491.3" x2="256.3" y2="570.2" stroke="#b8b8c2" stroke-opacity="0.42" stroke-width="0.45"/>
<line x1="212.1" y1="493.0" x2="258.9" y2="575.6" stroke="#b8b8c2" stroke-opacity="0.42" stroke-width="0.45"/>
<line x1="212.8" y1="491.7" x2="253.3" y2="576.2" stroke="#b8b8c2" stroke-opacity="0.42" stroke-width="0.45"/>
<line x1="214.5" y1="492.6" x2="254.6" y2="571.8" stroke="#b8b8c2" stroke-opacity="0.42" stroke-width="0.45"/>
<line x1="216.2" y1="493.0" x2="258.8" y2="576.4" stroke="#b8b8c2" stroke-opacity="0.42" stroke-width="0.45"/>
<line x1="217.4" y1="492.5" x2="253.8" y2="574.1" stroke="#b8b8c2" stroke-opacity="0.42" stroke-width="0.45"/>
<line x1="217.6" y1="491.1" x2="252.2" y2="572.2" stroke="#b8b8c2" stroke-opacity="0.42" stroke-width="0.45"/>
<line x1="218.6" y1="492.4" x2="259.7" y2="573.6" stroke="#b8b8c2" stroke-opacity="0.42" stroke-width="0.45"/>
<line x1="221.1" y1="493.0" x2="259.6" y2="572.9" stroke="#b8b8c2" stroke-opacity="0.42" stroke-width="0.45"/>
<line x1="220.8" y1="491.5" x2="253.6" y2="571.6" stroke="#b8b8c2" stroke-opacity="0.42" stroke-width="0.45"/>
<line x1="222.8" y1="492.8" x2="258.7" y2="573.8" stroke="#b8b8c2" stroke-opacity="0.42" stroke-width="0.45"/>
<line x1="224.0" y1="492.6" x2="252.7" y2="575.3" stroke="#b8b8c2" stroke-opacity="0.42" stroke-width="0.45"/>
<line x1="225.7" y1="492.6" x2="258.0" y2="573.8" stroke="#b8b8c2" stroke-opacity="0.42" stroke-width="0.45"/>
<line x1="225.4" y1="492.6" x2="254.7" y2="576.4" stroke="#b8b8c2" stroke-opacity="0.42" stroke-width="0.45"/>
<line x1="256.9" y1="573.8" x2="278.8" y2="627.4" stroke="#a0a0a8" stroke-opacity="0.3" stroke-width="0.45"/>
<line x1="257.1" y1="573.8" x2="275.5" y2="617.8" stroke="#a0a0a8" stroke-opacity="0.3" stroke-width="0.45"/>
<line x1="258.1" y1="575.5" x2="275.8" y2="625.9" stroke="#a0a0a8" stroke-opacity="0.3" stroke-width="0.45"/>
<line x1="259.0" y1="575.6" x2="278.2" y2="622.6" stroke="#a0a0a8" stroke-opacity="0.3" stroke-width="0.45"/>
<line x1="257.9" y1="574.8" x2="285.7" y2="623.8" stroke="#a0a0a8" stroke-opacity="0.3" stroke-width="0.45"/>
<line x1="259.4" y1="577.1" x2="279.2" y2="626.5" stroke="#a0a0a8" stroke-opacity="0.3" stroke-width="0.45"/>
<line x1="260.7" y1="576.1" x2="277.0" y2="619.5" stroke="#a0a0a8" stroke-opacity="0.3" stroke-width="0.45"/>
<line x1="260.1" y1="577.3" x2="277.1" y2="621.0" stroke="#a0a0a8" stroke-opacity="0.3" stroke-width="0.45"/>
<line x1="260.6" y1="578.4" x2="278.2" y2="621.5" stroke="#a0a0a8" stroke-opacity="0.3" stroke-width="0.45"/>
<line x1="262.2" y1="578.8" x2="279.0" y2="627.0" stroke="#a0a0a8" stroke-opacity="0.3" stroke-width="0.45"/>
<line x1="292.0" y1="478.0" x2="291.9" y2="560.0" stroke="#9a9a9a" stroke-opacity="0.2" stroke-width="0.45"/>
<line x1="292.0" y1="478.0" x2="293.9" y2="560.0" stroke="#9a9a9a" stroke-opacity="0.2" stroke-width="0.45"/>
<line x1="292.1" y1="478.0" x2="293.3" y2="560.0" stroke="#9a9a9a" stroke-opacity="0.2" stroke-width="0.45"/>
<line x1="428.3" y1="549.1" x2="278.6" y2="619.4" stroke="#9a9a9a" stroke-opacity="0.42" stroke-width="0.5"/>
<line x1="427.2" y1="547.0" x2="280.1" y2="622.2" stroke="#9a9a9a" stroke-opacity="0.42" stroke-width="0.5"/>
<line x1="423.5" y1="540.2" x2="279.7" y2="621.5" stroke="#9a9a9a" stroke-opacity="0.42" stroke-width="0.5"/>
<line x1="426.2" y1="545.1" x2="279.9" y2="621.8" stroke="#9a9a9a" stroke-opacity="0.42" stroke-width="0.5"/>
<line x1="424.6" y1="542.3" x2="278.6" y2="619.5" stroke="#9a9a9a" stroke-opacity="0.42" stroke-width="0.5"/>
<line x1="427.6" y1="547.8" x2="279.7" y2="621.5" stroke="#9a9a9a" stroke-opacity="0.42" stroke-width="0.5"/>
<line x1="426.7" y1="546.1" x2="281.1" y2="624.0" stroke="#9a9a9a" stroke-opacity="0.42" stroke-width="0.5"/>
<line x1="423.2" y1="539.7" x2="280.0" y2="621.9" stroke="#9a9a9a" stroke-opacity="0.42" stroke-width="0.5"/>
<line x1="424.6" y1="542.2" x2="278.8" y2="619.7" stroke="#9a9a9a" stroke-opacity="0.42" stroke-width="0.5"/>
<line x1="422.2" y1="537.9" x2="280.3" y2="622.5" stroke="#9a9a9a" stroke-opacity="0.42" stroke-width="0.5"/>
<line x1="424.2" y1="541.6" x2="280.0" y2="622.0" stroke="#9a9a9a" stroke-opacity="0.42" stroke-width="0.5"/>
<line x1="424.9" y1="542.9" x2="279.1" y2="620.3" stroke="#9a9a9a" stroke-opacity="0.42" stroke-width="0.5"/>
<line x1="425.3" y1="543.6" x2="279.8" y2="621.7" stroke="#9a9a9a" stroke-opacity="0.42" stroke-width="0.5"/>
<line x1="425.1" y1="543.3" x2="277.9" y2="618.1" stroke="#9a9a9a" stroke-opacity="0.42" stroke-width="0.5"/>
<line x1="423.7" y1="540.6" x2="278.2" y2="618.7" stroke="#9a9a9a" stroke-opacity="0.42" stroke-width="0.5"/>
<line x1="422.0" y1="537.6" x2="281.2" y2="624.1" stroke="#9a9a9a" stroke-opacity="0.42" stroke-width="0.5"/>
<line x1="424.6" y1="542.3" x2="277.9" y2="618.1" stroke="#9a9a9a" stroke-opacity="0.42" stroke-width="0.5"/>
<line x1="422.7" y1="538.8" x2="281.7" y2="625.2" stroke="#9a9a9a" stroke-opacity="0.42" stroke-width="0.5"/>
<line x1="427.5" y1="547.7" x2="280.3" y2="622.5" stroke="#9a9a9a" stroke-opacity="0.42" stroke-width="0.5"/>
<line x1="427.9" y1="548.3" x2="281.2" y2="624.3" stroke="#9a9a9a" stroke-opacity="0.42" stroke-width="0.5"/>
<line x1="446.7" y1="663.8" x2="280.6" y2="619.0" stroke="#9a9a9a" stroke-opacity="0.3" stroke-width="0.45"/>
<line x1="448.8" y1="654.1" x2="281.5" y2="615.0" stroke="#9a9a9a" stroke-opacity="0.3" stroke-width="0.45"/>
<line x1="447.0" y1="662.7" x2="280.8" y2="618.2" stroke="#9a9a9a" stroke-opacity="0.3" stroke-width="0.45"/>
<line x1="448.5" y1="655.8" x2="278.7" y2="628.3" stroke="#9a9a9a" stroke-opacity="0.3" stroke-width="0.45"/>
<line x1="449.1" y1="652.8" x2="281.8" y2="613.8" stroke="#9a9a9a" stroke-opacity="0.3" stroke-width="0.45"/>
<line x1="447.2" y1="661.8" x2="281.7" y2="614.0" stroke="#9a9a9a" stroke-opacity="0.3" stroke-width="0.45"/>
<line x1="447.7" y1="659.4" x2="280.0" y2="622.2" stroke="#9a9a9a" stroke-opacity="0.3" stroke-width="0.45"/>
<line x1="449.4" y1="651.3" x2="281.3" y2="616.1" stroke="#9a9a9a" stroke-opacity="0.3" stroke-width="0.45"/>
<line x1="447.0" y1="662.6" x2="279.7" y2="623.2" stroke="#9a9a9a" stroke-opacity="0.3" stroke-width="0.45"/>
<line x1="448.0" y1="657.8" x2="279.4" y2="624.8" stroke="#9a9a9a" stroke-opacity="0.3" stroke-width="0.45"/>
<line x1="447.1" y1="662.2" x2="279.3" y2="625.2" stroke="#9a9a9a" stroke-opacity="0.3" stroke-width="0.45"/>
<line x1="448.7" y1="655.0" x2="278.2" y2="630.5" stroke="#9a9a9a" stroke-opacity="0.3" stroke-width="0.45"/>
<line x1="448.2" y1="657.3" x2="279.8" y2="623.0" stroke="#9a9a9a" stroke-opacity="0.3" stroke-width="0.45"/>
<line x1="446.6" y1="664.6" x2="279.4" y2="625.0" stroke="#9a9a9a" stroke-opacity="0.3" stroke-width="0.45"/>
<line x1="448.4" y1="656.3" x2="280.0" y2="621.8" stroke="#9a9a9a" stroke-opacity="0.3" stroke-width="0.45"/>
<line x1="446.7" y1="664.0" x2="281.8" y2="613.5" stroke="#9a9a9a" stroke-opacity="0.3" stroke-width="0.45"/>
<line x1="448.8" y1="654.1" x2="281.8" y2="613.7" stroke="#9a9a9a" stroke-opacity="0.3" stroke-width="0.45"/>
<line x1="446.8" y1="663.4" x2="279.1" y2="626.1" stroke="#9a9a9a" stroke-opacity="0.3" stroke-width="0.45"/>
<line x1="446.6" y1="664.3" x2="281.1" y2="617.1" stroke="#9a9a9a" stroke-opacity="0.3" stroke-width="0.45"/>
<line x1="447.3" y1="661.1" x2="278.6" y2="628.5" stroke="#9a9a9a" stroke-opacity="0.3" stroke-width="0.45"/>
<line x1="122.0" y1="626.9" x2="280.1" y2="625.3" stroke="#9a9a9a" stroke-opacity="0.3" stroke-width="0.45"/>
<line x1="122.2" y1="632.5" x2="279.9" y2="620.1" stroke="#9a9a9a" stroke-opacity="0.3" stroke-width="0.45"/>
<line x1="121.8" y1="623.1" x2="280.1" y2="625.4" stroke="#9a9a9a" stroke-opacity="0.3" stroke-width="0.45"/>
<line x1="122.0" y1="629.0" x2="280.1" y2="623.6" stroke="#9a9a9a" stroke-opacity="0.3" stroke-width="0.45"/>
<line x1="121.8" y1="622.3" x2="279.9" y2="618.5" stroke="#9a9a9a" stroke-opacity="0.3" stroke-width="0.45"/>
<line x1="122.1" y1="630.6" x2="280.0" y2="621.4" stroke="#9a9a9a" stroke-opacity="0.3" stroke-width="0.45"/>
<line x1="121.8" y1="622.0" x2="280.1" y2="625.5" stroke="#9a9a9a" stroke-opacity="0.3" stroke-width="0.45"/>
<line x1="122.1" y1="629.9" x2="280.1" y2="624.4" stroke="#9a9a9a" stroke-opacity="0.3" stroke-width="0.45"/>
<line x1="121.8" y1="622.2" x2="280.1" y2="624.8" stroke="#9a9a9a" stroke-opacity="0.3" stroke-width="0.45"/>
<line x1="121.8" y1="621.9" x2="280.1" y2="624.9" stroke="#9a9a9a" stroke-opacity="0.3" stroke-width="0.45"/>
<line x1="122.0" y1="627.4" x2="280.0" y2="620.7" stroke="#9a9a9a" stroke-opacity="0.3" stroke-width="0.45"/>
<line x1="122.0" y1="628.7" x2="280.1" y2="625.4" stroke="#9a9a9a" stroke-opacity="0.3" stroke-width="0.45"/>
<line x1="121.9" y1="624.8" x2="279.9" y2="619.0" stroke="#9a9a9a" stroke-opacity="0.3" stroke-width="0.45"/>
<line x1="122.0" y1="628.4" x2="279.9" y2="619.9" stroke="#9a9a9a" stroke-opacity="0.3" stroke-width="0.45"/>
<line x1="121.8" y1="622.5" x2="279.9" y2="619.3" stroke="#9a9a9a" stroke-opacity="0.3" stroke-width="0.45"/>
<line x1="121.8" y1="621.7" x2="279.9" y2="619.6" stroke="#9a9a9a" stroke-opacity="0.3" stroke-width="0.45"/>
<line x1="121.9" y1="625.4" x2="279.9" y2="620.4" stroke="#9a9a9a" stroke-opacity="0.3" stroke-width="0.45"/>
<line x1="122.1" y1="631.6" x2="279.9" y2="620.3" stroke="#9a9a9a" stroke-opacity="0.3" stroke-width="0.45"/>
<line x1="122.0" y1="628.0" x2="279.9" y2="619.4" stroke="#9a9a9a" stroke-opacity="0.3" stroke-width="0.45"/>
<line x1="121.9" y1="625.9" x2="279.9" y2="618.1" stroke="#9a9a9a" stroke-opacity="0.3" stroke-width="0.45"/>
<line x1="121.9" y1="624.5" x2="279.9" y2="618.1" stroke="#9a9a9a" stroke-opacity="0.3" stroke-width="0.45"/>
<line x1="122.1" y1="631.3" x2="280.0" y2="622.4" stroke="#9a9a9a" stroke-opacity="0.3" stroke-width="0.45"/>
<line x1="121.8" y1="623.7" x2="280.0" y2="621.8" stroke="#9a9a9a" stroke-opacity="0.3" stroke-width="0.45"/>
<line x1="122.2" y1="634.1" x2="279.9" y2="618.9" stroke="#9a9a9a" stroke-opacity="0.3" stroke-width="0.45"/>
<line x1="122.2" y1="632.5" x2="280.0" y2="621.5" stroke="#9a9a9a" stroke-opacity="0.3" stroke-width="0.45"/>
<line x1="122.0" y1="627.9" x2="280.1" y2="624.7" stroke="#9a9a9a" stroke-opacity="0.3" stroke-width="0.45"/>
<line x1="121.9" y1="626.5" x2="280.0" y2="622.1" stroke="#9a9a9a" stroke-opacity="0.3" stroke-width="0.45"/>
<line x1="122.1" y1="630.6" x2="280.1" y2="625.9" stroke="#9a9a9a" stroke-opacity="0.3" stroke-width="0.45"/>
<line x1="358.0" y1="714.8" x2="282.5" y2="619.8" stroke="#9a9a9a" stroke-opacity="0.32" stroke-width="0.5"/>
<line x1="360.3" y1="712.9" x2="281.0" y2="621.1" stroke="#9a9a9a" stroke-opacity="0.32" stroke-width="0.5"/>
<line x1="358.4" y1="714.5" x2="278.8" y2="623.0" stroke="#9a9a9a" stroke-opacity="0.32" stroke-width="0.5"/>
<line x1="356.3" y1="716.3" x2="277.2" y2="624.4" stroke="#9a9a9a" stroke-opacity="0.32" stroke-width="0.5"/>
<line x1="356.4" y1="716.2" x2="281.8" y2="620.4" stroke="#9a9a9a" stroke-opacity="0.32" stroke-width="0.5"/>
<line x1="357.5" y1="715.3" x2="277.4" y2="624.2" stroke="#9a9a9a" stroke-opacity="0.32" stroke-width="0.5"/>
<line x1="356.5" y1="716.2" x2="282.6" y2="619.8" stroke="#9a9a9a" stroke-opacity="0.32" stroke-width="0.5"/>
<line x1="361.2" y1="712.1" x2="281.3" y2="620.9" stroke="#9a9a9a" stroke-opacity="0.32" stroke-width="0.5"/>
<line x1="357.7" y1="715.1" x2="278.0" y2="623.7" stroke="#9a9a9a" stroke-opacity="0.32" stroke-width="0.5"/>
<line x1="357.7" y1="715.1" x2="279.7" y2="622.3" stroke="#9a9a9a" stroke-opacity="0.32" stroke-width="0.5"/>
<line x1="356.9" y1="715.8" x2="279.6" y2="622.4" stroke="#9a9a9a" stroke-opacity="0.32" stroke-width="0.5"/>
<line x1="357.6" y1="715.2" x2="283.5" y2="619.0" stroke="#9a9a9a" stroke-opacity="0.32" stroke-width="0.5"/>
<line x1="400.5" y1="597.2" x2="279.9" y2="621.5" stroke="#9a9a9a" stroke-opacity="0.22" stroke-width="0.5"/>
<line x1="401.3" y1="601.5" x2="279.2" y2="617.4" stroke="#9a9a9a" stroke-opacity="0.22" stroke-width="0.5"/>
<line x1="401.2" y1="601.1" x2="280.3" y2="623.4" stroke="#9a9a9a" stroke-opacity="0.22" stroke-width="0.5"/>
<line x1="401.5" y1="602.9" x2="280.2" y2="623.2" stroke="#9a9a9a" stroke-opacity="0.22" stroke-width="0.5"/>
<line x1="401.0" y1="600.1" x2="280.0" y2="622.0" stroke="#9a9a9a" stroke-opacity="0.22" stroke-width="0.5"/>
<line x1="401.3" y1="601.8" x2="280.0" y2="622.0" stroke="#9a9a9a" stroke-opacity="0.22" stroke-width="0.5"/>
<line x1="374.3" y1="469.5" x2="282.0" y2="623.2" stroke="#9a9a9a" stroke-opacity="0.15" stroke-width="0.5"/>
<line x1="373.5" y1="469.1" x2="280.9" y2="622.5" stroke="#9a9a9a" stroke-opacity="0.15" stroke-width="0.5"/>
<line x1="374.0" y1="469.3" x2="284.1" y2="624.4" stroke="#9a9a9a" stroke-opacity="0.15" stroke-width="0.5"/>
<line x1="371.7" y1="468.0" x2="282.3" y2="623.3" stroke="#9a9a9a" stroke-opacity="0.15" stroke-width="0.5"/>
<line x1="369.3" y1="466.6" x2="279.7" y2="621.9" stroke="#9a9a9a" stroke-opacity="0.15" stroke-width="0.5"/>
<line x1="197.7" y1="466.3" x2="116.3" y2="625.1" stroke="#9a9a9a" stroke-opacity="0.2" stroke-width="0.5"/>
<line x1="197.8" y1="466.4" x2="113.9" y2="623.9" stroke="#9a9a9a" stroke-opacity="0.2" stroke-width="0.5"/>
<line x1="199.6" y1="467.3" x2="119.9" y2="626.9" stroke="#9a9a9a" stroke-opacity="0.2" stroke-width="0.5"/>
<line x1="196.4" y1="465.7" x2="121.7" y2="627.9" stroke="#9a9a9a" stroke-opacity="0.2" stroke-width="0.5"/>
<line x1="197.8" y1="466.4" x2="116.5" y2="625.2" stroke="#9a9a9a" stroke-opacity="0.2" stroke-width="0.5"/>
<line x1="201.4" y1="468.2" x2="114.4" y2="624.2" stroke="#9a9a9a" stroke-opacity="0.2" stroke-width="0.5"/>
<line x1="104" y1="471" x2="199" y2="466" stroke="#cfcfcf" stroke-width="0.6" stroke-opacity="0.8"/>
<line x1="199" y1="466" x2="290" y2="466" stroke="#cfcfcf" stroke-width="0.6" stroke-opacity="0.8"/>
<line x1="199" y1="466" x2="380" y2="466" stroke="#cfcfcf" stroke-width="0.6" stroke-opacity="0.8"/>
<line x1="104" y1="471" x2="290" y2="466" stroke="#cfcfcf" stroke-width="0.6" stroke-opacity="0.8"/>
<line x1="147" y1="752" x2="330" y2="725" stroke="#cfcfcf" stroke-width="0.6" stroke-opacity="0.8"/>
<line x1="147" y1="752" x2="330" y2="728" stroke="#cfcfcf" stroke-width="0.6" stroke-opacity="0.8"/>
<line x1="193" y1="707" x2="216" y2="735" stroke="#cfcfcf" stroke-width="0.6" stroke-opacity="0.8"/>
<line x1="216" y1="735" x2="248" y2="774" stroke="#cfcfcf" stroke-width="0.6" stroke-opacity="0.8"/>
<line x1="248" y1="774" x2="317" y2="800" stroke="#cfcfcf" stroke-width="0.6" stroke-opacity="0.8"/>
<line x1="317" y1="800" x2="345" y2="750" stroke="#cfcfcf" stroke-width="0.6" stroke-opacity="0.8"/>
<line x1="319" y1="799" x2="342" y2="760" stroke="#cfcfcf" stroke-width="0.6" stroke-opacity="0.8"/>
<line x1="193" y1="707" x2="156" y2="744" stroke="#cfcfcf" stroke-width="0.6" stroke-opacity="0.8"/>
<line x1="194" y1="689" x2="150" y2="660" stroke="#cfcfcf" stroke-width="0.6" stroke-opacity="0.8"/>
<line x1="194" y1="689" x2="235" y2="665" stroke="#cfcfcf" stroke-width="0.6" stroke-opacity="0.8"/>
<line x1="156" y1="744" x2="193" y2="707" stroke="#cfcfcf" stroke-width="0.6" stroke-opacity="0.8"/>
<line x1="392" y1="487" x2="330" y2="560" stroke="#cfcfcf" stroke-width="0.6" stroke-opacity="0.8"/>
<line x1="437" y1="556" x2="460" y2="628" stroke="#cfcfcf" stroke-width="0.6" stroke-opacity="0.8"/>
<line x1="401" y1="600" x2="340" y2="600" stroke="#cfcfcf" stroke-width="0.6" stroke-opacity="0.8"/>
<line x1="415" y1="584" x2="350" y2="590" stroke="#cfcfcf" stroke-width="0.6" stroke-opacity="0.8"/>
<line x1="248" y1="774" x2="225" y2="740" stroke="#cfcfcf" stroke-width="0.6" stroke-opacity="0.8"/>
<line x1="194" y1="689" x2="193" y2="707" stroke="#cfcfcf" stroke-width="0.6" stroke-opacity="0.8"/>
<line x1="330" y1="560" x2="405" y2="520" stroke="#cfcfcf" stroke-width="0.6" stroke-opacity="0.8"/>
<line x1="292" y1="490" x2="340" y2="500" stroke="#cfcfcf" stroke-width="0.6" stroke-opacity="0.8"/>
</g>
<circle cx="334.2" cy="614.9" r="0.67" fill="#7a5060"/>
<circle cx="272.4" cy="643.6" r="0.97" fill="#8a5e6c"/>
<circle cx="285.8" cy="650.8" r="0.66" fill="#6e4856"/>
<circle cx="327.2" cy="627.9" r="0.97" fill="#8a5a68"/>
<circle cx="322.1" cy="616.6" r="0.83" fill="#8a5e6c"/>
<circle cx="325.1" cy="601.1" r="0.80" fill="#8a5e6c"/>
<circle cx="314.0" cy="610.4" r="1.00" fill="#6e4856"/>
<circle cx="262.8" cy="619.1" r="0.66" fill="#8a5e6c"/>
<circle cx="303.0" cy="659.4" r="0.79" fill="#8a5a68"/>
<circle cx="276.0" cy="609.2" r="1.01" fill="#74505c"/>
<circle cx="281.2" cy="581.1" r="0.96" fill="#8a5a68"/>
<circle cx="255.0" cy="667.0" r="1.03" fill="#6e4856"/>
<circle cx="317.3" cy="619.3" r="0.95" fill="#8a5a68"/>
<circle cx="286.0" cy="654.2" r="0.85" fill="#8a5a68"/>
<circle cx="301.0" cy="602.3" r="1.00" fill="#74505c"/>
<circle cx="260.0" cy="662.0" r="0.87" fill="#74505c"/>
<circle cx="261.8" cy="630.0" r="0.78" fill="#6e4856"/>
<circle cx="314.9" cy="600.8" r="0.96" fill="#74505c"/>
<circle cx="267.6" cy="673.1" r="0.93" fill="#8a5a68"/>
<circle cx="252.1" cy="614.6" r="0.90" fill="#74505c"/>
<circle cx="277.1" cy="648.9" r="0.85" fill="#8a5a68"/>
<circle cx="319.7" cy="598.4" r="0.79" fill="#7a5060"/>
<circle cx="304.8" cy="616.1" r="0.95" fill="#7a5060"/>
<circle cx="275.8" cy="623.1" r="0.89" fill="#7a5060"/>
<circle cx="286.5" cy="609.7" r="0.76" fill="#6e4856"/>
<circle cx="297.9" cy="623.8" r="1.01" fill="#7a5060"/>
<circle cx="315.0" cy="638.4" r="0.75" fill="#7a5060"/>
<circle cx="329.6" cy="652.1" r="0.66" fill="#7a5060"/>
<circle cx="273.1" cy="640.7" r="1.02" fill="#6e4856"/>
<circle cx="283.8" cy="627.7" r="0.89" fill="#6e4856"/>
<circle cx="291.7" cy="635.7" r="0.79" fill="#8a5a68"/>
<circle cx="255.1" cy="597.2" r="0.76" fill="#74505c"/>
<circle cx="319.9" cy="634.4" r="0.96" fill="#7a5060"/>
<circle cx="322.5" cy="603.2" r="0.99" fill="#6e4856"/>
<circle cx="261.9" cy="632.0" r="0.91" fill="#8a5e6c"/>
<circle cx="290.2" cy="621.5" r="0.97" fill="#6e4856"/>
<circle cx="240.8" cy="623.0" r="0.84" fill="#8a5e6c"/>
<circle cx="317.2" cy="666.1" r="0.75" fill="#8a5a68"/>
<circle cx="326.9" cy="620.7" r="0.93" fill="#6e4856"/>
<circle cx="273.6" cy="606.1" r="0.70" fill="#6e4856"/>
<circle cx="319.8" cy="650.4" r="0.85" fill="#7a5060"/>
<circle cx="310.8" cy="627.2" r="0.83" fill="#8a5e6c"/>
<circle cx="307.5" cy="639.4" r="0.97" fill="#8a5a68"/>
<circle cx="279.4" cy="603.7" r="0.82" fill="#8a5a68"/>
<circle cx="286.1" cy="608.8" r="0.80" fill="#6e4856"/>
<circle cx="319.6" cy="655.1" r="0.75" fill="#7a5060"/>
<circle cx="330.3" cy="633.3" r="0.69" fill="#7a5060"/>
<circle cx="251.2" cy="623.6" r="0.77" fill="#74505c"/>
<circle cx="297.5" cy="673.8" r="1.04" fill="#74505c"/>
<circle cx="279.3" cy="631.3" r="0.89" fill="#74505c"/>
<circle cx="321.4" cy="611.7" r="1.02" fill="#74505c"/>
<circle cx="261.3" cy="654.6" r="1.02" fill="#8a5a68"/>
<circle cx="257.4" cy="658.6" r="1.02" fill="#8a5e6c"/>
<circle cx="328.3" cy="632.9" r="0.69" fill="#8a5e6c"/>
<circle cx="300.4" cy="669.3" r="0.98" fill="#74505c"/>
<circle cx="324.2" cy="642.5" r="0.84" fill="#8a5a68"/>
<circle cx="283.2" cy="625.6" r="0.66" fill="#8a5e6c"/>
<circle cx="299.1" cy="622.6" r="0.95" fill="#6e4856"/>
<circle cx="309.5" cy="648.1" r="0.94" fill="#6e4856"/>
<circle cx="286.7" cy="596.9" r="0.70" fill="#7a5060"/>
<circle cx="315.0" cy="655.1" r="0.78" fill="#74505c"/>
<circle cx="327.5" cy="617.7" r="0.66" fill="#74505c"/>
<circle cx="293.5" cy="586.5" r="0.85" fill="#8a5e6c"/>
<circle cx="304.7" cy="623.3" r="0.80" fill="#74505c"/>
<circle cx="250.9" cy="622.4" r="1.03" fill="#74505c"/>
<circle cx="328.9" cy="609.3" r="0.77" fill="#6e4856"/>
<circle cx="308.1" cy="659.8" r="0.87" fill="#7a5060"/>
<circle cx="246.0" cy="605.0" r="0.69" fill="#8a5e6c"/>
<circle cx="303.0" cy="660.7" r="0.97" fill="#7a5060"/>
<circle cx="300.8" cy="582.9" r="0.92" fill="#7a5060"/>
<circle cx="305.4" cy="647.5" r="0.74" fill="#8a5e6c"/>
<circle cx="251.4" cy="641.4" r="0.69" fill="#8a5a68"/>
<circle cx="336.5" cy="623.9" r="0.82" fill="#8a5e6c"/>
<circle cx="242.7" cy="623.7" r="0.75" fill="#6e4856"/>
<circle cx="244.1" cy="638.1" r="0.81" fill="#8a5e6c"/>
<circle cx="294.0" cy="591.3" r="0.71" fill="#74505c"/>
<circle cx="277.0" cy="584.3" r="0.80" fill="#6e4856"/>
<circle cx="276.7" cy="635.1" r="0.76" fill="#8a5e6c"/>
<circle cx="273.7" cy="581.6" r="0.93" fill="#74505c"/>
<circle cx="261.7" cy="656.2" r="0.94" fill="#7a5060"/>
<circle cx="289.5" cy="582.4" r="0.74" fill="#8a5a68"/>
<circle cx="303.7" cy="669.4" r="0.80" fill="#7a5060"/>
<circle cx="271.6" cy="661.1" r="1.01" fill="#74505c"/>
<circle cx="258.7" cy="591.8" r="0.66" fill="#6e4856"/>
<circle cx="280.8" cy="589.8" r="1.01" fill="#7a5060"/>
<circle cx="256.4" cy="651.6" r="0.97" fill="#8a5e6c"/>
<circle cx="284.6" cy="590.1" r="0.73" fill="#8a5a68"/>
<circle cx="312.1" cy="657.5" r="0.82" fill="#8a5e6c"/>
<circle cx="264.6" cy="626.3" r="0.94" fill="#7a5060"/>
<circle cx="257.1" cy="666.1" r="0.86" fill="#7a5060"/>
<circle cx="287.1" cy="593.5" r="0.92" fill="#8a5e6c"/>
<circle cx="239.3" cy="639.7" r="0.83" fill="#7a5060"/>
<circle cx="263.0" cy="608.9" r="0.95" fill="#74505c"/>
<circle cx="284.6" cy="667.1" r="0.98" fill="#6e4856"/>
<circle cx="320.3" cy="639.7" r="1.05" fill="#8a5e6c"/>
<circle cx="301.3" cy="649.8" r="0.84" fill="#7a5060"/>
<circle cx="260.8" cy="655.0" r="0.80" fill="#74505c"/>
<circle cx="298.0" cy="667.1" r="0.85" fill="#6e4856"/>
<circle cx="248.4" cy="631.7" r="1.02" fill="#7a5060"/>
<circle cx="284.6" cy="655.7" r="0.78" fill="#8a5e6c"/>
<circle cx="267.6" cy="602.5" r="0.99" fill="#7a5060"/>
<circle cx="262.4" cy="626.8" r="0.89" fill="#6e4856"/>
<circle cx="298.1" cy="590.5" r="0.77" fill="#6e4856"/>
<circle cx="322.7" cy="616.4" r="0.86" fill="#7a5060"/>
<circle cx="302.6" cy="623.7" r="0.98" fill="#74505c"/>
<circle cx="300.8" cy="610.1" r="0.79" fill="#8a5e6c"/>
<circle cx="265.7" cy="633.3" r="0.83" fill="#8a5e6c"/>
<circle cx="267.7" cy="632.4" r="0.94" fill="#6e4856"/>
<circle cx="312.6" cy="615.9" r="0.69" fill="#6e4856"/>
<circle cx="242.2" cy="636.3" r="0.99" fill="#6e4856"/>
<circle cx="257.6" cy="662.7" r="0.74" fill="#8a5a68"/>
<circle cx="264.1" cy="604.8" r="0.98" fill="#8a5e6c"/>
<circle cx="277.6" cy="669.2" r="0.89" fill="#8a5a68"/>
<circle cx="267.5" cy="583.2" r="0.95" fill="#8a5e6c"/>
<circle cx="245.7" cy="620.1" r="0.68" fill="#8a5e6c"/>
<circle cx="269.0" cy="640.7" r="1.03" fill="#8a5e6c"/>
<circle cx="271.8" cy="633.3" r="1.02" fill="#8a5e6c"/>
<circle cx="303.8" cy="623.7" r="0.66" fill="#8a5e6c"/>
<circle cx="293.1" cy="639.9" r="1.00" fill="#74505c"/>
<circle cx="315.1" cy="629.5" r="0.98" fill="#8a5a68"/>
<circle cx="264.8" cy="644.8" r="0.91" fill="#6e4856"/>
<circle cx="271.3" cy="645.2" r="0.85" fill="#6e4856"/>
<circle cx="292.3" cy="600.2" r="0.71" fill="#8a5e6c"/>
<circle cx="286.0" cy="657.0" r="0.75" fill="#6e4856"/>
<circle cx="284.5" cy="617.4" r="1.03" fill="#8a5a68"/>
<circle cx="304.1" cy="635.1" r="0.99" fill="#74505c"/>
<circle cx="260.8" cy="637.0" r="0.78" fill="#8a5a68"/>
<circle cx="302.9" cy="604.2" r="0.96" fill="#8a5a68"/>
<circle cx="309.7" cy="621.8" r="0.67" fill="#74505c"/>
<circle cx="238.0" cy="630.9" r="0.87" fill="#8a5a68"/>
<circle cx="253.7" cy="606.2" r="0.87" fill="#74505c"/>
<circle cx="333.1" cy="624.8" r="0.83" fill="#74505c"/>
<circle cx="259.9" cy="649.9" r="1.00" fill="#74505c"/>
<circle cx="304.4" cy="627.5" r="1.02" fill="#8a5a68"/>
<circle cx="298.3" cy="621.0" r="0.77" fill="#7a5060"/>
<circle cx="285.2" cy="668.5" r="0.74" fill="#7a5060"/>
<circle cx="311.4" cy="660.3" r="0.69" fill="#74505c"/>
<circle cx="332.5" cy="642.4" r="0.75" fill="#74505c"/>
<circle cx="291.7" cy="634.6" r="0.93" fill="#8a5a68"/>
<circle cx="307.4" cy="636.2" r="1.02" fill="#8a5a68"/>
<circle cx="266.4" cy="658.7" r="0.75" fill="#8a5e6c"/>
<circle cx="267.3" cy="628.9" r="0.70" fill="#7a5060"/>
<circle cx="241.0" cy="637.3" r="0.90" fill="#74505c"/>
<circle cx="264.5" cy="662.1" r="0.81" fill="#8a5a68"/>
<circle cx="236.7" cy="625.9" r="0.72" fill="#7a5060"/>
<circle cx="296.0" cy="611.3" r="1.03" fill="#6e4856"/>
<circle cx="265.9" cy="646.8" r="0.82" fill="#74505c"/>
<circle cx="305.7" cy="648.3" r="0.77" fill="#7a5060"/>
<circle cx="253.3" cy="615.0" r="0.76" fill="#74505c"/>
<circle cx="310.6" cy="626.1" r="0.93" fill="#8a5a68"/>
<circle cx="281.1" cy="620.7" r="0.87" fill="#6e4856"/>
<circle cx="293.6" cy="658.1" r="0.67" fill="#6e4856"/>
<circle cx="254.7" cy="597.8" r="0.93" fill="#74505c"/>
<circle cx="243.2" cy="617.5" r="0.99" fill="#6e4856"/>
<circle cx="306.4" cy="595.1" r="0.67" fill="#6e4856"/>
<circle cx="305.3" cy="627.7" r="0.93" fill="#6e4856"/>
<circle cx="287.3" cy="613.0" r="0.92" fill="#74505c"/>
<circle cx="251.3" cy="592.7" r="0.71" fill="#8a5e6c"/>
<circle cx="277.8" cy="603.2" r="1.01" fill="#8a5a68"/>
<circle cx="330.5" cy="647.3" r="0.92" fill="#7a5060"/>
<circle cx="245.8" cy="639.1" r="0.70" fill="#8a5e6c"/>
<circle cx="292.1" cy="625.9" r="0.82" fill="#8a5e6c"/>
<circle cx="254.7" cy="620.7" r="0.86" fill="#6e4856"/>
<circle cx="269.3" cy="635.6" r="0.72" fill="#74505c"/>
<circle cx="321.1" cy="592.8" r="0.80" fill="#8a5a68"/>
<circle cx="285.4" cy="649.6" r="0.84" fill="#6e4856"/>
<circle cx="287.6" cy="582.4" r="0.79" fill="#7a5060"/>
<circle cx="305.2" cy="661.8" r="0.99" fill="#6e4856"/>
<circle cx="290.8" cy="588.2" r="0.88" fill="#6e4856"/>
<circle cx="274.2" cy="603.0" r="0.73" fill="#8a5e6c"/>
<circle cx="323.3" cy="653.4" r="0.66" fill="#8a5e6c"/>
<circle cx="321.1" cy="641.0" r="0.97" fill="#8a5e6c"/>
<circle cx="292.1" cy="616.1" r="0.84" fill="#7a5060"/>
<circle cx="278.1" cy="664.7" r="0.73" fill="#6e4856"/>
<circle cx="261.3" cy="609.1" r="0.68" fill="#8a5a68"/>
<circle cx="260.3" cy="636.5" r="0.68" fill="#74505c"/>
<circle cx="301.5" cy="583.0" r="0.71" fill="#8a5e6c"/>
<circle cx="313.8" cy="590.8" r="0.74" fill="#8a5a68"/>
<circle cx="272.2" cy="583.7" r="0.89" fill="#74505c"/>
<circle cx="261.3" cy="624.4" r="0.74" fill="#7a5060"/>
<circle cx="284.1" cy="652.7" r="1.03" fill="#74505c"/>
<circle cx="294.0" cy="612.7" r="0.83" fill="#74505c"/>
<circle cx="254.7" cy="632.8" r="0.74" fill="#6e4856"/>
<circle cx="321.1" cy="640.1" r="1.00" fill="#8a5a68"/>
<circle cx="325.9" cy="614.4" r="0.67" fill="#74505c"/>
<circle cx="255.9" cy="648.6" r="0.69" fill="#8a5a68"/>
<circle cx="253.8" cy="664.8" r="0.85" fill="#7a5060"/>
<circle cx="273.6" cy="587.3" r="0.74" fill="#7a5060"/>
<circle cx="296.3" cy="629.9" r="0.91" fill="#6e4856"/>
<circle cx="269.6" cy="660.7" r="0.90" fill="#8a5e6c"/>
<circle cx="301.4" cy="622.4" r="0.87" fill="#7a5060"/>
<circle cx="277.7" cy="611.5" r="0.93" fill="#7a5060"/>
<circle cx="270.5" cy="665.4" r="0.84" fill="#8a5a68"/>
<circle cx="267.6" cy="650.8" r="1.02" fill="#8a5a68"/>
<circle cx="260.5" cy="657.8" r="0.79" fill="#8a5e6c"/>
<circle cx="302.5" cy="583.9" r="0.85" fill="#6e4856"/>
<circle cx="315.7" cy="632.6" r="0.99" fill="#7a5060"/>
<circle cx="256.3" cy="667.6" r="0.86" fill="#7a5060"/>
<circle cx="295.2" cy="617.6" r="0.87" fill="#8a5a68"/>
<circle cx="290.2" cy="595.9" r="0.75" fill="#6e4856"/>
<circle cx="291.7" cy="637.0" r="0.89" fill="#8a5e6c"/>
<circle cx="273.0" cy="604.2" r="1.01" fill="#7a5060"/>
<circle cx="324.0" cy="620.6" r="1.02" fill="#6e4856"/>
<circle cx="245.8" cy="655.1" r="0.69" fill="#8a5a68"/>
<circle cx="307.6" cy="615.3" r="0.87" fill="#7a5060"/>
<circle cx="318.8" cy="629.2" r="0.85" fill="#8a5e6c"/>
<circle cx="264.9" cy="616.5" r="0.86" fill="#8a5a68"/>
<circle cx="315.6" cy="612.6" r="0.96" fill="#6e4856"/>
<circle cx="254.7" cy="642.9" r="0.80" fill="#8a5a68"/>
<circle cx="305.1" cy="668.8" r="1.03" fill="#8a5a68"/>
<circle cx="329.9" cy="614.6" r="0.91" fill="#6e4856"/>
<circle cx="234.8" cy="629.4" r="0.99" fill="#6e4856"/>
<circle cx="328.8" cy="634.0" r="1.04" fill="#74505c"/>
<circle cx="262.7" cy="617.5" r="0.83" fill="#74505c"/>
<circle cx="298.9" cy="658.2" r="0.96" fill="#8a5e6c"/>
<circle cx="286.2" cy="579.7" r="0.98" fill="#8a5a68"/>
<circle cx="303.3" cy="600.3" r="1.02" fill="#7a5060"/>
<circle cx="323.6" cy="621.7" r="0.88" fill="#8a5e6c"/>
<circle cx="286.8" cy="669.8" r="0.80" fill="#8a5a68"/>
<circle cx="245.3" cy="637.6" r="0.87" fill="#8a5a68"/>
<circle cx="300.9" cy="650.4" r="1.02" fill="#8a5e6c"/>
<circle cx="253.9" cy="645.0" r="1.01" fill="#74505c"/>
<circle cx="315.5" cy="653.7" r="0.90" fill="#74505c"/>
<circle cx="323.4" cy="650.9" r="0.98" fill="#74505c"/>
<circle cx="252.4" cy="599.1" r="0.93" fill="#8a5e6c"/>
<circle cx="318.9" cy="608.9" r="0.72" fill="#6e4856"/>
<circle cx="264.8" cy="593.7" r="0.81" fill="#74505c"/>
<circle cx="274.7" cy="587.4" r="0.72" fill="#8a5e6c"/>
<circle cx="319.1" cy="608.3" r="0.81" fill="#8a5e6c"/>
<circle cx="265.8" cy="592.5" r="0.81" fill="#7a5060"/>
<circle cx="290.5" cy="643.2" r="0.65" fill="#8a5e6c"/>
<circle cx="273.2" cy="653.0" r="0.81" fill="#8a5e6c"/>
<circle cx="293.7" cy="592.8" r="0.84" fill="#8a5a68"/>
<circle cx="316.0" cy="611.9" r="0.69" fill="#7a5060"/>
<circle cx="270.1" cy="650.6" r="0.71" fill="#7a5060"/>
<circle cx="318.7" cy="629.9" r="0.91" fill="#8a5a68"/>
<circle cx="333.4" cy="619.5" r="0.91" fill="#8a5a68"/>
<circle cx="298.7" cy="668.8" r="0.78" fill="#8a5e6c"/>
<circle cx="270.6" cy="670.6" r="0.88" fill="#74505c"/>
<circle cx="259.4" cy="633.6" r="0.85" fill="#8a5a68"/>
<circle cx="265.2" cy="650.1" r="0.80" fill="#6e4856"/>
<circle cx="315.8" cy="605.7" r="0.91" fill="#8a5a68"/>
<circle cx="292.2" cy="665.4" r="0.75" fill="#8a5e6c"/>
<circle cx="254.6" cy="609.5" r="0.71" fill="#74505c"/>
<circle cx="290.8" cy="585.7" r="0.91" fill="#6e4856"/>
<circle cx="280.1" cy="589.8" r="0.72" fill="#74505c"/>
<circle cx="251.7" cy="598.8" r="0.70" fill="#6e4856"/>
<circle cx="310.0" cy="627.0" r="0.90" fill="#74505c"/>
<circle cx="290.1" cy="606.4" r="0.72" fill="#74505c"/>
<circle cx="280.4" cy="623.1" r="0.79" fill="#7a5060"/>
<circle cx="272.9" cy="663.2" r="0.84" fill="#7a5060"/>
<circle cx="317.1" cy="643.5" r="0.71" fill="#74505c"/>
<circle cx="320.9" cy="606.8" r="0.76" fill="#74505c"/>
<circle cx="238.2" cy="616.9" r="1.01" fill="#8a5e6c"/>
<circle cx="284.1" cy="636.0" r="1.01" fill="#6e4856"/>
<circle cx="329.4" cy="650.2" r="0.72" fill="#8a5e6c"/>
<circle cx="263.7" cy="632.9" r="0.67" fill="#8a5e6c"/>
<circle cx="273.5" cy="631.1" r="1.04" fill="#8a5a68"/>
<circle cx="269.1" cy="650.1" r="0.93" fill="#7a5060"/>
<circle cx="297.9" cy="612.2" r="1.02" fill="#7a5060"/>
<circle cx="274.1" cy="651.2" r="0.80" fill="#7a5060"/>
<circle cx="236.6" cy="626.6" r="1.04" fill="#8a5a68"/>
<circle cx="298.3" cy="641.5" r="0.82" fill="#6e4856"/>
<circle cx="269.4" cy="668.1" r="0.95" fill="#8a5e6c"/>
<circle cx="257.9" cy="595.9" r="0.99" fill="#7a5060"/>
<circle cx="314.9" cy="660.2" r="1.04" fill="#8a5e6c"/>
<circle cx="258.2" cy="631.3" r="0.68" fill="#6e4856"/>
<circle cx="303.0" cy="624.0" r="0.98" fill="#6e4856"/>
<circle cx="257.6" cy="664.4" r="0.71" fill="#8a5e6c"/>
<circle cx="292.9" cy="587.8" r="1.02" fill="#6e4856"/>
<circle cx="328.0" cy="653.4" r="0.88" fill="#6e4856"/>
<circle cx="303.4" cy="581.7" r="1.00" fill="#74505c"/>
<circle cx="296.3" cy="666.6" r="0.66" fill="#8a5e6c"/>
<circle cx="253.2" cy="643.0" r="0.87" fill="#6e4856"/>
<circle cx="268.6" cy="625.1" r="1.00" fill="#6e4856"/>
<circle cx="273.4" cy="600.1" r="0.82" fill="#6e4856"/>
<circle cx="259.0" cy="599.1" r="0.93" fill="#7a5060"/>
<circle cx="326.3" cy="651.3" r="0.94" fill="#6e4856"/>
<circle cx="302.1" cy="674.5" r="0.92" fill="#7a5060"/>
<circle cx="257.9" cy="621.6" r="0.85" fill="#6e4856"/>
<circle cx="267.5" cy="591.5" r="0.83" fill="#8a5e6c"/>
<circle cx="289.4" cy="656.9" r="0.81" fill="#8a5a68"/>
<circle cx="320.4" cy="657.9" r="0.79" fill="#6e4856"/>
<circle cx="273.1" cy="648.1" r="0.71" fill="#6e4856"/>
<circle cx="328.8" cy="609.4" r="0.72" fill="#6e4856"/>
<circle cx="327.3" cy="626.3" r="0.96" fill="#74505c"/>
<circle cx="319.4" cy="629.5" r="0.93" fill="#7a5060"/>
<circle cx="286.8" cy="630.0" r="0.97" fill="#74505c"/>
<circle cx="305.8" cy="586.6" r="0.72" fill="#8a5e6c"/>
<circle cx="300.3" cy="593.3" r="1.04" fill="#8a5e6c"/>
<circle cx="274.0" cy="657.8" r="0.84" fill="#74505c"/>
<circle cx="291.3" cy="579.1" r="0.72" fill="#74505c"/>
<circle cx="275.2" cy="664.1" r="0.86" fill="#8a5a68"/>
<circle cx="271.8" cy="594.3" r="0.88" fill="#8a5e6c"/>
<circle cx="329.5" cy="607.5" r="0.83" fill="#7a5060"/>
<circle cx="323.0" cy="599.5" r="0.87" fill="#8a5a68"/>
<circle cx="272.9" cy="612.9" r="0.74" fill="#7a5060"/>
<circle cx="281.1" cy="579.1" r="0.82" fill="#8a5a68"/>
<circle cx="314.1" cy="605.4" r="1.01" fill="#6e4856"/>
<circle cx="305.0" cy="607.5" r="0.83" fill="#8a5a68"/>
<circle cx="312.3" cy="644.6" r="0.72" fill="#8a5a68"/>
<circle cx="323.2" cy="637.8" r="1.01" fill="#8a5a68"/>
<circle cx="288.3" cy="604.2" r="0.71" fill="#74505c"/>
<circle cx="298.6" cy="582.7" r="1.02" fill="#8a5a68"/>
<circle cx="310.5" cy="625.5" r="1.01" fill="#8a5a68"/>
<circle cx="281.4" cy="652.9" r="0.66" fill="#8a5a68"/>
<circle cx="321.6" cy="619.0" r="0.94" fill="#7a5060"/>
<circle cx="290.7" cy="606.6" r="0.78" fill="#8a5e6c"/>
<circle cx="280.6" cy="581.2" r="0.67" fill="#8a5e6c"/>
<circle cx="290.5" cy="637.9" r="0.80" fill="#74505c"/>
<circle cx="282.7" cy="662.9" r="0.75" fill="#8a5e6c"/>
<circle cx="327.5" cy="630.8" r="0.72" fill="#74505c"/>
<circle cx="314.4" cy="658.9" r="0.77" fill="#6e4856"/>
<circle cx="287.0" cy="616.5" r="1.01" fill="#7a5060"/>
<circle cx="324.5" cy="620.4" r="0.66" fill="#8a5e6c"/>
<circle cx="295.5" cy="667.8" r="0.88" fill="#8a5a68"/>
<circle cx="236.6" cy="635.2" r="1.01" fill="#8a5a68"/>
<circle cx="274.8" cy="601.7" r="0.99" fill="#7a5060"/>
<circle cx="298.1" cy="668.4" r="0.99" fill="#8a5a68"/>
<circle cx="294.5" cy="629.6" r="0.75" fill="#7a5060"/>
<circle cx="281.5" cy="622.5" r="0.79" fill="#8a5e6c"/>
<circle cx="318.9" cy="653.0" r="0.92" fill="#6e4856"/>
<circle cx="264.7" cy="640.7" r="1.00" fill="#8a5a68"/>
<circle cx="278.1" cy="592.3" r="0.66" fill="#8a5e6c"/>
<circle cx="317.6" cy="650.7" r="0.67" fill="#6e4856"/>
<circle cx="276.8" cy="609.2" r="1.01" fill="#7a5060"/>
<circle cx="294.7" cy="643.3" r="0.73" fill="#6e4856"/>
<circle cx="277.6" cy="668.4" r="1.00" fill="#6e4856"/>
<circle cx="260.1" cy="600.1" r="1.03" fill="#7a5060"/>
<circle cx="258.7" cy="659.8" r="0.73" fill="#74505c"/>
<circle cx="282.9" cy="642.1" r="0.98" fill="#8a5a68"/>
<circle cx="275.2" cy="656.3" r="0.87" fill="#8a5e6c"/>
<circle cx="296.6" cy="628.0" r="0.77" fill="#7a5060"/>
<circle cx="322.4" cy="627.0" r="0.71" fill="#8a5a68"/>
<circle cx="255.1" cy="666.5" r="0.90" fill="#8a5a68"/>
<circle cx="249.1" cy="645.9" r="0.69" fill="#8a5a68"/>
<circle cx="301.5" cy="663.5" r="1.02" fill="#6e4856"/>
<circle cx="299.5" cy="633.6" r="0.71" fill="#7a5060"/>
<circle cx="299.0" cy="645.6" r="0.80" fill="#6e4856"/>
<circle cx="264.9" cy="637.1" r="0.79" fill="#8a5e6c"/>
<circle cx="262.4" cy="637.5" r="0.75" fill="#8a5e6c"/>
<circle cx="325.1" cy="608.6" r="0.98" fill="#7a5060"/>
<circle cx="306.9" cy="645.8" r="0.97" fill="#8a5a68"/>
<circle cx="287.3" cy="605.6" r="0.99" fill="#7a5060"/>
<circle cx="317.6" cy="633.2" r="0.82" fill="#8a5a68"/>
<circle cx="253.2" cy="644.3" r="0.66" fill="#7a5060"/>
<circle cx="308.9" cy="669.8" r="1.02" fill="#6e4856"/>
<circle cx="324.0" cy="648.3" r="0.86" fill="#8a5a68"/>
<circle cx="300.6" cy="619.0" r="1.04" fill="#6e4856"/>
<circle cx="289.5" cy="601.0" r="0.94" fill="#7a5060"/>
<circle cx="308.6" cy="671.6" r="1.02" fill="#7a5060"/>
<circle cx="324.2" cy="603.2" r="0.83" fill="#7a5060"/>
<circle cx="261.7" cy="598.1" r="0.99" fill="#6e4856"/>
<circle cx="298.3" cy="602.0" r="0.68" fill="#8a5e6c"/>
<circle cx="296.4" cy="580.1" r="0.70" fill="#6e4856"/>
<circle cx="330.2" cy="652.9" r="0.76" fill="#74505c"/>
<circle cx="312.9" cy="626.9" r="0.90" fill="#8a5e6c"/>
<circle cx="257.8" cy="654.5" r="0.74" fill="#74505c"/>
<circle cx="252.4" cy="640.2" r="0.91" fill="#8a5e6c"/>
<circle cx="283.2" cy="616.2" r="0.67" fill="#74505c"/>
<circle cx="279.6" cy="588.1" r="0.93" fill="#6e4856"/>
<circle cx="297.9" cy="598.6" r="0.91" fill="#7a5060"/>
<circle cx="295.1" cy="584.3" r="1.04" fill="#8a5e6c"/>
<circle cx="306.3" cy="646.1" r="0.95" fill="#74505c"/>
<circle cx="330.6" cy="624.4" r="1.00" fill="#6e4856"/>
<circle cx="304.6" cy="611.4" r="0.70" fill="#7a5060"/>
<circle cx="278.9" cy="668.8" r="0.81" fill="#74505c"/>
<circle cx="278.0" cy="623.6" r="0.92" fill="#7a5060"/>
<circle cx="307.8" cy="636.3" r="0.98" fill="#8a5e6c"/>
<circle cx="240.3" cy="617.2" r="0.71" fill="#8a5e6c"/>
<circle cx="266.1" cy="591.1" r="1.05" fill="#8a5a68"/>
<circle cx="295.8" cy="615.2" r="0.77" fill="#7a5060"/>
<circle cx="255.3" cy="596.1" r="0.67" fill="#6e4856"/>
<circle cx="308.1" cy="619.4" r="0.84" fill="#8a5a68"/>
<circle cx="286.0" cy="594.7" r="0.95" fill="#7a5060"/>
<circle cx="317.9" cy="635.6" r="0.86" fill="#8a5a68"/>
<circle cx="293.0" cy="659.5" r="0.83" fill="#8a5a68"/>
<circle cx="296.3" cy="610.1" r="0.72" fill="#8a5a68"/>
<circle cx="326.9" cy="613.5" r="0.99" fill="#8a5a68"/>
<circle cx="297.5" cy="654.4" r="0.96" fill="#8a5a68"/>
<circle cx="285.0" cy="602.1" r="0.97" fill="#8a5e6c"/>
<circle cx="325.3" cy="622.3" r="0.90" fill="#7a5060"/>
<circle cx="268.5" cy="620.2" r="1.02" fill="#8a5e6c"/>
<circle cx="282.5" cy="616.9" r="0.97" fill="#6e4856"/>
<circle cx="294.0" cy="620.2" r="0.79" fill="#7a5060"/>
<circle cx="291.1" cy="593.8" r="0.89" fill="#7a5060"/>
<circle cx="258.4" cy="610.2" r="0.78" fill="#8a5a68"/>
<circle cx="269.4" cy="626.4" r="0.99" fill="#8a5e6c"/>
<circle cx="262.1" cy="663.2" r="0.92" fill="#74505c"/>
<circle cx="282.8" cy="605.4" r="0.87" fill="#8a5a68"/>
<circle cx="311.9" cy="593.1" r="0.95" fill="#7a5060"/>
<circle cx="257.8" cy="645.6" r="0.90" fill="#8a5a68"/>
<circle cx="277.3" cy="670.3" r="1.03" fill="#8a5e6c"/>
<circle cx="336.5" cy="636.6" r="0.89" fill="#8a5e6c"/>
<circle cx="296.6" cy="675.1" r="0.69" fill="#8a5a68"/>
<circle cx="256.0" cy="665.7" r="0.79" fill="#7a5060"/>
<circle cx="261.8" cy="663.1" r="0.72" fill="#6e4856"/>
<circle cx="284.6" cy="662.6" r="0.87" fill="#8a5a68"/>
<circle cx="282.6" cy="665.1" r="0.86" fill="#8a5a68"/>
<circle cx="315.9" cy="610.2" r="0.97" fill="#7a5060"/>
<circle cx="245.4" cy="658.2" r="0.86" fill="#7a5060"/>
<circle cx="270.6" cy="659.1" r="1.00" fill="#8a5a68"/>
<circle cx="314.9" cy="643.5" r="0.83" fill="#8a5e6c"/>
<circle cx="330.7" cy="603.9" r="0.84" fill="#8a5a68"/>
<circle cx="248.4" cy="628.6" r="0.90" fill="#6e4856"/>
<circle cx="274.3" cy="619.2" r="0.72" fill="#8a5e6c"/>
<circle cx="279.7" cy="602.0" r="1.04" fill="#7a5060"/>
<circle cx="261.1" cy="591.5" r="0.81" fill="#6e4856"/>
<circle cx="301.4" cy="599.1" r="0.85" fill="#8a5a68"/>
<circle cx="267.0" cy="646.1" r="0.76" fill="#8a5e6c"/>
<circle cx="293.6" cy="628.3" r="0.72" fill="#8a5e6c"/>
<circle cx="245.5" cy="609.6" r="0.93" fill="#74505c"/>
<circle cx="279.5" cy="624.2" r="0.69" fill="#74505c"/>
<circle cx="268.7" cy="602.5" r="0.71" fill="#6e4856"/>
<circle cx="336.3" cy="622.9" r="0.92" fill="#74505c"/>
<circle cx="300.2" cy="602.5" r="0.73" fill="#6e4856"/>
<circle cx="270.7" cy="591.2" r="0.83" fill="#74505c"/>
<circle cx="273.4" cy="585.0" r="1.02" fill="#74505c"/>
<circle cx="246.4" cy="637.6" r="0.98" fill="#8a5e6c"/>
<circle cx="295.1" cy="661.0" r="1.01" fill="#74505c"/>
<circle cx="322.9" cy="634.3" r="1.01" fill="#8a5e6c"/>
<circle cx="296.0" cy="674.5" r="0.90" fill="#7a5060"/>
<circle cx="326.8" cy="650.6" r="1.02" fill="#6e4856"/>
<circle cx="260.7" cy="665.2" r="0.74" fill="#6e4856"/>
<circle cx="288.6" cy="588.8" r="0.69" fill="#8a5e6c"/>
<circle cx="256.6" cy="622.7" r="0.95" fill="#6e4856"/>
<circle cx="289.7" cy="655.0" r="0.84" fill="#74505c"/>
<circle cx="244.9" cy="639.9" r="0.86" fill="#8a5e6c"/>
<circle cx="318.4" cy="615.8" r="0.66" fill="#74505c"/>
<circle cx="292.8" cy="597.4" r="1.02" fill="#6e4856"/>
<circle cx="255.5" cy="607.6" r="0.76" fill="#6e4856"/>
<circle cx="311.0" cy="610.2" r="0.82" fill="#7a5060"/>
<circle cx="302.8" cy="653.4" r="0.98" fill="#8a5a68"/>
<circle cx="317.3" cy="606.3" r="0.74" fill="#8a5a68"/>
<circle cx="251.5" cy="643.0" r="0.97" fill="#6e4856"/>
<circle cx="290.7" cy="600.8" r="0.89" fill="#6e4856"/>
<circle cx="276.8" cy="617.7" r="0.92" fill="#74505c"/>
<circle cx="323.9" cy="629.7" r="1.05" fill="#7a5060"/>
<circle cx="257.5" cy="618.5" r="0.81" fill="#8a5a68"/>
<circle cx="262.4" cy="613.1" r="0.82" fill="#6e4856"/>
<circle cx="250.5" cy="608.6" r="0.92" fill="#8a5a68"/>
<circle cx="291.7" cy="580.9" r="1.01" fill="#74505c"/>
<circle cx="290.7" cy="608.3" r="0.72" fill="#7a5060"/>
<circle cx="257.1" cy="636.1" r="0.68" fill="#7a5060"/>
<circle cx="314.0" cy="646.5" r="1.04" fill="#7a5060"/>
<circle cx="295.6" cy="657.1" r="0.82" fill="#6e4856"/>
<circle cx="302.6" cy="592.0" r="0.74" fill="#6e4856"/>
<circle cx="294.2" cy="616.3" r="1.01" fill="#6e4856"/>
<circle cx="295.1" cy="668.2" r="0.79" fill="#8a5e6c"/>
<circle cx="315.4" cy="610.8" r="0.90" fill="#8a5e6c"/>
<circle cx="240.8" cy="615.7" r="0.66" fill="#8a5a68"/>
<circle cx="309.1" cy="657.5" r="0.74" fill="#6e4856"/>
<circle cx="287.5" cy="659.6" r="0.82" fill="#6e4856"/>
<circle cx="269.8" cy="590.9" r="0.82" fill="#74505c"/>
<circle cx="336.4" cy="627.9" r="0.78" fill="#8a5a68"/>
<circle cx="301.8" cy="639.6" r="0.86" fill="#74505c"/>
<circle cx="277.8" cy="622.8" r="0.81" fill="#74505c"/>
<circle cx="332.7" cy="608.5" r="1.04" fill="#7a5060"/>
<circle cx="316.1" cy="645.4" r="0.93" fill="#6e4856"/>
<circle cx="329.9" cy="622.0" r="0.81" fill="#8a5a68"/>
<circle cx="274.9" cy="650.4" r="0.91" fill="#8a5a68"/>
<circle cx="241.9" cy="639.4" r="0.82" fill="#6e4856"/>
<circle cx="318.2" cy="609.5" r="0.71" fill="#6e4856"/>
<circle cx="275.2" cy="615.9" r="0.67" fill="#7a5060"/>
<circle cx="248.1" cy="654.1" r="0.72" fill="#74505c"/>
<circle cx="288.3" cy="630.3" r="0.81" fill="#8a5a68"/>
<circle cx="312.9" cy="662.9" r="0.77" fill="#6e4856"/>
<circle cx="303.8" cy="640.9" r="0.74" fill="#6e4856"/>
<circle cx="293.7" cy="634.6" r="0.75" fill="#7a5060"/>
<circle cx="237.1" cy="626.7" r="0.92" fill="#6e4856"/>
<circle cx="280.9" cy="636.5" r="0.94" fill="#6e4856"/>
<circle cx="303.1" cy="645.7" r="0.95" fill="#74505c"/>
<circle cx="320.9" cy="638.8" r="0.77" fill="#74505c"/>
<circle cx="276.8" cy="626.9" r="0.98" fill="#6e4856"/>
<circle cx="293.9" cy="632.3" r="0.96" fill="#7a5060"/>
<circle cx="286.8" cy="611.0" r="0.80" fill="#8a5a68"/>
<circle cx="280.5" cy="613.0" r="0.84" fill="#7a5060"/>
<circle cx="326.3" cy="618.9" r="0.86" fill="#6e4856"/>
<circle cx="319.7" cy="633.2" r="1.03" fill="#8a5a68"/>
<circle cx="254.2" cy="640.7" r="0.77" fill="#8a5a68"/>
<circle cx="255.7" cy="603.9" r="1.02" fill="#74505c"/>
<circle cx="281.3" cy="639.9" r="0.66" fill="#74505c"/>
<circle cx="285.5" cy="600.0" r="0.77" fill="#7a5060"/>
<circle cx="299.5" cy="673.7" r="0.79" fill="#8a5e6c"/>
<circle cx="331.5" cy="621.5" r="0.69" fill="#8a5a68"/>
<circle cx="295.3" cy="636.7" r="0.88" fill="#6e4856"/>
<circle cx="334.2" cy="629.9" r="0.76" fill="#6e4856"/>
<circle cx="279.0" cy="598.1" r="0.98" fill="#8a5e6c"/>
<circle cx="251.1" cy="629.0" r="0.72" fill="#8a5a68"/>
<circle cx="329.8" cy="644.4" r="0.81" fill="#8a5e6c"/>
<circle cx="270.7" cy="587.0" r="0.72" fill="#8a5a68"/>
<circle cx="272.0" cy="631.8" r="1.02" fill="#8a5e6c"/>
<circle cx="328.1" cy="605.6" r="0.68" fill="#8a5e6c"/>
<circle cx="248.0" cy="624.9" r="0.92" fill="#8a5e6c"/>
<circle cx="257.0" cy="660.9" r="0.86" fill="#6e4856"/>
<circle cx="261.9" cy="584.7" r="0.93" fill="#8a5a68"/>
<circle cx="300.1" cy="648.9" r="0.76" fill="#7a5060"/>
<circle cx="294.2" cy="612.3" r="0.80" fill="#7a5060"/>
<circle cx="326.5" cy="623.2" r="0.79" fill="#8a5e6c"/>
<circle cx="311.0" cy="621.2" r="0.85" fill="#8a5e6c"/>
<circle cx="275.3" cy="635.9" r="0.97" fill="#74505c"/>
<circle cx="316.1" cy="662.4" r="0.70" fill="#74505c"/>
<circle cx="261.3" cy="619.1" r="0.86" fill="#74505c"/>
<circle cx="303.2" cy="592.5" r="0.95" fill="#7a5060"/>
<circle cx="303.8" cy="614.0" r="0.70" fill="#74505c"/>
<circle cx="300.9" cy="608.1" r="0.94" fill="#6e4856"/>
<circle cx="261.9" cy="600.6" r="0.96" fill="#8a5e6c"/>
<circle cx="246.8" cy="603.3" r="0.73" fill="#74505c"/>
<circle cx="295.6" cy="673.8" r="0.84" fill="#7a5060"/>
<circle cx="292.8" cy="637.1" r="0.75" fill="#8a5a68"/>
<circle cx="297.3" cy="629.2" r="0.79" fill="#8a5e6c"/>
<circle cx="259.5" cy="652.0" r="0.94" fill="#7a5060"/>
<circle cx="261.9" cy="661.4" r="0.79" fill="#8a5e6c"/>
<circle cx="316.1" cy="630.6" r="0.66" fill="#8a5a68"/>
<circle cx="287.3" cy="645.1" r="0.91" fill="#7a5060"/>
<circle cx="272.1" cy="593.6" r="1.03" fill="#8a5e6c"/>
<circle cx="301.8" cy="651.3" r="0.90" fill="#8a5a68"/>
<circle cx="276.9" cy="645.3" r="0.87" fill="#8a5a68"/>
<circle cx="276.5" cy="634.4" r="0.91" fill="#8a5e6c"/>
<circle cx="242.6" cy="627.0" r="0.82" fill="#8a5a68"/>
<circle cx="299.0" cy="589.8" r="0.68" fill="#6e4856"/>
<circle cx="275.0" cy="657.7" r="0.87" fill="#7a5060"/>
<circle cx="288.0" cy="578.8" r="0.75" fill="#74505c"/>
<circle cx="276.2" cy="667.6" r="0.97" fill="#8a5e6c"/>
<circle cx="271.3" cy="672.0" r="0.89" fill="#8a5a68"/>
<circle cx="321.4" cy="654.1" r="0.81" fill="#7a5060"/>
<circle cx="286.3" cy="579.2" r="0.82" fill="#6e4856"/>
<circle cx="263.8" cy="671.7" r="0.98" fill="#8a5e6c"/>
<circle cx="272.9" cy="596.7" r="1.04" fill="#74505c"/>
<circle cx="266.9" cy="660.2" r="0.90" fill="#74505c"/>
<circle cx="288.2" cy="670.6" r="0.73" fill="#8a5a68"/>
<circle cx="238.6" cy="644.1" r="0.90" fill="#8a5a68"/>
<circle cx="299.3" cy="672.7" r="1.05" fill="#6e4856"/>
<circle cx="260.8" cy="646.3" r="0.89" fill="#74505c"/>
<circle cx="324.3" cy="605.1" r="0.81" fill="#8a5e6c"/>
<circle cx="301.6" cy="633.8" r="0.87" fill="#8a5e6c"/>
<circle cx="284.4" cy="633.5" r="0.67" fill="#8a5e6c"/>
<circle cx="332.5" cy="635.3" r="0.77" fill="#74505c"/>
<circle cx="272.3" cy="586.8" r="0.74" fill="#8a5a68"/>
<circle cx="322.4" cy="636.2" r="0.88" fill="#6e4856"/>
<circle cx="302.8" cy="671.0" r="0.87" fill="#7a5060"/>
<circle cx="300.4" cy="621.5" r="0.68" fill="#8a5e6c"/>
<circle cx="261.8" cy="639.0" r="0.73" fill="#8a5a68"/>
<circle cx="284.6" cy="613.6" r="0.70" fill="#6e4856"/>
<circle cx="328.8" cy="631.7" r="0.68" fill="#8a5a68"/>
<circle cx="302.1" cy="663.5" r="0.92" fill="#8a5e6c"/>
<circle cx="255.3" cy="645.3" r="0.88" fill="#8a5e6c"/>
<circle cx="329.9" cy="630.7" r="1.01" fill="#74505c"/>
<circle cx="314.0" cy="603.0" r="0.70" fill="#8a5a68"/>
<circle cx="253.2" cy="651.9" r="0.79" fill="#6e4856"/>
<circle cx="295.9" cy="598.5" r="0.67" fill="#74505c"/>
<circle cx="296.5" cy="657.4" r="0.79" fill="#6e4856"/>
<circle cx="248.9" cy="631.0" r="0.73" fill="#8a5e6c"/>
<circle cx="324.3" cy="617.8" r="0.80" fill="#7a5060"/>
<circle cx="336.3" cy="621.7" r="0.70" fill="#8a5a68"/>
<circle cx="300.4" cy="649.4" r="0.96" fill="#7a5060"/>
<circle cx="261.6" cy="612.7" r="0.84" fill="#8a5e6c"/>
<circle cx="282.7" cy="592.3" r="0.73" fill="#8a5e6c"/>
<circle cx="306.2" cy="619.2" r="0.99" fill="#74505c"/>
<circle cx="281.9" cy="603.3" r="0.86" fill="#8a5a68"/>
<circle cx="270.9" cy="582.4" r="0.67" fill="#8a5e6c"/>
<circle cx="314.0" cy="632.5" r="0.77" fill="#74505c"/>
<circle cx="306.5" cy="593.1" r="0.96" fill="#8a5e6c"/>
<circle cx="295.2" cy="666.2" r="1.04" fill="#6e4856"/>
<circle cx="275.0" cy="665.7" r="0.70" fill="#74505c"/>
<circle cx="249.8" cy="651.7" r="0.94" fill="#8a5a68"/>
<circle cx="262.9" cy="628.6" r="0.94" fill="#8a5a68"/>
<circle cx="325.7" cy="636.7" r="0.92" fill="#8a5a68"/>
<circle cx="287.7" cy="629.7" r="0.73" fill="#6e4856"/>
<circle cx="280.6" cy="627.7" r="0.87" fill="#7a5060"/>
<circle cx="322.8" cy="648.5" r="0.92" fill="#74505c"/>
<circle cx="330.5" cy="606.7" r="0.74" fill="#74505c"/>
<circle cx="326.6" cy="642.3" r="0.74" fill="#74505c"/>
<circle cx="258.2" cy="646.7" r="0.73" fill="#74505c"/>
<circle cx="286.9" cy="579.2" r="0.97" fill="#74505c"/>
<circle cx="318.0" cy="625.3" r="0.73" fill="#7a5060"/>
<circle cx="251.0" cy="620.1" r="1.02" fill="#7a5060"/>
<circle cx="321.8" cy="624.4" r="0.91" fill="#6e4856"/>
<circle cx="321.3" cy="608.0" r="0.79" fill="#7a5060"/>
<circle cx="259.1" cy="621.5" r="0.75" fill="#8a5e6c"/>
<circle cx="318.4" cy="593.0" r="0.75" fill="#8a5a68"/>
<circle cx="238.2" cy="620.5" r="0.84" fill="#6e4856"/>
<circle cx="255.6" cy="596.8" r="0.69" fill="#6e4856"/>
<circle cx="250.2" cy="657.3" r="0.68" fill="#6e4856"/>
<circle cx="313.8" cy="586.5" r="0.89" fill="#8a5e6c"/>
<circle cx="263.9" cy="642.7" r="0.86" fill="#7a5060"/>
<circle cx="304.6" cy="596.5" r="0.96" fill="#6e4856"/>
<circle cx="314.5" cy="617.4" r="0.86" fill="#74505c"/>
<circle cx="244.9" cy="601.9" r="0.70" fill="#8a5e6c"/>
<circle cx="249.5" cy="642.2" r="0.74" fill="#8a5e6c"/>
<circle cx="307.7" cy="672.6" r="0.96" fill="#74505c"/>
<circle cx="264.1" cy="599.3" r="0.91" fill="#7a5060"/>
<circle cx="274.9" cy="660.9" r="0.96" fill="#7a5060"/>
<circle cx="261.4" cy="639.5" r="0.76" fill="#7a5060"/>
<circle cx="265.0" cy="591.9" r="0.76" fill="#8a5a68"/>
<circle cx="237.2" cy="636.3" r="0.89" fill="#74505c"/>
<circle cx="329.2" cy="623.1" r="1.03" fill="#74505c"/>
<circle cx="292.5" cy="611.6" r="0.86" fill="#8a5a68"/>
<circle cx="309.3" cy="610.6" r="0.75" fill="#7a5060"/>
<circle cx="254.1" cy="608.0" r="0.69" fill="#6e4856"/>
<circle cx="313.5" cy="667.9" r="0.71" fill="#74505c"/>
<circle cx="242.9" cy="606.3" r="0.68" fill="#74505c"/>
<circle cx="260.6" cy="670.0" r="0.90" fill="#74505c"/>
<circle cx="303.0" cy="655.3" r="0.93" fill="#8a5e6c"/>
<circle cx="325.9" cy="604.1" r="0.99" fill="#8a5a68"/>
<circle cx="240.1" cy="629.0" r="0.91" fill="#8a5e6c"/>
<circle cx="297.2" cy="595.1" r="0.89" fill="#7a5060"/>
<circle cx="303.5" cy="596.3" r="0.73" fill="#8a5e6c"/>
<circle cx="277.0" cy="602.4" r="0.75" fill="#7a5060"/>
<circle cx="272.4" cy="633.4" r="0.82" fill="#8a5a68"/>
<circle cx="293.2" cy="642.3" r="0.74" fill="#6e4856"/>
<circle cx="246.5" cy="625.9" r="0.83" fill="#8a5a68"/>
<circle cx="282.1" cy="578.8" r="0.79" fill="#8a5a68"/>
<circle cx="298.2" cy="611.0" r="0.78" fill="#8a5e6c"/>
<circle cx="265.6" cy="661.9" r="0.79" fill="#74505c"/>
<circle cx="303.4" cy="665.9" r="0.96" fill="#8a5e6c"/>
<circle cx="332.2" cy="617.7" r="0.73" fill="#8a5a68"/>
<circle cx="280.7" cy="673.3" r="0.74" fill="#8a5a68"/>
<circle cx="311.4" cy="600.2" r="0.92" fill="#74505c"/>
<circle cx="266.4" cy="606.4" r="0.96" fill="#8a5e6c"/>
<circle cx="239.5" cy="617.7" r="0.79" fill="#74505c"/>
<circle cx="294.3" cy="596.7" r="0.96" fill="#7a5060"/>
<circle cx="292.7" cy="606.5" r="0.81" fill="#7a5060"/>
<circle cx="276.3" cy="627.1" r="0.97" fill="#6e4856"/>
<circle cx="264.3" cy="650.5" r="0.89" fill="#74505c"/>
<circle cx="285.8" cy="621.6" r="0.75" fill="#7a5060"/>
<circle cx="320.5" cy="595.0" r="1.02" fill="#6e4856"/>
<circle cx="275.5" cy="585.4" r="0.94" fill="#8a5a68"/>
<circle cx="318.3" cy="662.0" r="0.90" fill="#6e4856"/>
<circle cx="288.2" cy="624.5" r="1.05" fill="#8a5a68"/>
<circle cx="323.5" cy="640.2" r="0.79" fill="#8a5e6c"/>
<circle cx="249.9" cy="597.1" r="1.03" fill="#8a5e6c"/>
<circle cx="251.3" cy="598.5" r="0.88" fill="#8a5a68"/>
<circle cx="261.2" cy="630.7" r="0.78" fill="#8a5a68"/>
<circle cx="300.7" cy="587.8" r="1.01" fill="#6e4856"/>
<circle cx="266.5" cy="593.2" r="0.74" fill="#8a5e6c"/>
<circle cx="296.3" cy="606.3" r="0.80" fill="#74505c"/>
<circle cx="292.0" cy="615.5" r="1.02" fill="#6e4856"/>
<circle cx="326.0" cy="607.9" r="0.81" fill="#6e4856"/>
<circle cx="306.7" cy="601.1" r="0.85" fill="#74505c"/>
<circle cx="327.0" cy="651.0" r="0.72" fill="#8a5e6c"/>
<circle cx="292.2" cy="669.1" r="0.96" fill="#8a5a68"/>
<circle cx="297.6" cy="592.1" r="0.76" fill="#74505c"/>
<circle cx="313.7" cy="614.2" r="0.82" fill="#6e4856"/>
<circle cx="325.2" cy="600.6" r="0.98" fill="#7a5060"/>
<circle cx="292.3" cy="627.6" r="0.77" fill="#7a5060"/>
<circle cx="251.3" cy="629.0" r="0.71" fill="#8a5e6c"/>
<circle cx="294.1" cy="648.8" r="0.78" fill="#6e4856"/>
<circle cx="286.1" cy="649.6" r="0.96" fill="#8a5e6c"/>
<circle cx="308.4" cy="603.6" r="0.86" fill="#74505c"/>
<circle cx="265.8" cy="588.5" r="0.67" fill="#6e4856"/>
<circle cx="278.8" cy="620.7" r="0.80" fill="#74505c"/>
<circle cx="267.0" cy="649.4" r="0.79" fill="#74505c"/>
<circle cx="295.0" cy="590.5" r="0.92" fill="#8a5a68"/>
<circle cx="274.1" cy="654.5" r="0.83" fill="#74505c"/>
<circle cx="296.2" cy="674.8" r="0.77" fill="#8a5e6c"/>
<circle cx="304.9" cy="670.8" r="1.05" fill="#8a5a68"/>
<circle cx="302.7" cy="622.4" r="1.04" fill="#74505c"/>
<circle cx="275.4" cy="645.6" r="1.01" fill="#6e4856"/>
<circle cx="263.4" cy="665.3" r="0.77" fill="#8a5e6c"/>
<circle cx="254.8" cy="622.0" r="0.89" fill="#8a5e6c"/>
<circle cx="262.3" cy="633.7" r="0.69" fill="#8a5a68"/>
<circle cx="301.2" cy="604.3" r="0.88" fill="#7a5060"/>
<circle cx="296.3" cy="674.0" r="0.76" fill="#7a5060"/>
<circle cx="268.4" cy="609.5" r="0.68" fill="#7a5060"/>
<circle cx="289.0" cy="634.6" r="0.70" fill="#74505c"/>
<circle cx="286.6" cy="670.6" r="0.92" fill="#8a5e6c"/>
<circle cx="309.5" cy="597.3" r="0.93" fill="#7a5060"/>
<circle cx="331.9" cy="613.9" r="0.92" fill="#74505c"/>
<circle cx="249.2" cy="660.0" r="0.84" fill="#8a5a68"/>
<circle cx="302.0" cy="626.8" r="0.81" fill="#7a5060"/>
<circle cx="270.3" cy="596.9" r="0.73" fill="#7a5060"/>
<circle cx="279.6" cy="647.5" r="1.04" fill="#8a5a68"/>
<circle cx="259.9" cy="670.4" r="0.79" fill="#8a5a68"/>
<circle cx="285.7" cy="677.2" r="0.88" fill="#8a5a68"/>
<circle cx="256.4" cy="626.6" r="0.82" fill="#74505c"/>
<circle cx="314.0" cy="609.6" r="0.97" fill="#6e4856"/>
<circle cx="310.7" cy="639.6" r="0.89" fill="#8a5e6c"/>
<circle cx="266.2" cy="604.2" r="0.91" fill="#7a5060"/>
<circle cx="323.1" cy="599.7" r="0.79" fill="#8a5a68"/>
<circle cx="291.2" cy="657.1" r="0.98" fill="#74505c"/>
<circle cx="256.5" cy="600.6" r="0.67" fill="#8a5e6c"/>
<circle cx="310.0" cy="641.1" r="0.98" fill="#6e4856"/>
<circle cx="278.2" cy="619.9" r="0.91" fill="#7a5060"/>
<circle cx="290.1" cy="627.7" r="0.86" fill="#8a5e6c"/>
<circle cx="299.4" cy="631.7" r="0.75" fill="#8a5e6c"/>
<circle cx="297.0" cy="674.7" r="0.96" fill="#7a5060"/>
<circle cx="320.7" cy="637.0" r="0.71" fill="#8a5a68"/>
<circle cx="276.9" cy="661.4" r="0.69" fill="#74505c"/>
<circle cx="260.4" cy="662.2" r="0.79" fill="#74505c"/>
<circle cx="284.0" cy="619.5" r="0.69" fill="#6e4856"/>
<circle cx="239.8" cy="630.2" r="0.82" fill="#7a5060"/>
<circle cx="286.1" cy="639.8" r="0.90" fill="#74505c"/>
<circle cx="324.0" cy="613.1" r="0.66" fill="#8a5e6c"/>
<circle cx="266.5" cy="610.3" r="0.75" fill="#7a5060"/>
<circle cx="286.7" cy="670.8" r="0.94" fill="#8a5a68"/>
<circle cx="249.6" cy="601.8" r="0.69" fill="#7a5060"/>
<circle cx="331.4" cy="638.5" r="0.90" fill="#8a5e6c"/>
<circle cx="296.0" cy="613.6" r="0.76" fill="#8a5a68"/>
<circle cx="243.0" cy="613.2" r="1.01" fill="#7a5060"/>
<circle cx="290.9" cy="589.9" r="0.85" fill="#74505c"/>
<circle cx="271.3" cy="607.4" r="0.71" fill="#74505c"/>
<circle cx="287.0" cy="618.1" r="0.95" fill="#8a5a68"/>
<circle cx="308.6" cy="641.5" r="0.70" fill="#8a5e6c"/>
<circle cx="298.4" cy="643.9" r="0.70" fill="#74505c"/>
<circle cx="256.0" cy="608.2" r="0.88" fill="#7a5060"/>
<circle cx="300.3" cy="663.7" r="0.89" fill="#74505c"/>
<circle cx="266.4" cy="623.2" r="0.78" fill="#8a5e6c"/>
<circle cx="295.6" cy="602.6" r="0.98" fill="#74505c"/>
<circle cx="283.8" cy="587.1" r="0.70" fill="#7a5060"/>
<circle cx="318.3" cy="626.2" r="0.85" fill="#74505c"/>
<circle cx="275.9" cy="656.0" r="1.00" fill="#74505c"/>
<circle cx="288.5" cy="598.4" r="0.97" fill="#74505c"/>
<circle cx="327.0" cy="606.6" r="0.90" fill="#74505c"/>
<circle cx="319.1" cy="648.8" r="0.98" fill="#74505c"/>
<circle cx="315.6" cy="599.1" r="1.01" fill="#7a5060"/>
<circle cx="301.5" cy="667.7" r="0.98" fill="#8a5a68"/>
<circle cx="289.1" cy="655.8" r="0.87" fill="#8a5e6c"/>
<circle cx="244.0" cy="604.2" r="0.97" fill="#6e4856"/>
<circle cx="322.7" cy="650.8" r="0.96" fill="#7a5060"/>
<circle cx="281.6" cy="586.0" r="0.90" fill="#7a5060"/>
<circle cx="306.2" cy="598.6" r="1.04" fill="#8a5a68"/>
<circle cx="245.6" cy="651.6" r="0.94" fill="#8a5e6c"/>
<circle cx="258.9" cy="618.8" r="0.84" fill="#74505c"/>
<circle cx="272.5" cy="631.7" r="0.79" fill="#8a5a68"/>
<circle cx="324.3" cy="643.1" r="1.02" fill="#6e4856"/>
<circle cx="301.6" cy="643.8" r="0.96" fill="#7a5060"/>
<circle cx="302.0" cy="639.3" r="0.97" fill="#7a5060"/>
<circle cx="249.4" cy="624.7" r="0.97" fill="#8a5a68"/>
<circle cx="244.2" cy="652.9" r="0.85" fill="#74505c"/>
<circle cx="306.9" cy="617.1" r="0.88" fill="#74505c"/>
<circle cx="320.4" cy="643.5" r="0.74" fill="#74505c"/>
<circle cx="319.3" cy="645.3" r="0.83" fill="#7a5060"/>
<circle cx="323.9" cy="622.0" r="0.92" fill="#8a5e6c"/>
<circle cx="281.8" cy="641.0" r="0.66" fill="#7a5060"/>
<circle cx="290.9" cy="606.8" r="0.75" fill="#8a5e6c"/>
<circle cx="326.2" cy="635.0" r="0.72" fill="#7a5060"/>
<circle cx="279.7" cy="630.6" r="0.83" fill="#7a5060"/>
<circle cx="272.4" cy="650.2" r="1.02" fill="#8a5a68"/>
<circle cx="294.0" cy="645.9" r="0.76" fill="#6e4856"/>
<circle cx="313.9" cy="621.9" r="0.66" fill="#74505c"/>
<circle cx="297.4" cy="636.3" r="0.67" fill="#74505c"/>
<circle cx="262.5" cy="640.3" r="0.68" fill="#8a5e6c"/>
<circle cx="267.5" cy="598.9" r="0.94" fill="#74505c"/>
<circle cx="271.3" cy="628.2" r="0.69" fill="#6e4856"/>
<circle cx="316.8" cy="623.3" r="0.65" fill="#6e4856"/>
<circle cx="241.8" cy="622.6" r="0.90" fill="#74505c"/>
<circle cx="300.5" cy="629.4" r="0.93" fill="#6e4856"/>
<circle cx="273.3" cy="654.9" r="0.72" fill="#74505c"/>
<circle cx="242.0" cy="636.3" r="0.89" fill="#8a5e6c"/>
<circle cx="309.6" cy="669.1" r="0.93" fill="#8a5a68"/>
<circle cx="327.5" cy="631.8" r="0.95" fill="#8a5e6c"/>
<circle cx="297.1" cy="665.7" r="0.66" fill="#8a5e6c"/>
<circle cx="321.9" cy="603.8" r="1.00" fill="#8a5a68"/>
<circle cx="302.8" cy="611.2" r="0.97" fill="#7a5060"/>
<circle cx="301.9" cy="637.4" r="0.96" fill="#7a5060"/>
<circle cx="271.5" cy="662.0" r="0.92" fill="#7a5060"/>
<circle cx="328.4" cy="601.6" r="0.74" fill="#7a5060"/>
<circle cx="285.9" cy="583.4" r="1.02" fill="#74505c"/>
<circle cx="306.5" cy="658.7" r="0.66" fill="#6e4856"/>
<circle cx="279.3" cy="645.2" r="1.02" fill="#8a5e6c"/>
<circle cx="260.5" cy="622.7" r="0.90" fill="#8a5e6c"/>
<circle cx="318.5" cy="594.4" r="1.00" fill="#8a5e6c"/>
<circle cx="264.9" cy="605.2" r="0.95" fill="#8a5e6c"/>
<circle cx="311.5" cy="619.6" r="0.74" fill="#7a5060"/>
<circle cx="309.5" cy="621.0" r="0.90" fill="#7a5060"/>
<circle cx="278.7" cy="672.1" r="0.76" fill="#6e4856"/>
<circle cx="328.5" cy="655.8" r="0.75" fill="#8a5e6c"/>
<circle cx="324.7" cy="617.6" r="0.85" fill="#8a5a68"/>
<circle cx="315.6" cy="623.5" r="0.86" fill="#6e4856"/>
<circle cx="267.8" cy="672.2" r="0.80" fill="#74505c"/>
<circle cx="244.5" cy="609.5" r="0.84" fill="#74505c"/>
<circle cx="273.2" cy="584.1" r="0.87" fill="#7a5060"/>
<circle cx="295.7" cy="649.7" r="0.85" fill="#8a5a68"/>
<circle cx="285.3" cy="640.2" r="0.86" fill="#8a5e6c"/>
<circle cx="325.7" cy="641.3" r="0.97" fill="#74505c"/>
<circle cx="270.1" cy="673.3" r="0.75" fill="#8a5a68"/>
<circle cx="327.7" cy="654.5" r="1.02" fill="#74505c"/>
<circle cx="259.6" cy="650.7" r="0.95" fill="#6e4856"/>
<circle cx="243.4" cy="619.1" r="0.88" fill="#7a5060"/>
<circle cx="288.8" cy="660.1" r="0.76" fill="#7a5060"/>
<circle cx="277.5" cy="662.2" r="0.85" fill="#6e4856"/>
<circle cx="302.9" cy="589.0" r="0.96" fill="#8a5a68"/>
<circle cx="328.5" cy="621.0" r="1.03" fill="#8a5a68"/>
<circle cx="270.9" cy="653.8" r="0.79" fill="#7a5060"/>
<circle cx="254.7" cy="635.4" r="0.76" fill="#74505c"/>
<circle cx="322.4" cy="644.7" r="0.71" fill="#7a5060"/>
<circle cx="264.6" cy="631.1" r="0.74" fill="#8a5a68"/>
<circle cx="302.6" cy="633.1" r="0.71" fill="#8a5a68"/>
<circle cx="249.1" cy="626.3" r="0.80" fill="#8a5a68"/>
<circle cx="273.1" cy="667.4" r="0.74" fill="#8a5e6c"/>
<circle cx="246.5" cy="645.5" r="0.81" fill="#8a5a68"/>
<circle cx="326.5" cy="641.0" r="0.93" fill="#6e4856"/>
<circle cx="320.7" cy="602.1" r="0.90" fill="#8a5e6c"/>
<circle cx="267.3" cy="639.0" r="0.73" fill="#7a5060"/>
<circle cx="306.9" cy="657.4" r="0.98" fill="#74505c"/>
<circle cx="267.6" cy="625.4" r="0.96" fill="#8a5e6c"/>
<circle cx="295.0" cy="612.0" r="0.80" fill="#7a5060"/>
<circle cx="247.2" cy="609.1" r="0.70" fill="#6e4856"/>
<circle cx="249.6" cy="610.7" r="0.78" fill="#74505c"/>
<circle cx="323.6" cy="641.7" r="0.79" fill="#7a5060"/>
<circle cx="252.8" cy="614.3" r="0.89" fill="#8a5a68"/>
<circle cx="276.2" cy="609.3" r="0.70" fill="#6e4856"/>
<circle cx="256.4" cy="593.9" r="0.69" fill="#8a5e6c"/>
<circle cx="265.3" cy="668.1" r="0.83" fill="#8a5e6c"/>
<circle cx="282.1" cy="677.2" r="0.94" fill="#74505c"/>
<circle cx="328.8" cy="619.3" r="0.88" fill="#7a5060"/>
<circle cx="294.5" cy="594.9" r="0.88" fill="#7a5060"/>
<circle cx="251.0" cy="654.1" r="0.69" fill="#6e4856"/>
<circle cx="272.3" cy="662.7" r="0.85" fill="#7a5060"/>
<circle cx="305.5" cy="611.4" r="0.73" fill="#8a5a68"/>
<circle cx="291.2" cy="619.0" r="0.96" fill="#74505c"/>
<circle cx="303.3" cy="602.2" r="0.84" fill="#8a5a68"/>
<circle cx="314.4" cy="643.9" r="0.67" fill="#8a5e6c"/>
<circle cx="237.9" cy="644.6" r="0.74" fill="#7a5060"/>
<circle cx="324.9" cy="639.9" r="0.93" fill="#6e4856"/>
<circle cx="278.4" cy="590.8" r="0.75" fill="#8a5a68"/>
<circle cx="253.7" cy="665.6" r="0.76" fill="#74505c"/>
<circle cx="336.0" cy="624.1" r="1.04" fill="#74505c"/>
<circle cx="320.7" cy="607.5" r="1.02" fill="#8a5a68"/>
<circle cx="282.6" cy="623.4" r="0.74" fill="#8a5a68"/>
<circle cx="316.2" cy="643.2" r="1.03" fill="#8a5e6c"/>
<circle cx="300.7" cy="618.9" r="0.93" fill="#7a5060"/>
<circle cx="327.5" cy="635.7" r="0.85" fill="#74505c"/>
<circle cx="301.2" cy="656.5" r="0.93" fill="#8a5e6c"/>
<circle cx="258.4" cy="602.7" r="0.73" fill="#8a5e6c"/>
<circle cx="246.9" cy="602.0" r="0.95" fill="#74505c"/>
<circle cx="266.3" cy="664.2" r="0.69" fill="#6e4856"/>
<circle cx="267.6" cy="598.3" r="0.94" fill="#6e4856"/>
<circle cx="279.9" cy="671.5" r="0.65" fill="#74505c"/>
<circle cx="330.6" cy="641.8" r="0.88" fill="#8a5e6c"/>
<circle cx="246.5" cy="600.6" r="0.92" fill="#6e4856"/>
<circle cx="300.6" cy="618.3" r="0.67" fill="#74505c"/>
<circle cx="300.0" cy="619.8" r="1.03" fill="#8a5e6c"/>
<circle cx="300.8" cy="651.2" r="0.74" fill="#6e4856"/>
<circle cx="288.3" cy="623.0" r="0.90" fill="#7a5060"/>
<circle cx="329.2" cy="627.1" r="0.91" fill="#74505c"/>
<circle cx="268.9" cy="647.4" r="0.69" fill="#8a5e6c"/>
<circle cx="314.1" cy="639.6" r="0.78" fill="#7a5060"/>
<circle cx="297.3" cy="657.6" r="0.69" fill="#74505c"/>
<circle cx="273.8" cy="670.0" r="0.87" fill="#8a5a68"/>
<circle cx="259.4" cy="659.9" r="0.67" fill="#8a5a68"/>
<circle cx="276.7" cy="581.3" r="0.79" fill="#6e4856"/>
<circle cx="291.8" cy="631.4" r="0.95" fill="#74505c"/>
<circle cx="262.8" cy="668.2" r="0.68" fill="#8a5e6c"/>
<circle cx="307.2" cy="645.8" r="0.66" fill="#74505c"/>
<circle cx="294.3" cy="660.6" r="0.71" fill="#74505c"/>
<circle cx="283.1" cy="611.5" r="0.68" fill="#7a5060"/>
<circle cx="309.5" cy="598.0" r="0.83" fill="#8a5e6c"/>
<circle cx="310.3" cy="592.8" r="0.93" fill="#8a5a68"/>
<circle cx="254.1" cy="596.4" r="0.84" fill="#74505c"/>
<circle cx="301.8" cy="649.6" r="0.99" fill="#7a5060"/>
<circle cx="309.2" cy="667.4" r="0.89" fill="#7a5060"/>
<circle cx="304.6" cy="674.1" r="0.84" fill="#6e4856"/>
<circle cx="317.3" cy="623.4" r="0.76" fill="#7a5060"/>
<circle cx="302.1" cy="617.7" r="0.78" fill="#7a5060"/>
<circle cx="310.5" cy="664.7" r="1.02" fill="#6e4856"/>
<circle cx="267.7" cy="600.9" r="0.77" fill="#74505c"/>
<circle cx="276.6" cy="583.4" r="1.02" fill="#8a5e6c"/>
<circle cx="309.1" cy="614.1" r="1.03" fill="#6e4856"/>
<circle cx="316.8" cy="632.2" r="0.66" fill="#8a5e6c"/>
<circle cx="330.0" cy="623.8" r="0.92" fill="#8a5a68"/>
<circle cx="303.8" cy="597.7" r="1.01" fill="#8a5e6c"/>
<circle cx="280.3" cy="604.5" r="0.97" fill="#8a5e6c"/>
<circle cx="317.8" cy="640.4" r="0.93" fill="#8a5a68"/>
<circle cx="296.5" cy="602.0" r="0.84" fill="#74505c"/>
<circle cx="303.5" cy="625.0" r="0.66" fill="#7a5060"/>
<circle cx="300.6" cy="631.2" r="0.80" fill="#7a5060"/>
<circle cx="253.6" cy="614.4" r="0.98" fill="#8a5e6c"/>
<circle cx="253.7" cy="628.1" r="0.95" fill="#7a5060"/>
<circle cx="282.5" cy="618.3" r="1.03" fill="#7a5060"/>
<circle cx="286.9" cy="648.4" r="0.68" fill="#7a5060"/>
<circle cx="272.5" cy="653.9" r="1.01" fill="#74505c"/>
<circle cx="271.7" cy="604.1" r="1.00" fill="#7a5060"/>
<circle cx="244.5" cy="612.5" r="0.89" fill="#8a5a68"/>
<circle cx="274.3" cy="632.4" r="1.05" fill="#6e4856"/>
<circle cx="269.5" cy="618.6" r="0.91" fill="#8a5a68"/>
<circle cx="292.4" cy="583.7" r="0.78" fill="#8a5a68"/>
<circle cx="329.9" cy="614.2" r="0.91" fill="#6e4856"/>
<circle cx="319.3" cy="613.1" r="0.84" fill="#8a5e6c"/>
<defs><radialGradient id="hz"><stop offset="0" stop-color="#a8a4a4" stop-opacity="0.55"/><stop offset="1" stop-color="#a8a4a4" stop-opacity="0"/></radialGradient></defs>
<circle cx="280" cy="622" r="34" fill="url(#hz)"/>
<circle cx="254.7" cy="585.0" r="0.95" fill="#7a5060"/>
<circle cx="256.1" cy="583.2" r="0.95" fill="#7a5060"/>
<circle cx="260.5" cy="583.4" r="0.95" fill="#7a5060"/>
<circle cx="261.9" cy="581.3" r="0.95" fill="#7a5060"/>
<circle cx="264.7" cy="580.6" r="0.95" fill="#7a5060"/>
<circle cx="268.2" cy="577.7" r="0.95" fill="#7a5060"/>
<circle cx="271.4" cy="578.1" r="0.95" fill="#7a5060"/>
<circle cx="273.2" cy="575.0" r="0.95" fill="#7a5060"/>
<circle cx="275.9" cy="574.8" r="0.95" fill="#7a5060"/>
<circle cx="279.1" cy="572.7" r="0.95" fill="#7a5060"/>
<circle cx="282.1" cy="571.6" r="0.95" fill="#7a5060"/>
<g stroke="#8c8c8c" stroke-width="0.4" stroke-opacity="0.16">
<line x1="250.1" y1="611.5" x2="282.6" y2="618.3"/>
<line x1="258.7" y1="590.7" x2="283.7" y2="620.3"/>
<line x1="263.3" y1="596.9" x2="268.0" y2="621.7"/>
<line x1="253.2" y1="622.3" x2="287.7" y2="619.5"/>
<line x1="277.2" y1="653.6" x2="279.4" y2="622.0"/>
<line x1="252.5" y1="602.0" x2="272.3" y2="626.3"/>
<line x1="319.5" y1="612.2" x2="280.0" y2="619.7"/>
<line x1="332.5" y1="644.6" x2="280.3" y2="625.4"/>
<line x1="320.5" y1="602.6" x2="284.2" y2="625.1"/>
<line x1="287.2" y1="653.3" x2="287.1" y2="622.2"/>
<line x1="275.5" y1="656.7" x2="282.0" y2="624.2"/>
<line x1="331.7" y1="637.3" x2="280.9" y2="615.6"/>
<line x1="299.7" y1="641.1" x2="284.2" y2="625.0"/>
<line x1="310.5" y1="637.0" x2="282.0" y2="625.1"/>
<line x1="266.8" y1="601.0" x2="276.4" y2="622.8"/>
<line x1="243.0" y1="617.6" x2="280.3" y2="623.8"/>
<line x1="255.4" y1="631.5" x2="281.5" y2="619.6"/>
<line x1="290.2" y1="623.8" x2="275.8" y2="620.6"/>
<line x1="267.2" y1="669.9" x2="280.1" y2="619.1"/>
<line x1="246.9" y1="629.2" x2="283.1" y2="622.4"/>
<line x1="251.7" y1="603.3" x2="275.9" y2="623.2"/>
<line x1="260.5" y1="626.9" x2="290.1" y2="613.1"/>
<line x1="278.9" y1="628.8" x2="273.8" y2="627.4"/>
<line x1="278.6" y1="642.0" x2="284.1" y2="629.2"/>
<line x1="266.7" y1="610.0" x2="275.0" y2="616.1"/>
<line x1="330.6" y1="618.7" x2="272.7" y2="625.7"/>
<line x1="327.6" y1="607.6" x2="281.0" y2="615.4"/>
<line x1="240.0" y1="624.8" x2="275.4" y2="616.3"/>
<line x1="288.1" y1="642.6" x2="280.2" y2="628.6"/>
<line x1="266.0" y1="618.4" x2="285.6" y2="633.3"/>
<line x1="329.3" y1="648.3" x2="281.9" y2="615.5"/>
<line x1="327.2" y1="626.9" x2="292.8" y2="622.5"/>
<line x1="245.0" y1="652.0" x2="282.1" y2="619.5"/>
<line x1="293.0" y1="629.7" x2="282.7" y2="613.3"/>
<line x1="288.3" y1="644.1" x2="275.0" y2="628.7"/>
<line x1="283.3" y1="582.9" x2="289.2" y2="620.3"/>
<line x1="289.3" y1="622.7" x2="291.0" y2="622.4"/>
<line x1="265.0" y1="609.2" x2="284.1" y2="625.2"/>
<line x1="267.3" y1="656.9" x2="277.8" y2="623.0"/>
<line x1="305.6" y1="638.8" x2="282.6" y2="623.7"/>
<line x1="270.5" y1="637.0" x2="282.9" y2="616.0"/>
<line x1="247.3" y1="637.6" x2="281.1" y2="623.1"/>
<line x1="311.6" y1="641.4" x2="278.5" y2="624.9"/>
<line x1="270.1" y1="669.5" x2="286.5" y2="622.3"/>
<line x1="266.3" y1="645.3" x2="280.4" y2="618.5"/>
<line x1="305.3" y1="633.1" x2="285.6" y2="621.4"/>
<line x1="322.5" y1="660.1" x2="273.3" y2="612.1"/>
<line x1="264.0" y1="666.1" x2="284.6" y2="622.9"/>
<line x1="295.9" y1="594.5" x2="282.2" y2="617.2"/>
<line x1="295.9" y1="618.5" x2="278.7" y2="619.7"/>
<line x1="300.7" y1="671.3" x2="272.7" y2="625.9"/>
<line x1="277.0" y1="668.5" x2="286.9" y2="618.1"/>
<line x1="290.0" y1="667.5" x2="289.6" y2="619.3"/>
<line x1="256.3" y1="638.6" x2="288.0" y2="627.0"/>
<line x1="298.7" y1="647.0" x2="283.9" y2="622.6"/>
<line x1="260.3" y1="650.3" x2="283.4" y2="626.7"/>
<line x1="286.8" y1="612.9" x2="285.0" y2="626.6"/>
<line x1="325.4" y1="601.6" x2="279.0" y2="621.1"/>
<line x1="320.9" y1="593.6" x2="286.0" y2="618.4"/>
<line x1="257.6" y1="653.0" x2="285.0" y2="606.4"/>
<line x1="250.4" y1="629.4" x2="278.7" y2="627.8"/>
<line x1="260.4" y1="621.0" x2="270.3" y2="624.9"/>
<line x1="288.2" y1="652.3" x2="277.7" y2="631.3"/>
<line x1="271.1" y1="669.7" x2="290.2" y2="617.6"/>
<line x1="293.4" y1="607.8" x2="272.1" y2="624.9"/>
<line x1="287.0" y1="665.6" x2="289.0" y2="613.6"/>
<line x1="275.8" y1="641.5" x2="285.3" y2="622.8"/>
<line x1="260.7" y1="620.5" x2="284.2" y2="615.5"/>
<line x1="253.1" y1="597.6" x2="277.6" y2="628.4"/>
<line x1="270.1" y1="649.0" x2="287.6" y2="627.8"/>
<line x1="293.2" y1="623.0" x2="280.6" y2="620.2"/>
<line x1="261.6" y1="641.5" x2="285.4" y2="618.9"/>
<line x1="256.2" y1="626.0" x2="280.9" y2="625.7"/>
<line x1="291.5" y1="630.2" x2="273.2" y2="619.5"/>
<line x1="273.8" y1="606.3" x2="283.0" y2="621.9"/>
<line x1="259.7" y1="639.7" x2="286.5" y2="633.5"/>
<line x1="282.1" y1="610.8" x2="285.0" y2="630.2"/>
<line x1="266.9" y1="647.1" x2="279.7" y2="626.2"/>
<line x1="262.3" y1="613.7" x2="279.5" y2="621.0"/>
<line x1="248.7" y1="619.9" x2="276.7" y2="631.1"/>
<line x1="322.5" y1="610.9" x2="278.4" y2="623.6"/>
<line x1="267.1" y1="609.5" x2="284.1" y2="627.3"/>
<line x1="298.3" y1="664.9" x2="281.0" y2="621.2"/>
<line x1="271.3" y1="612.3" x2="276.8" y2="628.8"/>
<line x1="313.4" y1="622.1" x2="281.1" y2="617.4"/>
<line x1="305.4" y1="620.6" x2="279.9" y2="620.2"/>
<line x1="245.9" y1="612.6" x2="288.3" y2="617.6"/>
<line x1="255.9" y1="618.6" x2="276.1" y2="616.7"/>
<line x1="253.6" y1="601.6" x2="280.7" y2="610.2"/>
<line x1="252.0" y1="596.8" x2="280.7" y2="617.1"/>
<line x1="295.8" y1="600.3" x2="285.9" y2="613.0"/>
<line x1="324.0" y1="600.1" x2="278.9" y2="616.5"/>
<line x1="276.4" y1="665.6" x2="284.7" y2="619.1"/>
<line x1="296.7" y1="668.9" x2="283.9" y2="620.2"/>
<line x1="296.8" y1="640.5" x2="272.1" y2="619.0"/>
<line x1="286.7" y1="671.1" x2="284.3" y2="623.0"/>
<line x1="244.3" y1="615.8" x2="273.4" y2="622.3"/>
<line x1="266.5" y1="651.0" x2="280.7" y2="622.0"/>
<line x1="295.1" y1="655.4" x2="279.2" y2="619.2"/>
<line x1="288.0" y1="676.2" x2="278.0" y2="617.8"/>
<line x1="294.7" y1="587.9" x2="283.6" y2="616.2"/>
<line x1="274.3" y1="618.1" x2="276.5" y2="624.2"/>
<line x1="284.9" y1="657.3" x2="283.7" y2="619.7"/>
<line x1="307.9" y1="646.4" x2="281.5" y2="623.0"/>
<line x1="317.6" y1="609.3" x2="287.1" y2="623.0"/>
<line x1="301.9" y1="658.0" x2="294.0" y2="617.3"/>
<line x1="250.6" y1="653.7" x2="279.0" y2="622.1"/>
<line x1="249.5" y1="653.6" x2="282.4" y2="614.1"/>
<line x1="316.7" y1="625.7" x2="278.3" y2="613.2"/>
<line x1="327.5" y1="607.3" x2="284.2" y2="618.7"/>
<line x1="257.7" y1="654.5" x2="284.1" y2="624.9"/>
<line x1="270.4" y1="644.0" x2="283.9" y2="628.7"/>
<line x1="281.6" y1="638.8" x2="284.6" y2="610.5"/>
<line x1="292.8" y1="667.6" x2="284.1" y2="623.8"/>
<line x1="306.5" y1="661.4" x2="272.3" y2="618.6"/>
<line x1="262.6" y1="592.5" x2="285.7" y2="617.3"/>
<line x1="289.1" y1="647.3" x2="286.8" y2="614.7"/>
<line x1="256.3" y1="590.5" x2="282.8" y2="617.3"/>
<line x1="298.8" y1="657.1" x2="290.1" y2="616.8"/>
<line x1="290.2" y1="628.2" x2="270.6" y2="625.6"/>
<line x1="319.1" y1="597.4" x2="284.1" y2="623.4"/>
<line x1="291.0" y1="596.2" x2="275.6" y2="633.5"/>
<line x1="320.7" y1="631.8" x2="286.7" y2="616.8"/>
<line x1="305.9" y1="611.7" x2="268.1" y2="616.8"/>
<line x1="308.1" y1="651.5" x2="284.0" y2="621.8"/>
<line x1="292.4" y1="586.5" x2="280.3" y2="637.1"/>
<line x1="289.5" y1="610.7" x2="291.3" y2="621.3"/>
<line x1="277.5" y1="629.1" x2="282.4" y2="615.5"/>
<line x1="285.5" y1="614.3" x2="272.0" y2="623.2"/>
<line x1="283.2" y1="608.0" x2="278.4" y2="626.8"/>
<line x1="237.9" y1="640.2" x2="281.3" y2="621.9"/>
<line x1="272.3" y1="615.8" x2="285.0" y2="617.4"/>
<line x1="324.2" y1="600.3" x2="283.8" y2="620.8"/>
<line x1="326.4" y1="644.7" x2="272.5" y2="623.9"/>
<line x1="255.9" y1="639.1" x2="280.5" y2="617.2"/>
<line x1="254.5" y1="628.7" x2="280.1" y2="620.3"/>
<line x1="249.0" y1="636.6" x2="276.7" y2="612.1"/>
<line x1="252.1" y1="662.4" x2="279.6" y2="617.3"/>
<line x1="258.2" y1="616.9" x2="280.4" y2="621.1"/>
<line x1="310.0" y1="610.5" x2="283.1" y2="622.2"/>
<line x1="272.4" y1="649.1" x2="283.5" y2="617.9"/>
<line x1="308.8" y1="615.2" x2="274.1" y2="632.2"/>
<line x1="316.5" y1="591.6" x2="282.4" y2="623.2"/>
<line x1="276.1" y1="601.5" x2="282.7" y2="623.3"/>
<line x1="273.7" y1="652.2" x2="273.2" y2="609.1"/>
<line x1="307.7" y1="665.7" x2="272.7" y2="616.4"/>
<line x1="333.8" y1="625.6" x2="286.5" y2="628.0"/>
<line x1="290.6" y1="598.4" x2="289.3" y2="623.7"/>
<line x1="255.7" y1="597.6" x2="281.3" y2="613.9"/>
<line x1="332.7" y1="640.7" x2="285.5" y2="620.7"/>
<line x1="296.8" y1="582.2" x2="276.9" y2="623.9"/>
<line x1="250.6" y1="602.4" x2="274.4" y2="626.0"/>
<line x1="315.3" y1="619.6" x2="283.3" y2="620.5"/>
<line x1="248.0" y1="603.5" x2="277.6" y2="624.3"/>
<line x1="280.8" y1="656.8" x2="277.0" y2="625.3"/>
<line x1="287.4" y1="665.4" x2="281.7" y2="625.8"/>
<line x1="239.4" y1="638.0" x2="280.5" y2="625.1"/>
<line x1="291.9" y1="591.4" x2="290.8" y2="631.2"/>
<line x1="298.2" y1="664.7" x2="281.7" y2="631.3"/>
<line x1="258.9" y1="656.0" x2="283.2" y2="614.5"/>
<line x1="275.8" y1="652.7" x2="275.7" y2="619.0"/>
<line x1="283.1" y1="615.6" x2="281.3" y2="622.1"/>
<line x1="293.1" y1="608.9" x2="281.1" y2="616.5"/>
<line x1="324.3" y1="617.1" x2="282.3" y2="620.1"/>
<line x1="310.2" y1="609.4" x2="290.5" y2="624.6"/>
<line x1="290.1" y1="667.0" x2="286.3" y2="622.6"/>
<line x1="253.3" y1="635.0" x2="282.9" y2="618.3"/>
<line x1="303.0" y1="617.7" x2="285.0" y2="621.2"/>
<line x1="265.0" y1="585.9" x2="276.9" y2="613.1"/>
<line x1="328.0" y1="652.9" x2="288.3" y2="623.9"/>
<line x1="305.7" y1="590.1" x2="280.0" y2="615.2"/>
<line x1="309.6" y1="626.2" x2="288.7" y2="617.2"/>
<line x1="298.2" y1="658.8" x2="278.4" y2="623.1"/>
<line x1="313.8" y1="592.1" x2="281.0" y2="620.7"/>
<line x1="279.9" y1="581.7" x2="278.7" y2="610.6"/>
<line x1="326.6" y1="617.9" x2="280.8" y2="617.8"/>
<line x1="289.9" y1="601.1" x2="280.6" y2="626.4"/>
<line x1="282.5" y1="636.9" x2="283.4" y2="625.3"/>
<line x1="287.5" y1="634.7" x2="280.2" y2="612.7"/>
<line x1="265.1" y1="663.6" x2="281.8" y2="621.1"/>
<line x1="251.6" y1="611.5" x2="286.1" y2="631.5"/>
<line x1="298.4" y1="594.6" x2="271.8" y2="619.9"/>
<line x1="329.8" y1="643.9" x2="276.8" y2="621.4"/>
<line x1="283.7" y1="663.6" x2="288.5" y2="627.5"/>
<line x1="246.2" y1="652.9" x2="289.5" y2="619.4"/>
<line x1="305.2" y1="643.1" x2="272.9" y2="613.3"/>
<line x1="264.8" y1="607.4" x2="283.0" y2="616.8"/>
<line x1="257.5" y1="610.5" x2="287.6" y2="619.9"/>
<line x1="317.2" y1="652.5" x2="278.5" y2="623.7"/>
<line x1="260.2" y1="628.6" x2="284.3" y2="620.9"/>
<line x1="282.5" y1="627.0" x2="278.6" y2="628.9"/>
<line x1="245.3" y1="628.0" x2="274.8" y2="618.9"/>
<line x1="284.0" y1="674.6" x2="280.3" y2="621.0"/>
<line x1="296.5" y1="610.9" x2="274.8" y2="625.6"/>
<line x1="302.5" y1="615.9" x2="279.3" y2="627.8"/>
<line x1="271.8" y1="598.0" x2="276.9" y2="607.3"/>
<line x1="315.1" y1="640.4" x2="283.4" y2="613.2"/>
<line x1="313.9" y1="620.2" x2="281.1" y2="629.4"/>
<line x1="307.0" y1="589.8" x2="278.4" y2="621.4"/>
<line x1="278.2" y1="604.7" x2="281.3" y2="622.1"/>
<line x1="269.5" y1="652.9" x2="275.8" y2="620.5"/>
<line x1="246.3" y1="625.1" x2="284.7" y2="630.2"/>
<line x1="264.4" y1="589.6" x2="275.3" y2="619.6"/>
<line x1="307.1" y1="594.3" x2="280.0" y2="632.0"/>
<line x1="295.4" y1="651.8" x2="283.5" y2="617.1"/>
<line x1="313.3" y1="665.6" x2="280.2" y2="621.4"/>
<line x1="269.5" y1="651.5" x2="279.5" y2="629.9"/>
<line x1="287.9" y1="641.9" x2="285.1" y2="616.9"/>
<line x1="239.5" y1="634.7" x2="277.0" y2="613.1"/>
<line x1="272.0" y1="651.0" x2="278.2" y2="626.9"/>
<line x1="266.3" y1="617.9" x2="270.2" y2="617.2"/>
<line x1="286.0" y1="624.7" x2="274.0" y2="623.1"/>
<line x1="332.9" y1="644.1" x2="282.5" y2="615.8"/>
<line x1="246.3" y1="623.8" x2="275.8" y2="626.0"/>
<line x1="256.6" y1="626.8" x2="279.3" y2="622.3"/>
<line x1="267.4" y1="612.8" x2="280.7" y2="624.9"/>
<line x1="286.0" y1="595.3" x2="275.8" y2="619.1"/>
<line x1="260.4" y1="612.8" x2="280.5" y2="630.5"/>
<line x1="282.9" y1="609.2" x2="283.9" y2="625.6"/>
<line x1="293.7" y1="602.1" x2="281.8" y2="627.2"/>
<line x1="246.4" y1="628.0" x2="278.9" y2="626.6"/>
<line x1="329.3" y1="623.8" x2="282.1" y2="627.8"/>
<line x1="314.6" y1="667.2" x2="280.3" y2="633.4"/>
<line x1="290.9" y1="650.5" x2="278.6" y2="625.7"/>
<line x1="268.5" y1="653.3" x2="279.0" y2="623.3"/>
<line x1="257.1" y1="599.0" x2="281.4" y2="624.7"/>
<line x1="306.9" y1="632.5" x2="274.0" y2="621.2"/>
<line x1="328.0" y1="611.5" x2="283.1" y2="625.2"/>
<line x1="290.4" y1="640.0" x2="287.2" y2="623.1"/>
<line x1="333.5" y1="614.6" x2="284.7" y2="622.6"/>
<line x1="258.4" y1="664.1" x2="285.3" y2="625.2"/>
<line x1="317.0" y1="597.4" x2="283.6" y2="627.5"/>
<line x1="278.5" y1="612.5" x2="285.9" y2="616.3"/>
<line x1="266.7" y1="648.9" x2="290.1" y2="627.7"/>
<line x1="299.7" y1="662.7" x2="278.8" y2="615.6"/>
<line x1="293.6" y1="603.7" x2="279.3" y2="619.0"/>
<line x1="274.8" y1="587.3" x2="273.1" y2="623.7"/>
<line x1="283.3" y1="622.7" x2="281.8" y2="625.3"/>
<line x1="269.6" y1="586.8" x2="282.4" y2="633.3"/>
<line x1="296.8" y1="658.0" x2="283.4" y2="618.7"/>
<line x1="292.6" y1="620.0" x2="278.5" y2="631.3"/>
<line x1="276.2" y1="613.9" x2="274.9" y2="622.4"/>
<line x1="333.5" y1="636.5" x2="292.3" y2="623.8"/>
<line x1="272.3" y1="591.0" x2="278.4" y2="624.7"/>
<line x1="237.2" y1="630.0" x2="285.7" y2="625.2"/>
<line x1="247.1" y1="598.7" x2="277.6" y2="610.3"/>
<line x1="275.9" y1="597.5" x2="282.3" y2="621.4"/>
<line x1="285.9" y1="622.2" x2="282.4" y2="622.9"/>
<line x1="243.6" y1="641.5" x2="283.0" y2="615.3"/>
<line x1="267.6" y1="647.2" x2="276.7" y2="623.3"/>
<line x1="246.0" y1="624.6" x2="290.6" y2="628.3"/>
<line x1="317.9" y1="661.1" x2="281.4" y2="622.0"/>
<line x1="313.8" y1="621.2" x2="274.4" y2="627.4"/>
<line x1="320.0" y1="646.4" x2="284.9" y2="617.8"/>
<line x1="305.3" y1="630.8" x2="283.4" y2="619.7"/>
<line x1="275.1" y1="590.7" x2="282.1" y2="614.9"/>
<line x1="242.4" y1="617.9" x2="280.3" y2="618.5"/>
<line x1="320.4" y1="644.5" x2="274.4" y2="618.7"/>
<line x1="273.2" y1="674.5" x2="276.7" y2="619.0"/>
<line x1="296.4" y1="646.2" x2="279.9" y2="629.5"/>
<line x1="247.6" y1="650.8" x2="277.0" y2="630.7"/>
<line x1="326.2" y1="620.7" x2="282.2" y2="618.0"/>
<line x1="256.0" y1="635.5" x2="270.1" y2="629.8"/>
<line x1="261.6" y1="669.3" x2="280.6" y2="618.1"/>
<line x1="256.1" y1="641.0" x2="269.3" y2="625.1"/>
<line x1="262.9" y1="602.2" x2="277.0" y2="619.7"/>
<line x1="307.3" y1="650.1" x2="284.2" y2="613.7"/>
<line x1="325.0" y1="636.1" x2="281.7" y2="615.0"/>
<line x1="312.6" y1="620.6" x2="283.5" y2="626.4"/>
<line x1="331.7" y1="634.8" x2="274.1" y2="624.5"/>
<line x1="249.7" y1="627.4" x2="274.7" y2="628.1"/>
<line x1="320.4" y1="593.0" x2="275.9" y2="619.7"/>
<line x1="241.5" y1="608.2" x2="280.6" y2="622.8"/>
<line x1="239.7" y1="626.9" x2="283.8" y2="625.6"/>
<line x1="258.3" y1="600.4" x2="276.9" y2="629.3"/>
<line x1="305.1" y1="591.8" x2="282.9" y2="620.1"/>
<line x1="258.6" y1="644.2" x2="279.7" y2="627.1"/>
<line x1="325.2" y1="610.5" x2="283.9" y2="629.1"/>
<line x1="271.4" y1="608.2" x2="279.5" y2="624.2"/>
<line x1="245.0" y1="640.4" x2="278.5" y2="625.5"/>
<line x1="287.7" y1="675.8" x2="281.0" y2="627.4"/>
<line x1="290.2" y1="661.7" x2="282.9" y2="612.1"/>
<line x1="243.8" y1="605.4" x2="279.2" y2="629.4"/>
<line x1="268.7" y1="646.2" x2="278.3" y2="624.1"/>
<line x1="271.9" y1="614.1" x2="279.0" y2="614.1"/>
<line x1="316.5" y1="632.0" x2="276.8" y2="616.1"/>
<line x1="281.6" y1="624.0" x2="280.9" y2="619.3"/>
<line x1="329.1" y1="632.7" x2="278.0" y2="623.3"/>
<line x1="305.5" y1="651.2" x2="280.3" y2="620.9"/>
<line x1="252.6" y1="624.3" x2="284.7" y2="618.2"/>
<line x1="305.8" y1="660.0" x2="282.9" y2="623.2"/>
<line x1="315.9" y1="606.1" x2="278.9" y2="624.8"/>
<line x1="305.9" y1="652.5" x2="270.5" y2="627.8"/>
<line x1="255.4" y1="633.5" x2="276.8" y2="622.0"/>
<line x1="254.7" y1="627.6" x2="282.4" y2="626.6"/>
<line x1="288.3" y1="614.0" x2="272.0" y2="614.9"/>
<line x1="257.2" y1="610.8" x2="286.4" y2="616.1"/>
<line x1="285.2" y1="629.3" x2="285.7" y2="619.2"/>
<line x1="284.4" y1="631.3" x2="282.6" y2="630.0"/>
<line x1="270.3" y1="616.4" x2="281.4" y2="613.2"/>
<line x1="318.9" y1="648.8" x2="278.5" y2="626.2"/>
<line x1="277.4" y1="662.5" x2="291.7" y2="628.8"/>
<line x1="315.8" y1="666.5" x2="286.1" y2="622.8"/>
<line x1="278.9" y1="675.8" x2="269.8" y2="638.9"/>
<line x1="274.1" y1="639.7" x2="279.7" y2="623.3"/>
<line x1="265.9" y1="629.5" x2="281.5" y2="624.7"/>
<line x1="263.8" y1="671.3" x2="274.1" y2="620.4"/>
<line x1="301.7" y1="600.1" x2="280.5" y2="621.3"/>
<line x1="240.9" y1="620.7" x2="279.4" y2="624.0"/>
<line x1="324.5" y1="606.7" x2="280.0" y2="624.3"/>
<line x1="260.5" y1="650.7" x2="280.3" y2="631.8"/>
<line x1="244.4" y1="611.4" x2="269.3" y2="620.2"/>
<line x1="262.8" y1="602.1" x2="271.2" y2="622.8"/>
<line x1="259.2" y1="602.9" x2="286.2" y2="630.9"/>
<line x1="262.6" y1="585.6" x2="278.2" y2="623.9"/>
<line x1="313.2" y1="637.2" x2="277.2" y2="622.0"/>
<line x1="282.5" y1="607.1" x2="283.5" y2="620.6"/>
<line x1="293.1" y1="643.3" x2="283.5" y2="612.0"/>
<line x1="277.0" y1="605.8" x2="285.0" y2="615.4"/>
<line x1="285.0" y1="674.0" x2="281.3" y2="618.0"/>
</g>
<circle cx="200.2" cy="483.2" r="1.00" fill="#7a9060"/>
<circle cx="182.5" cy="469.7" r="1.09" fill="#7a6a66"/>
<circle cx="198.4" cy="477.6" r="1.25" fill="#7a6a66"/>
<circle cx="183.2" cy="462.8" r="1.01" fill="#6e605c"/>
<circle cx="200.0" cy="475.5" r="1.22" fill="#7a6a66"/>
<circle cx="198.0" cy="449.0" r="0.88" fill="#7a9060"/>
<circle cx="217.7" cy="472.2" r="1.18" fill="#857470"/>
<circle cx="180.6" cy="470.2" r="1.20" fill="#7a6a66"/>
<circle cx="183.4" cy="479.1" r="1.03" fill="#6e605c"/>
<circle cx="204.0" cy="462.3" r="0.90" fill="#6e605c"/>
<circle cx="198.1" cy="485.0" r="1.16" fill="#857470"/>
<circle cx="181.3" cy="476.5" r="1.08" fill="#7a9060"/>
<circle cx="184.5" cy="458.4" r="1.21" fill="#7a6a66"/>
<circle cx="212.6" cy="449.8" r="1.12" fill="#6e605c"/>
<circle cx="195.0" cy="455.1" r="1.07" fill="#7a9060"/>
<circle cx="182.1" cy="459.2" r="0.93" fill="#7a9060"/>
<circle cx="198.2" cy="474.7" r="1.04" fill="#7a6a66"/>
<circle cx="215.7" cy="477.4" r="1.01" fill="#6e605c"/>
<circle cx="213.3" cy="468.8" r="1.02" fill="#7a6a66"/>
<circle cx="215.6" cy="471.7" r="0.87" fill="#7a9060"/>
<circle cx="188.9" cy="485.0" r="1.24" fill="#7a9060"/>
<circle cx="199.4" cy="471.2" r="0.85" fill="#7a6a66"/>
<circle cx="195.8" cy="464.7" r="0.93" fill="#7a6a66"/>
<circle cx="196.1" cy="477.9" r="1.13" fill="#857470"/>
<circle cx="190.6" cy="486.8" r="1.21" fill="#7a6a66"/>
<circle cx="184.3" cy="481.3" r="1.00" fill="#7a9060"/>
<circle cx="196.0" cy="460.6" r="1.24" fill="#7a9060"/>
<circle cx="196.7" cy="484.4" r="1.14" fill="#857470"/>
<circle cx="188.7" cy="471.3" r="0.97" fill="#857470"/>
<circle cx="213.1" cy="468.0" r="1.08" fill="#7a6a66"/>
<circle cx="186.9" cy="478.8" r="0.90" fill="#857470"/>
<circle cx="181.3" cy="470.8" r="0.99" fill="#857470"/>
<circle cx="198.8" cy="463.7" r="0.87" fill="#7a6a66"/>
<circle cx="209.7" cy="464.5" r="1.03" fill="#7a9060"/>
<circle cx="191.6" cy="461.5" r="0.92" fill="#857470"/>
<circle cx="205.3" cy="457.6" r="1.16" fill="#7a6a66"/>
<circle cx="199.5" cy="463.4" r="1.08" fill="#6e605c"/>
<circle cx="195.2" cy="476.6" r="1.17" fill="#6e605c"/>
<circle cx="190.5" cy="483.0" r="1.11" fill="#7a6a66"/>
<circle cx="209.0" cy="474.5" r="0.98" fill="#6e605c"/>
<circle cx="180.2" cy="474.7" r="0.92" fill="#857470"/>
<circle cx="198.5" cy="456.7" r="1.08" fill="#857470"/>
<circle cx="200.2" cy="474.6" r="1.06" fill="#6e605c"/>
<circle cx="191.0" cy="485.5" r="1.08" fill="#857470"/>
<circle cx="188.3" cy="483.9" r="0.88" fill="#7a9060"/>
<circle cx="194.5" cy="473.5" r="0.97" fill="#857470"/>
<circle cx="181.9" cy="470.9" r="0.97" fill="#7a9060"/>
<circle cx="181.2" cy="478.4" r="0.91" fill="#7a6a66"/>
<circle cx="179.1" cy="469.8" r="1.10" fill="#7a9060"/>
<circle cx="179.4" cy="475.6" r="1.22" fill="#6e605c"/>
<circle cx="213.6" cy="470.0" r="1.15" fill="#7a9060"/>
<circle cx="214.8" cy="463.3" r="1.21" fill="#7a6a66"/>
<circle cx="212.6" cy="450.1" r="0.90" fill="#6e605c"/>
<circle cx="219.1" cy="472.8" r="1.13" fill="#6e605c"/>
<circle cx="215.6" cy="454.4" r="1.08" fill="#7a6a66"/>
<circle cx="191.4" cy="467.9" r="1.05" fill="#6e605c"/>
<circle cx="190.7" cy="453.4" r="1.02" fill="#7a9060"/>
<circle cx="204.9" cy="472.1" r="1.24" fill="#7a9060"/>
<circle cx="179.7" cy="469.8" r="0.99" fill="#6e605c"/>
<circle cx="213.9" cy="481.4" r="0.90" fill="#6e605c"/>
<circle cx="204.5" cy="446.6" r="1.17" fill="#7a6a66"/>
<circle cx="182.4" cy="468.3" r="1.01" fill="#857470"/>
<circle cx="199.2" cy="484.3" r="1.06" fill="#7a6a66"/>
<circle cx="179.9" cy="470.3" r="0.85" fill="#7a6a66"/>
<circle cx="199.7" cy="462.3" r="0.87" fill="#7a6a66"/>
<circle cx="219.1" cy="463.8" r="0.88" fill="#7a9060"/>
<circle cx="190.3" cy="467.5" r="0.88" fill="#7a6a66"/>
<circle cx="188.8" cy="453.6" r="0.99" fill="#6e605c"/>
<circle cx="213.4" cy="465.9" r="0.90" fill="#7a6a66"/>
<circle cx="196.1" cy="453.7" r="0.88" fill="#6e605c"/>
<circle cx="213.4" cy="471.0" r="1.11" fill="#7a9060"/>
<circle cx="184.6" cy="480.5" r="1.10" fill="#7a6a66"/>
<circle cx="215.5" cy="472.7" r="1.15" fill="#857470"/>
<circle cx="182.9" cy="475.8" r="1.03" fill="#6e605c"/>
<circle cx="201.2" cy="478.2" r="1.09" fill="#7a6a66"/>
<circle cx="200.3" cy="474.8" r="0.86" fill="#857470"/>
<circle cx="184.3" cy="481.8" r="1.17" fill="#857470"/>
<circle cx="212.2" cy="479.6" r="1.23" fill="#7a9060"/>
<circle cx="203.7" cy="449.7" r="1.14" fill="#7a9060"/>
<circle cx="179.6" cy="463.0" r="1.14" fill="#7a6a66"/>
<circle cx="211.0" cy="482.2" r="0.87" fill="#7a6a66"/>
<circle cx="182.6" cy="460.0" r="1.00" fill="#7a6a66"/>
<circle cx="188.0" cy="484.0" r="0.86" fill="#7a6a66"/>
<circle cx="189.7" cy="449.2" r="1.23" fill="#7a9060"/>
<circle cx="197.0" cy="473.2" r="1.25" fill="#7a9060"/>
<circle cx="87.1" cy="474.4" r="1.20" fill="#7d9396"/>
<circle cx="95.2" cy="473.5" r="1.30" fill="#7d9396"/>
<circle cx="107.3" cy="473.8" r="1.40" fill="#7d9396"/>
<circle cx="109.6" cy="478.3" r="1.10" fill="#7d9396"/>
<circle cx="117.7" cy="481.9" r="1.10" fill="#7d9396"/>
<circle cx="101.9" cy="485.0" r="1.10" fill="#7d9396"/>
<circle cx="117.3" cy="488.3" r="1.00" fill="#7d9396"/>
<circle cx="92.7" cy="492.1" r="1.90" fill="#7d9396"/>
<circle cx="104.0" cy="480.0" r="0.80" fill="#7d9396"/>
<circle cx="112.0" cy="486.0" r="0.80" fill="#7d9396"/>
<circle cx="69.9" cy="635.8" r="0.95" fill="#9a8c76"/>
<circle cx="94.4" cy="646.6" r="0.89" fill="#b0a088"/>
<circle cx="70.6" cy="630.0" r="1.02" fill="#a89a80"/>
<circle cx="77.4" cy="632.1" r="0.73" fill="#a89a80"/>
<circle cx="97.2" cy="636.0" r="0.87" fill="#b0a088"/>
<circle cx="91.7" cy="625.6" r="0.88" fill="#9a8c76"/>
<circle cx="83.4" cy="636.0" r="0.96" fill="#9a8c76"/>
<circle cx="64.8" cy="637.7" r="0.74" fill="#a89a80"/>
<circle cx="80.3" cy="630.9" r="0.84" fill="#9a8c76"/>
<circle cx="69.4" cy="634.9" r="0.89" fill="#a89a80"/>
<circle cx="66.7" cy="618.1" r="0.97" fill="#b0a088"/>
<circle cx="91.2" cy="638.5" r="0.93" fill="#b0a088"/>
<circle cx="66.6" cy="631.2" r="0.92" fill="#9a8c76"/>
<circle cx="71.2" cy="644.2" r="1.06" fill="#9a8c76"/>
<circle cx="74.5" cy="645.4" r="0.90" fill="#9a8c76"/>
<circle cx="99.8" cy="624.9" r="0.71" fill="#a89a80"/>
<circle cx="69.7" cy="636.8" r="1.09" fill="#a89a80"/>
<circle cx="81.7" cy="630.8" r="1.00" fill="#a89a80"/>
<circle cx="84.6" cy="622.5" r="1.09" fill="#a89a80"/>
<circle cx="70.5" cy="617.1" r="0.84" fill="#9a8c76"/>
<circle cx="76.5" cy="632.5" r="0.82" fill="#a89a80"/>
<circle cx="70.1" cy="644.2" r="0.77" fill="#9a8c76"/>
<circle cx="77.5" cy="635.6" r="0.97" fill="#b0a088"/>
<circle cx="98.5" cy="625.7" r="1.10" fill="#b0a088"/>
<circle cx="85.3" cy="642.8" r="0.90" fill="#9a8c76"/>
<circle cx="88.0" cy="644.7" r="0.80" fill="#b0a088"/>
<circle cx="66.5" cy="640.0" r="1.01" fill="#9a8c76"/>
<circle cx="66.1" cy="621.4" r="1.04" fill="#b0a088"/>
<circle cx="74.4" cy="626.1" r="0.77" fill="#a89a80"/>
<circle cx="95.3" cy="634.2" r="0.76" fill="#a89a80"/>
<circle cx="90.9" cy="628.2" r="0.80" fill="#b0a088"/>
<circle cx="82.9" cy="637.2" r="0.71" fill="#a89a80"/>
<circle cx="96.4" cy="624.2" r="0.76" fill="#9a8c76"/>
<circle cx="85.6" cy="626.3" r="0.93" fill="#9a8c76"/>
<circle cx="108.3" cy="608.8" r="0.81" fill="#c0ac88"/>
<circle cx="96.4" cy="612.1" r="1.08" fill="#b0a080"/>
<circle cx="106.6" cy="604.2" r="0.80" fill="#c0ac88"/>
<circle cx="112.8" cy="612.0" r="1.00" fill="#b0a080"/>
<circle cx="101.3" cy="599.1" r="0.74" fill="#b0a080"/>
<circle cx="121.7" cy="614.3" r="0.73" fill="#b0a080"/>
<circle cx="122.2" cy="599.8" r="0.92" fill="#a8946e"/>
<circle cx="111.9" cy="616.5" r="0.95" fill="#b0a080"/>
<circle cx="103.4" cy="605.3" r="0.98" fill="#c0ac88"/>
<circle cx="126.3" cy="610.3" r="0.90" fill="#c0ac88"/>
<circle cx="127.0" cy="614.4" r="0.70" fill="#a8946e"/>
<circle cx="130.6" cy="605.8" r="0.93" fill="#c0ac88"/>
<circle cx="105.3" cy="618.2" r="0.94" fill="#c0ac88"/>
<circle cx="97.7" cy="605.6" r="0.82" fill="#a8946e"/>
<circle cx="128.7" cy="614.7" r="0.90" fill="#c0ac88"/>
<circle cx="99.9" cy="610.2" r="0.90" fill="#c0ac88"/>
<circle cx="109.0" cy="608.4" r="0.82" fill="#c0ac88"/>
<circle cx="117.0" cy="609.3" r="0.73" fill="#a8946e"/>
<circle cx="135.1" cy="604.8" r="0.83" fill="#a8946e"/>
<circle cx="100.3" cy="598.7" r="0.73" fill="#a8946e"/>
<circle cx="116.2" cy="617.8" r="0.97" fill="#c0ac88"/>
<circle cx="113.7" cy="608.4" r="0.86" fill="#a8946e"/>
<circle cx="98.8" cy="597.5" r="0.96" fill="#b0a080"/>
<circle cx="105.9" cy="612.5" r="1.03" fill="#c0ac88"/>
<circle cx="113.1" cy="614.5" r="0.86" fill="#a8946e"/>
<circle cx="115.5" cy="610.9" r="1.09" fill="#b0a080"/>
<circle cx="97.5" cy="600.8" r="0.85" fill="#c0ac88"/>
<circle cx="131.6" cy="614.1" r="0.95" fill="#c0ac88"/>
<circle cx="107.2" cy="621.5" r="1.80" fill="#d0b898"/>
<circle cx="113.2" cy="641.0" r="1.60" fill="#b89474"/>
<circle cx="103.8" cy="624.2" r="2.06" fill="#d8c4a4"/>
<circle cx="117.5" cy="637.0" r="1.98" fill="#d0b898"/>
<circle cx="120.8" cy="639.7" r="1.18" fill="#b89474"/>
<circle cx="107.3" cy="626.5" r="1.84" fill="#d8c4a4"/>
<circle cx="120.1" cy="631.7" r="1.53" fill="#d0b898"/>
<circle cx="107.9" cy="641.0" r="1.78" fill="#b89474"/>
<circle cx="116.2" cy="633.1" r="1.61" fill="#b0a090"/>
<circle cx="127.9" cy="629.5" r="1.61" fill="#c8ac88"/>
<circle cx="107.5" cy="628.0" r="1.48" fill="#8aaa50"/>
<circle cx="104.3" cy="633.8" r="1.72" fill="#b89474"/>
<circle cx="108.1" cy="622.7" r="1.72" fill="#d8c4a4"/>
<circle cx="119.5" cy="643.8" r="1.13" fill="#b0a090"/>
<circle cx="104.4" cy="623.2" r="1.47" fill="#d8c4a4"/>
<circle cx="111.0" cy="632.0" r="1.71" fill="#d0b898"/>
<circle cx="99.8" cy="636.0" r="2.04" fill="#c8ac88"/>
<circle cx="120.9" cy="636.0" r="1.55" fill="#d8c4a4"/>
<circle cx="110.2" cy="635.5" r="1.89" fill="#b0a090"/>
<circle cx="101.5" cy="636.9" r="1.41" fill="#8aaa50"/>
<circle cx="104.9" cy="637.5" r="1.33" fill="#b0a090"/>
<circle cx="119.1" cy="623.1" r="1.57" fill="#b0a090"/>
<circle cx="125.4" cy="633.1" r="1.18" fill="#b0a090"/>
<circle cx="113.7" cy="620.7" r="1.29" fill="#d8c4a4"/>
<circle cx="103.1" cy="632.2" r="1.64" fill="#8aaa50"/>
<circle cx="100.8" cy="634.1" r="1.44" fill="#b89474"/>
<circle cx="118.6" cy="637.7" r="1.74" fill="#d8c4a4"/>
<circle cx="117.1" cy="629.8" r="1.17" fill="#a0b860"/>
<circle cx="125.1" cy="638.8" r="1.46" fill="#b89474"/>
<circle cx="116.7" cy="632.9" r="1.60" fill="#d0b898"/>
<circle cx="116.3" cy="624.0" r="1.13" fill="#c8ac88"/>
<circle cx="124.0" cy="628.0" r="1.51" fill="#d0b898"/>
<circle cx="119.1" cy="643.9" r="1.52" fill="#b89474"/>
<circle cx="117.2" cy="626.7" r="1.14" fill="#b89474"/>
<circle cx="104.6" cy="625.6" r="1.74" fill="#d8c4a4"/>
<circle cx="111.4" cy="623.2" r="1.26" fill="#b0a090"/>
<circle cx="112.1" cy="632.6" r="1.38" fill="#d8c4a4"/>
<circle cx="116.7" cy="643.2" r="2.00" fill="#a0b860"/>
<circle cx="110.0" cy="629.4" r="1.41" fill="#c8ac88"/>
<circle cx="127.6" cy="627.5" r="1.89" fill="#d8c4a4"/>
<circle cx="119.3" cy="629.2" r="1.37" fill="#d8c4a4"/>
<circle cx="114.4" cy="621.6" r="1.26" fill="#a0b860"/>
<circle cx="104.4" cy="632.0" r="1.33" fill="#a0b860"/>
<circle cx="101.6" cy="628.1" r="1.84" fill="#b89474"/>
<circle cx="120.2" cy="628.6" r="1.70" fill="#b89474"/>
<circle cx="100.9" cy="629.1" r="1.46" fill="#c8ac88"/>
<circle cx="128.3" cy="631.5" r="2.05" fill="#b0a090"/>
<circle cx="126.1" cy="633.7" r="1.31" fill="#d8c4a4"/>
<circle cx="116.5" cy="641.2" r="1.47" fill="#a0b860"/>
<circle cx="112.3" cy="637.0" r="1.76" fill="#a0b860"/>
<circle cx="105.7" cy="623.2" r="1.85" fill="#d0b898"/>
<circle cx="115.5" cy="637.4" r="1.93" fill="#c8ac88"/>
<circle cx="106.3" cy="632.4" r="1.64" fill="#8aaa50"/>
<circle cx="117.7" cy="643.1" r="1.44" fill="#8aaa50"/>
<circle cx="118.2" cy="621.5" r="1.83" fill="#c8ac88"/>
<circle cx="107.3" cy="637.7" r="1.10" fill="#d0b898"/>
<circle cx="119.5" cy="626.7" r="1.93" fill="#8aaa50"/>
<circle cx="116.3" cy="637.9" r="1.83" fill="#b0a090"/>
<circle cx="115.2" cy="621.4" r="1.13" fill="#b0a090"/>
<circle cx="119.8" cy="637.5" r="1.45" fill="#a0b860"/>
<circle cx="423.1" cy="544.1" r="0.86" fill="#6a8a5a"/>
<circle cx="426.5" cy="538.5" r="0.83" fill="#5a7a4a"/>
<circle cx="432.0" cy="542.4" r="0.63" fill="#6a8a5a"/>
<circle cx="422.5" cy="540.3" r="0.83" fill="#5a7a4a"/>
<circle cx="419.3" cy="536.0" r="0.62" fill="#7a9a6a"/>
<circle cx="429.9" cy="542.3" r="0.82" fill="#5a7a4a"/>
<circle cx="424.0" cy="544.3" r="0.65" fill="#8aa07a"/>
<circle cx="416.6" cy="538.3" r="0.64" fill="#5a7a4a"/>
<circle cx="419.3" cy="545.8" r="0.63" fill="#6a8a5a"/>
<circle cx="419.3" cy="536.7" r="0.81" fill="#8aa07a"/>
<circle cx="414.7" cy="542.9" r="0.74" fill="#5a7a4a"/>
<circle cx="427.5" cy="533.8" r="0.70" fill="#8aa07a"/>
<circle cx="414.8" cy="539.7" r="0.89" fill="#8aa07a"/>
<circle cx="422.7" cy="539.5" r="0.80" fill="#5a7a4a"/>
<circle cx="425.2" cy="537.5" r="0.80" fill="#6a8a5a"/>
<circle cx="428.0" cy="540.4" r="0.82" fill="#8aa07a"/>
<circle cx="421.5" cy="545.5" r="0.80" fill="#7a9a6a"/>
<circle cx="428.1" cy="542.2" r="0.71" fill="#6a8a5a"/>
<circle cx="433.6" cy="543.8" r="0.86" fill="#7a9a6a"/>
<circle cx="423.5" cy="546.5" r="0.87" fill="#6a8a5a"/>
<circle cx="431.1" cy="539.0" r="0.84" fill="#7a9a6a"/>
<circle cx="434.0" cy="543.9" r="0.65" fill="#5a7a4a"/>
<circle cx="416.6" cy="546.2" r="0.80" fill="#5a7a4a"/>
<circle cx="417.3" cy="543.1" r="0.95" fill="#7a9a6a"/>
<circle cx="428.8" cy="537.4" r="0.77" fill="#8aa07a"/>
<circle cx="422.2" cy="535.9" r="0.69" fill="#6a8a5a"/>
<circle cx="427.4" cy="544.9" r="0.69" fill="#7a9a6a"/>
<circle cx="427.3" cy="537.6" r="0.71" fill="#5a7a4a"/>
<circle cx="452.3" cy="646.5" r="1.25" fill="#6a78a0"/>
<circle cx="459.7" cy="648.0" r="1.25" fill="#6a78a0"/>
<circle cx="466.5" cy="648.5" r="1.25" fill="#6a78a0"/>
<circle cx="445.8" cy="650.8" r="1.25" fill="#6a78a0"/>
<circle cx="452.6" cy="650.5" r="1.25" fill="#5a9a5a"/>
<circle cx="453.0" cy="653.8" r="1.25" fill="#6a78a0"/>
<circle cx="460.3" cy="654.2" r="1.25" fill="#5a9a5a"/>
<circle cx="463.4" cy="653.0" r="1.25" fill="#5a9a5a"/>
<circle cx="439.7" cy="656.2" r="1.25" fill="#6a78a0"/>
<circle cx="444.3" cy="657.0" r="1.25" fill="#5a9a5a"/>
<circle cx="447.0" cy="657.0" r="1.25" fill="#5a9a5a"/>
<circle cx="449.5" cy="660.3" r="1.25" fill="#5a9a5a"/>
<circle cx="458.2" cy="657.7" r="1.25" fill="#5a9a5a"/>
<circle cx="461.8" cy="660.3" r="1.25" fill="#6a78a0"/>
<circle cx="441.2" cy="663.4" r="1.25" fill="#6a78a0"/>
<circle cx="447.0" cy="664.6" r="1.25" fill="#5a9a5a"/>
<circle cx="461.2" cy="664.3" r="1.25" fill="#6a78a0"/>
<circle cx="445.8" cy="667.0" r="1.25" fill="#5a9a5a"/>
<circle cx="453.5" cy="667.4" r="1.25" fill="#6a78a0"/>
<circle cx="450.0" cy="662.0" r="1.25" fill="#5a9a5a"/>
<circle cx="456.0" cy="652.0" r="1.25" fill="#5a9a5a"/>
<circle cx="353.0" cy="697.7" r="2.00" fill="#a87898"/>
<circle cx="360.3" cy="695.6" r="2.00" fill="#a87898"/>
<circle cx="366.6" cy="699.8" r="1.90" fill="#a87898"/>
<circle cx="347.0" cy="700.8" r="1.20" fill="#9a6a8a"/>
<circle cx="359.6" cy="702.5" r="2.00" fill="#a87898"/>
<circle cx="352.2" cy="705.5" r="2.00" fill="#a87898"/>
<circle cx="348.7" cy="707.2" r="1.30" fill="#9a6a8a"/>
<circle cx="342.7" cy="708.9" r="1.50" fill="#9a6a8a"/>
<circle cx="363.4" cy="710.1" r="1.30" fill="#9a6a8a"/>
<circle cx="370.0" cy="712.9" r="2.00" fill="#a87898"/>
<circle cx="361.7" cy="721.9" r="1.30" fill="#9a6a8a"/>
<circle cx="355.1" cy="723.6" r="1.30" fill="#9a6a8a"/>
<circle cx="361.4" cy="725.7" r="2.00" fill="#a87898"/>
<circle cx="369.0" cy="730.2" r="2.00" fill="#a87898"/>
<circle cx="375.6" cy="728.0" r="1.20" fill="#9a6a8a"/>
<circle cx="382.1" cy="725.4" r="1.30" fill="#9a6a8a"/>
<circle cx="377.0" cy="734.4" r="1.00" fill="#9a6a8a"/>
<circle cx="351.0" cy="714.0" r="1.20" fill="#9a6a8a"/>
<circle cx="366.0" cy="706.0" r="1.10" fill="#9a6a8a"/>
<circle cx="131.0" cy="755.4" r="1.10" fill="#c890a8"/>
<circle cx="132.0" cy="759.8" r="1.00" fill="#c890a8"/>
<circle cx="134.0" cy="761.7" r="1.10" fill="#c890a8"/>
<circle cx="129.0" cy="765.0" r="1.10" fill="#c890a8"/>
<circle cx="137.3" cy="768.5" r="1.20" fill="#c890a8"/>
<circle cx="135.8" cy="770.8" r="1.10" fill="#c890a8"/>
<circle cx="143.5" cy="764.2" r="1.00" fill="#c890a8"/>
<circle cx="150.8" cy="758.8" r="0.90" fill="#c890a8"/>
<circle cx="139.0" cy="764.0" r="0.90" fill="#c890a8"/>
<circle cx="133.0" cy="757.0" r="0.80" fill="#c890a8"/>
<circle cx="392.3" cy="592.6" r="1.00" fill="#a07888"/>
<circle cx="391.5" cy="598.5" r="1.50" fill="#b09098"/>
<circle cx="403.0" cy="594.6" r="1.20" fill="#e0a090"/>
<circle cx="408.0" cy="598.5" r="1.50" fill="#a07888"/>
<circle cx="413.4" cy="601.8" r="1.50" fill="#b08090"/>
<circle cx="408.2" cy="605.8" r="1.00" fill="#8a8aaa"/>
<circle cx="396.5" cy="609.5" r="1.80" fill="#b08898"/>
<circle cx="322.3" cy="462.7" r="2.20" fill="#5a4a6a"/>
<circle cx="316.2" cy="467.7" r="1.80" fill="#8a8aa0"/>
<circle cx="297.7" cy="463.5" r="1.20" fill="#6a5a6a"/>
<circle cx="335.4" cy="466.9" r="2.00" fill="#6a6a80"/>
<circle cx="345.0" cy="467.7" r="1.00" fill="#555"/>
<circle cx="380.2" cy="474.0" r="2.00" fill="#707090"/>
<circle cx="388.7" cy="471.8" r="2.00" fill="#6a6a90"/>
<circle cx="395.4" cy="474.6" r="1.40" fill="#777"/>
<circle cx="401.3" cy="474.0" r="1.20" fill="#777"/>
<circle cx="405.2" cy="481.8" r="1.60" fill="#8a8a98"/>
<circle cx="383.4" cy="492.3" r="1.40" fill="#999"/>
<circle cx="369.0" cy="470.0" r="1.20" fill="#b08090"/>
<circle cx="392.0" cy="468.0" r="1.20" fill="#8a8aa0"/>
<circle cx="193.0" cy="684.7" r="1.00" fill="#c07890"/>
<circle cx="198.0" cy="688.5" r="1.10" fill="#c07890"/>
<circle cx="194.5" cy="711.7" r="1.00" fill="#666"/>
<circle cx="186.0" cy="713.8" r="0.80" fill="#777"/>
<circle cx="156.5" cy="744.4" r="2.00" fill="#9090c8"/>
<circle cx="216.0" cy="735.0" r="1.40" fill="#9a8aa0"/>
<circle cx="251.3" cy="784.5" r="1.00" fill="#888"/>
<circle cx="288.0" cy="792.0" r="1.40" fill="#9a8a9a"/>
<circle cx="322.0" cy="795.5" r="1.40" fill="#c88098"/>
<circle cx="313.0" cy="796.0" r="1.40" fill="#a0a060"/>
<circle cx="328.8" cy="803.0" r="1.00" fill="#888"/>
<path d="M290 466 Q330 459 370 466 L400 474" fill="none" stroke="#e0a8b8" stroke-width="0.7" stroke-dasharray="2 1.5"/>
<path d="M294 474.6 L351 472.7" fill="none" stroke="#e0b0c0" stroke-width="0.6" stroke-dasharray="2 1.5"/>
<ellipse cx="352.3" cy="468.7" rx="93.5" ry="40" transform="rotate(2 352.3 468.7)" fill="none" stroke="#2b3263" stroke-width="1.4"/>
<line x1="90.8" y1="442.7" x2="99.0" y2="479.6" stroke="#222" stroke-width="0.9"/>
<circle cx="99.0" cy="479.6" r="2.60" fill="#8aa38a" stroke="#222" stroke-width="0.9"/>
<line x1="108.7" y1="484.4" x2="133.6" y2="509.4" stroke="#222" stroke-width="0.9"/>
<circle cx="108.7" cy="484.4" r="2.60" fill="#c4e3e5" stroke="#222" stroke-width="0.9"/>
<circle cx="108.7" cy="484.4" r="0.90" fill="#222"/>
<text x="74.6" y="440.8" font-size="7.5" fill="#333" stroke="#333" stroke-width="0.1" textLength="31.2" lengthAdjust="spacingAndGlyphs">Ornithine</text>
<text x="134.8" y="514.8" font-size="7.5" fill="#333" stroke="#333" stroke-width="0.1" textLength="18.4" lengthAdjust="spacingAndGlyphs">ARG1</text>
<line x1="185.8" y1="432.5" x2="199.0" y2="464.5" stroke="#222" stroke-width="0.9"/>
<circle cx="199.0" cy="464.5" r="2.50" fill="#d8d0cc" stroke="#2a2a2a" stroke-width="1.0"/>
<text x="172.5" y="431.1" font-size="7.5" fill="#333" stroke="#333" stroke-width="0.1" textLength="41.3" lengthAdjust="spacingAndGlyphs">L-Glutamate</text>
<line x1="286.7" y1="457.7" x2="289.6" y2="466.3" stroke="#222" stroke-width="0.9"/>
<circle cx="289.6" cy="466.3" r="2.45" fill="#5a2e45" stroke="#222" stroke-width="0.9"/>
<line x1="297.0" y1="442.3" x2="303.0" y2="461.5" stroke="#222" stroke-width="0.9"/>
<circle cx="303.5" cy="462.9" r="2.45" fill="#5a2e45" stroke="#222" stroke-width="0.9"/>
<line x1="310.4" y1="450.6" x2="308.8" y2="462.5" stroke="#222" stroke-width="0.9"/>
<circle cx="308.8" cy="462.5" r="2.45" fill="#5a2e45" stroke="#222" stroke-width="0.9"/>
<line x1="327.0" y1="447.7" x2="319.4" y2="456.3" stroke="#222" stroke-width="0.9"/>
<circle cx="319.4" cy="456.3" r="2.40" fill="#e8dde8" stroke="#222" stroke-width="0.9"/>
<circle cx="319.4" cy="456.3" r="0.90" fill="#222"/>
<line x1="294.0" y1="474.6" x2="296.0" y2="483.7" stroke="#222" stroke-width="0.9"/>
<circle cx="294.0" cy="474.6" r="2.45" fill="#5a2e45" stroke="#222" stroke-width="0.9"/>
<line x1="350.8" y1="473.8" x2="347.0" y2="481.5" stroke="#222" stroke-width="0.9"/>
<circle cx="350.6" cy="472.7" r="2.70" fill="#4a3040" stroke="#222" stroke-width="0.9"/>
<line x1="366.4" y1="457.0" x2="369.2" y2="467.0" stroke="#222" stroke-width="0.9"/>
<circle cx="369.2" cy="467.0" r="2.45" fill="#5a2e45" stroke="#222" stroke-width="0.9"/>
<line x1="378.7" y1="452.8" x2="377.7" y2="464.4" stroke="#222" stroke-width="0.9"/>
<circle cx="377.7" cy="464.4" r="2.40" fill="#eee" stroke="#222" stroke-width="0.9"/>
<circle cx="377.7" cy="464.4" r="0.90" fill="#222"/>
<line x1="391.8" y1="460.6" x2="383.8" y2="468.2" stroke="#222" stroke-width="0.9"/>
<circle cx="383.8" cy="468.2" r="2.40" fill="#dde" stroke="#222" stroke-width="0.9"/>
<circle cx="383.8" cy="468.2" r="0.90" fill="#222"/>
<line x1="391.8" y1="487.3" x2="406.0" y2="493.0" stroke="#222" stroke-width="0.9"/>
<circle cx="391.8" cy="487.3" r="2.70" fill="#4a6a5a" stroke="#222" stroke-width="0.9"/>
<text x="279.6" y="455.4" font-size="7.5" fill="#333" stroke="#333" stroke-width="0.1" textLength="14.8" lengthAdjust="spacingAndGlyphs">FGA</text>
<text x="290.2" y="441.0" font-size="7.5" fill="#333" stroke="#333" stroke-width="0.1" textLength="14.4" lengthAdjust="spacingAndGlyphs">FGB</text>
<text x="302.0" y="449.6" font-size="7.5" fill="#333" stroke="#333" stroke-width="0.1" textLength="15.5" lengthAdjust="spacingAndGlyphs">FGG</text>
<text x="322.7" y="446.4" font-size="7.5" fill="#333" stroke="#333" stroke-width="0.1" textLength="19.8" lengthAdjust="spacingAndGlyphs">KNG1</text>
<text x="297.0" y="490.8" font-size="7.5" fill="#333" stroke="#333" stroke-width="0.1" textLength="6.8" lengthAdjust="spacingAndGlyphs">F2</text>
<text x="330.8" y="489.1" font-size="7.5" fill="#333" stroke="#333" stroke-width="0.1" textLength="35.4" lengthAdjust="spacingAndGlyphs">SERPING1</text>
<text x="359.0" y="456.1" font-size="7.5" fill="#333" stroke="#333" stroke-width="0.1" textLength="12.7" lengthAdjust="spacingAndGlyphs">FN1</text>
<text x="375.0" y="451.3" font-size="7.5" fill="#333" stroke="#333" stroke-width="0.1" textLength="15.3" lengthAdjust="spacingAndGlyphs">GSN</text>
<text x="390.8" y="459.7" font-size="7.5" fill="#333" stroke="#333" stroke-width="0.1" textLength="13.7" lengthAdjust="spacingAndGlyphs">C4A</text>
<text x="407.3" y="495.7" font-size="7.5" fill="#333" stroke="#333" stroke-width="0.1" textLength="22.7" lengthAdjust="spacingAndGlyphs">Taurine</text>
<text x="428.7" y="432.7" font-size="7.3" fill="#3a3a3a" stroke="#3a3a3a" stroke-width="0.1" font-style="italic" textLength="14.0" lengthAdjust="spacingAndGlyphs">Viral</text>
<text x="420.1" y="441.3" font-size="7.3" fill="#3a3a3a" stroke="#3a3a3a" stroke-width="0.1" font-style="italic" textLength="31.7" lengthAdjust="spacingAndGlyphs">Response</text>
<line x1="431.6" y1="515.5" x2="435.3" y2="534.7" stroke="#222" stroke-width="0.9"/>
<circle cx="435.3" cy="534.7" r="2.50" fill="#cfdccf" stroke="#223" stroke-width="0.9"/>
<circle cx="435.3" cy="534.7" r="0.90" fill="#223"/>
<line x1="404.0" y1="520.9" x2="429.9" y2="539.0" stroke="#222" stroke-width="0.9"/>
<circle cx="429.9" cy="539.0" r="2.50" fill="#b8c488" stroke="#2a3a1a" stroke-width="1.0"/>
<text x="417.5" y="513.6" font-size="7.5" fill="#333" stroke="#333" stroke-width="0.1" textLength="27.6" lengthAdjust="spacingAndGlyphs">FA(18:0)</text>
<text x="384.0" y="519.3" font-size="7.5" fill="#333" stroke="#333" stroke-width="0.1" textLength="27.0" lengthAdjust="spacingAndGlyphs">FA(20:5)</text>
<line x1="413.4" y1="576.0" x2="414.9" y2="583.8" stroke="#222" stroke-width="0.9"/>
<circle cx="414.9" cy="583.8" r="2.30" fill="#eee" stroke="#222" stroke-width="0.9"/>
<circle cx="414.9" cy="583.8" r="0.90" fill="#222"/>
<line x1="401.0" y1="600.5" x2="404.0" y2="617.7" stroke="#222" stroke-width="0.9"/>
<circle cx="401.0" cy="600.5" r="2.70" fill="#3a5a8a" stroke="#1a2a4a" stroke-width="0.9"/>
<circle cx="401.0" cy="600.5" r="0.90" fill="#1a2a4a"/>
<text x="393.0" y="575.2" font-size="7.5" fill="#333" stroke="#333" stroke-width="0.1" textLength="37.8" lengthAdjust="spacingAndGlyphs">Spermidine</text>
<text x="393.8" y="622.9" font-size="7.5" fill="#333" stroke="#333" stroke-width="0.1" textLength="37.7" lengthAdjust="spacingAndGlyphs">Spermidine</text>
<line x1="455.0" y1="661.8" x2="465.4" y2="690.0" stroke="#222" stroke-width="0.9"/>
<circle cx="455.0" cy="661.8" r="2.70" fill="#8a9a8a" stroke="#222" stroke-width="0.9"/>
<circle cx="455.0" cy="661.8" r="0.90" fill="#222"/>
<text x="438.2" y="696.0" font-size="7.5" fill="#333" stroke="#333" stroke-width="0.1" textLength="50.7" lengthAdjust="spacingAndGlyphs">Pelargonic acid</text>
<circle cx="356.2" cy="711.2" r="2.50" fill="#3a6ab0" stroke="#2a4a8a" stroke-width="0.6"/>
<circle cx="363.8" cy="718.1" r="2.10" fill="#4a9a6a"/>
<circle cx="356.2" cy="719.3" r="2.00" fill="#c04060"/>
<line x1="370.0" y1="725.4" x2="380.2" y2="753.0" stroke="#222" stroke-width="0.9"/>
<circle cx="370.0" cy="725.4" r="2.70" fill="#d8d0c8" stroke="#222" stroke-width="0.9"/>
<text x="369.4" y="761.0" font-size="7.5" fill="#333" stroke="#333" stroke-width="0.1" textLength="23.7" lengthAdjust="spacingAndGlyphs">Uridine</text>
<line x1="86.2" y1="566.5" x2="117.3" y2="621.2" stroke="#222" stroke-width="0.9"/>
<line x1="52.7" y1="578.0" x2="102.8" y2="624.6" stroke="#222" stroke-width="0.9"/>
<line x1="124.2" y1="625.3" x2="159.6" y2="645.8" stroke="#222" stroke-width="0.9"/>
<line x1="118.0" y1="628.1" x2="165.4" y2="658.5" stroke="#222" stroke-width="0.9"/>
<line x1="125.4" y1="639.6" x2="120.5" y2="680.7" stroke="#222" stroke-width="0.9"/>
<line x1="101.8" y1="638.0" x2="84.2" y2="690.4" stroke="#222" stroke-width="0.9"/>
<circle cx="117.3" cy="621.2" r="2.70" fill="#7a6a4a" stroke="#2f4f1f" stroke-width="1.0"/>
<circle cx="102.8" cy="624.6" r="2.70" fill="#b8c080" stroke="#2f4f1f" stroke-width="1.0"/>
<circle cx="124.2" cy="625.3" r="2.70" fill="#b8c080" stroke="#2f4f1f" stroke-width="1.0"/>
<circle cx="118.0" cy="628.1" r="2.70" fill="#8a9a5a" stroke="#2f4f1f" stroke-width="1.0"/>
<circle cx="125.4" cy="639.6" r="2.70" fill="#b8c080" stroke="#2f4f1f" stroke-width="1.0"/>
<circle cx="101.8" cy="638.0" r="2.70" fill="#a8b070" stroke="#2f4f1f" stroke-width="1.0"/>
<text x="72.3" y="564.4" font-size="7.5" fill="#333" stroke="#333" stroke-width="0.1" textLength="31.2" lengthAdjust="spacingAndGlyphs">L-Alanine</text>
<text x="45.0" y="576.4" font-size="7.5" fill="#333" stroke="#333" stroke-width="0.1" textLength="26.2" lengthAdjust="spacingAndGlyphs">L-Valine</text>
<text x="160.8" y="648.0" font-size="7.5" fill="#333" stroke="#333" stroke-width="0.1" textLength="34.6" lengthAdjust="spacingAndGlyphs">L-Arginine</text>
<text x="167.2" y="660.9" font-size="7.5" fill="#333" stroke="#333" stroke-width="0.1" textLength="44.8" lengthAdjust="spacingAndGlyphs">L-Tryptophan</text>
<text x="108.8" y="687.6" font-size="7.5" fill="#333" stroke="#333" stroke-width="0.1" textLength="25.6" lengthAdjust="spacingAndGlyphs">L-Lysine</text>
<text x="73.8" y="699.1" font-size="7.5" fill="#333" stroke="#333" stroke-width="0.1" textLength="38.4" lengthAdjust="spacingAndGlyphs">L-Isoleucine</text>
<line x1="194.5" y1="689.5" x2="213.6" y2="699.5" stroke="#222" stroke-width="0.9"/>
<circle cx="194.5" cy="689.5" r="2.40" fill="#f0d0d8" stroke="#8a5a6a" stroke-width="0.9"/>
<circle cx="194.5" cy="689.5" r="0.90" fill="#8a5a6a"/>
<line x1="172.3" y1="705.0" x2="193.0" y2="707.1" stroke="#222" stroke-width="0.9"/>
<circle cx="193.0" cy="707.1" r="2.80" fill="#555" stroke="#333" stroke-width="0.9"/>
<text x="214.2" y="703.4" font-size="7.5" fill="#333" stroke="#333" stroke-width="0.1" textLength="21.6" lengthAdjust="spacingAndGlyphs">PRDX6</text>
<text x="141.6" y="705.6" font-size="7.5" fill="#333" stroke="#333" stroke-width="0.1" textLength="29.0" lengthAdjust="spacingAndGlyphs">Uric acid</text>
<line x1="125.8" y1="749.2" x2="146.9" y2="751.7" stroke="#222" stroke-width="0.9"/>
<circle cx="146.9" cy="751.7" r="2.70" fill="#a8a870" stroke="#222" stroke-width="0.9"/>
<line x1="140.0" y1="758.8" x2="141.9" y2="775.2" stroke="#222" stroke-width="0.9"/>
<circle cx="140.0" cy="758.8" r="2.70" fill="#a8a870" stroke="#222" stroke-width="0.9"/>
<text x="95.8" y="751.4" font-size="7.5" fill="#333" stroke="#333" stroke-width="0.1" textLength="28.0" lengthAdjust="spacingAndGlyphs">Creatine</text>
<text x="134.8" y="782.9" font-size="7.5" fill="#333" stroke="#333" stroke-width="0.1" textLength="32.1" lengthAdjust="spacingAndGlyphs">Riboflavin</text>
<line x1="248.0" y1="773.8" x2="242.0" y2="788.0" stroke="#222" stroke-width="0.9"/>
<circle cx="248.0" cy="773.8" r="2.60" fill="#6a9090" stroke="#1a3a3a" stroke-width="1.0"/>
<line x1="311.2" y1="782.0" x2="317.0" y2="800.0" stroke="#222" stroke-width="0.9"/>
<circle cx="317.0" cy="800.0" r="2.70" fill="#8a8a7a" stroke="#222" stroke-width="0.9"/>
<text x="229.5" y="796.1" font-size="7.5" fill="#333" stroke="#333" stroke-width="0.1" textLength="29.3" lengthAdjust="spacingAndGlyphs">Xanthine</text>
<text x="297.5" y="780.1" font-size="7.5" fill="#333" stroke="#333" stroke-width="0.1" textLength="18.7" lengthAdjust="spacingAndGlyphs">Uracil</text>
<rect x="0.5" y="0.5" width="519" height="811" fill="none" stroke="#333" stroke-width="1.2"/>
</svg></body></html>
